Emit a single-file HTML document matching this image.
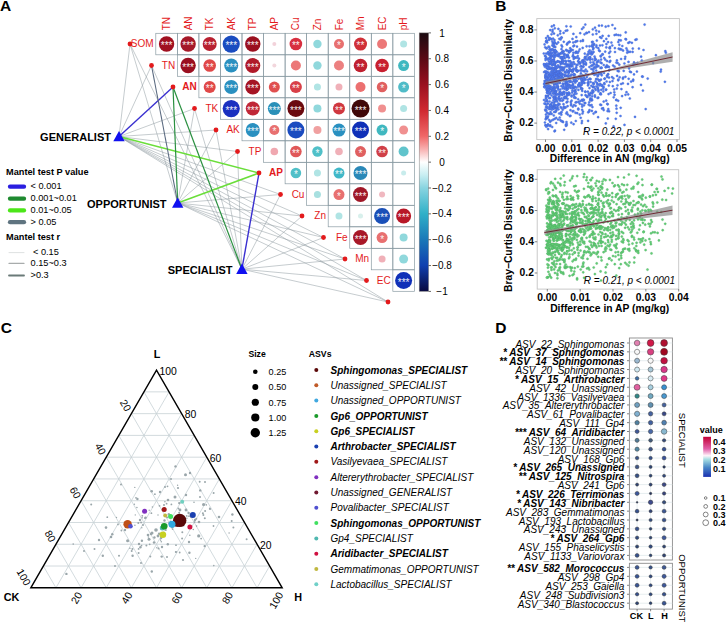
<!DOCTYPE html><html><head><meta charset="utf-8"><style>html,body{margin:0;padding:0;background:#fff;}svg{display:block;font-family:"Liberation Sans",sans-serif;}</style></head><body><svg width="726" height="622" viewBox="0 0 726 622"><text x="0" y="11.3" font-size="15.5" font-weight="bold">A</text>
<text x="495.3" y="11.100000000000001" font-size="15.5" font-weight="bold">B</text>
<text x="0.8" y="333.40000000000003" font-size="15.5" font-weight="bold">C</text>
<text x="495.2" y="333.40000000000003" font-size="15.5" font-weight="bold">D</text>
<g fill="none">
<line x1="119.0" y1="136.5" x2="130.0" y2="44.0" stroke="#8c989e" stroke-width="0.5"/>
<line x1="119.0" y1="136.5" x2="151.5" y2="65.5" stroke="#8c989e" stroke-width="0.5"/>
<line x1="119.0" y1="136.5" x2="194.5" y2="108.5" stroke="#8c989e" stroke-width="0.5"/>
<line x1="119.0" y1="136.5" x2="216.0" y2="130.0" stroke="#8c989e" stroke-width="0.5"/>
<line x1="119.0" y1="136.5" x2="237.5" y2="151.5" stroke="#8c989e" stroke-width="0.5"/>
<line x1="119.0" y1="136.5" x2="280.5" y2="194.5" stroke="#8c989e" stroke-width="0.5"/>
<line x1="119.0" y1="136.5" x2="302.0" y2="216.0" stroke="#8c989e" stroke-width="0.5"/>
<line x1="119.0" y1="136.5" x2="323.5" y2="237.5" stroke="#8c989e" stroke-width="0.5"/>
<line x1="119.0" y1="136.5" x2="345.0" y2="259.0" stroke="#8c989e" stroke-width="0.5"/>
<line x1="119.0" y1="136.5" x2="366.5" y2="280.5" stroke="#8c989e" stroke-width="0.5"/>
<line x1="119.0" y1="136.5" x2="388.0" y2="302.0" stroke="#8c989e" stroke-width="0.5"/>
<line x1="177.7" y1="203.0" x2="130.0" y2="44.0" stroke="#8c989e" stroke-width="0.5"/>
<line x1="177.7" y1="203.0" x2="194.5" y2="108.5" stroke="#8c989e" stroke-width="0.5"/>
<line x1="177.7" y1="203.0" x2="216.0" y2="130.0" stroke="#8c989e" stroke-width="0.5"/>
<line x1="177.7" y1="203.0" x2="237.5" y2="151.5" stroke="#8c989e" stroke-width="0.5"/>
<line x1="177.7" y1="203.0" x2="280.5" y2="194.5" stroke="#8c989e" stroke-width="0.5"/>
<line x1="177.7" y1="203.0" x2="302.0" y2="216.0" stroke="#8c989e" stroke-width="0.5"/>
<line x1="177.7" y1="203.0" x2="323.5" y2="237.5" stroke="#8c989e" stroke-width="0.5"/>
<line x1="177.7" y1="203.0" x2="345.0" y2="259.0" stroke="#8c989e" stroke-width="0.5"/>
<line x1="177.7" y1="203.0" x2="366.5" y2="280.5" stroke="#8c989e" stroke-width="0.5"/>
<line x1="177.7" y1="203.0" x2="388.0" y2="302.0" stroke="#8c989e" stroke-width="0.5"/>
<line x1="241.9" y1="269.2" x2="130.0" y2="44.0" stroke="#8c989e" stroke-width="0.5"/>
<line x1="241.9" y1="269.2" x2="151.5" y2="65.5" stroke="#8c989e" stroke-width="0.5"/>
<line x1="241.9" y1="269.2" x2="194.5" y2="108.5" stroke="#8c989e" stroke-width="0.5"/>
<line x1="241.9" y1="269.2" x2="216.0" y2="130.0" stroke="#8c989e" stroke-width="0.5"/>
<line x1="241.9" y1="269.2" x2="237.5" y2="151.5" stroke="#8c989e" stroke-width="0.5"/>
<line x1="241.9" y1="269.2" x2="280.5" y2="194.5" stroke="#8c989e" stroke-width="0.5"/>
<line x1="241.9" y1="269.2" x2="302.0" y2="216.0" stroke="#8c989e" stroke-width="0.5"/>
<line x1="241.9" y1="269.2" x2="323.5" y2="237.5" stroke="#8c989e" stroke-width="0.5"/>
<line x1="241.9" y1="269.2" x2="345.0" y2="259.0" stroke="#8c989e" stroke-width="0.5"/>
<line x1="241.9" y1="269.2" x2="366.5" y2="280.5" stroke="#8c989e" stroke-width="0.5"/>
<line x1="241.9" y1="269.2" x2="388.0" y2="302.0" stroke="#8c989e" stroke-width="0.5"/>
<line x1="119.0" y1="136.5" x2="173.0" y2="87.0" stroke="#3a30d0" stroke-width="1.4"/>
<line x1="119.0" y1="136.5" x2="259.0" y2="173.0" stroke="#6ade3a" stroke-width="1.5"/>
<line x1="177.7" y1="203.0" x2="173.0" y2="87.0" stroke="#2a9040" stroke-width="1.2"/>
<line x1="177.7" y1="203.0" x2="151.5" y2="65.5" stroke="#5a6a80" stroke-width="1.1"/>
<line x1="177.7" y1="203.0" x2="259.0" y2="173.0" stroke="#6ade3a" stroke-width="1.5"/>
<line x1="241.9" y1="269.2" x2="173.0" y2="87.0" stroke="#2a9040" stroke-width="1.2"/>
<line x1="241.9" y1="269.2" x2="259.0" y2="173.0" stroke="#3a30d0" stroke-width="1.4"/>
</g>
<circle cx="130.0" cy="44.0" r="2.4" fill="#e31a1c"/>
<circle cx="151.5" cy="65.5" r="2.4" fill="#e31a1c"/>
<circle cx="173.0" cy="87.0" r="2.4" fill="#e31a1c"/>
<circle cx="194.5" cy="108.5" r="2.4" fill="#e31a1c"/>
<circle cx="216.0" cy="130.0" r="2.4" fill="#e31a1c"/>
<circle cx="237.5" cy="151.5" r="2.4" fill="#e31a1c"/>
<circle cx="259.0" cy="173.0" r="2.4" fill="#e31a1c"/>
<circle cx="280.5" cy="194.5" r="2.4" fill="#e31a1c"/>
<circle cx="302.0" cy="216.0" r="2.4" fill="#e31a1c"/>
<circle cx="323.5" cy="237.5" r="2.4" fill="#e31a1c"/>
<circle cx="345.0" cy="259.0" r="2.4" fill="#e31a1c"/>
<circle cx="366.5" cy="280.5" r="2.4" fill="#e31a1c"/>
<circle cx="388.0" cy="302.0" r="2.4" fill="#e31a1c"/>
<path d="M113.3,141.2 L124.7,141.2 L119.0,130.9 Z" fill="#1010f0"/>
<path d="M172.0,207.7 L183.39999999999998,207.7 L177.7,197.4 Z" fill="#1010f0"/>
<path d="M236.20000000000002,273.9 L247.6,273.9 L241.9,263.59999999999997 Z" fill="#1010f0"/>
<g font-size="11" font-weight="bold" text-anchor="end">
<text x="111" y="140.5">GENERALIST</text>
<text x="166.5" y="207.5">OPPORTUNIST</text>
<text x="232.5" y="273.5">SPECIALIST</text>
</g>
<g fill="none" stroke="#8a9ca4" stroke-width="0.7">
<rect x="155.80" y="33.30" width="21.55" height="21.5"/>
<rect x="177.35" y="33.30" width="21.55" height="21.5"/>
<rect x="198.90" y="33.30" width="21.55" height="21.5"/>
<rect x="220.45" y="33.30" width="21.55" height="21.5"/>
<rect x="242.00" y="33.30" width="21.55" height="21.5"/>
<rect x="263.55" y="33.30" width="21.55" height="21.5"/>
<rect x="285.10" y="33.30" width="21.55" height="21.5"/>
<rect x="306.65" y="33.30" width="21.55" height="21.5"/>
<rect x="328.20" y="33.30" width="21.55" height="21.5"/>
<rect x="349.75" y="33.30" width="21.55" height="21.5"/>
<rect x="371.30" y="33.30" width="21.55" height="21.5"/>
<rect x="392.85" y="33.30" width="21.55" height="21.5"/>
<rect x="177.35" y="54.80" width="21.55" height="21.5"/>
<rect x="198.90" y="54.80" width="21.55" height="21.5"/>
<rect x="220.45" y="54.80" width="21.55" height="21.5"/>
<rect x="242.00" y="54.80" width="21.55" height="21.5"/>
<rect x="263.55" y="54.80" width="21.55" height="21.5"/>
<rect x="285.10" y="54.80" width="21.55" height="21.5"/>
<rect x="306.65" y="54.80" width="21.55" height="21.5"/>
<rect x="328.20" y="54.80" width="21.55" height="21.5"/>
<rect x="349.75" y="54.80" width="21.55" height="21.5"/>
<rect x="371.30" y="54.80" width="21.55" height="21.5"/>
<rect x="392.85" y="54.80" width="21.55" height="21.5"/>
<rect x="198.90" y="76.30" width="21.55" height="21.5"/>
<rect x="220.45" y="76.30" width="21.55" height="21.5"/>
<rect x="242.00" y="76.30" width="21.55" height="21.5"/>
<rect x="263.55" y="76.30" width="21.55" height="21.5"/>
<rect x="285.10" y="76.30" width="21.55" height="21.5"/>
<rect x="306.65" y="76.30" width="21.55" height="21.5"/>
<rect x="328.20" y="76.30" width="21.55" height="21.5"/>
<rect x="349.75" y="76.30" width="21.55" height="21.5"/>
<rect x="371.30" y="76.30" width="21.55" height="21.5"/>
<rect x="392.85" y="76.30" width="21.55" height="21.5"/>
<rect x="220.45" y="97.80" width="21.55" height="21.5"/>
<rect x="242.00" y="97.80" width="21.55" height="21.5"/>
<rect x="263.55" y="97.80" width="21.55" height="21.5"/>
<rect x="285.10" y="97.80" width="21.55" height="21.5"/>
<rect x="306.65" y="97.80" width="21.55" height="21.5"/>
<rect x="328.20" y="97.80" width="21.55" height="21.5"/>
<rect x="349.75" y="97.80" width="21.55" height="21.5"/>
<rect x="371.30" y="97.80" width="21.55" height="21.5"/>
<rect x="392.85" y="97.80" width="21.55" height="21.5"/>
<rect x="242.00" y="119.30" width="21.55" height="21.5"/>
<rect x="263.55" y="119.30" width="21.55" height="21.5"/>
<rect x="285.10" y="119.30" width="21.55" height="21.5"/>
<rect x="306.65" y="119.30" width="21.55" height="21.5"/>
<rect x="328.20" y="119.30" width="21.55" height="21.5"/>
<rect x="349.75" y="119.30" width="21.55" height="21.5"/>
<rect x="371.30" y="119.30" width="21.55" height="21.5"/>
<rect x="392.85" y="119.30" width="21.55" height="21.5"/>
<rect x="263.55" y="140.80" width="21.55" height="21.5"/>
<rect x="285.10" y="140.80" width="21.55" height="21.5"/>
<rect x="306.65" y="140.80" width="21.55" height="21.5"/>
<rect x="328.20" y="140.80" width="21.55" height="21.5"/>
<rect x="349.75" y="140.80" width="21.55" height="21.5"/>
<rect x="371.30" y="140.80" width="21.55" height="21.5"/>
<rect x="392.85" y="140.80" width="21.55" height="21.5"/>
<rect x="285.10" y="162.30" width="21.55" height="21.5"/>
<rect x="306.65" y="162.30" width="21.55" height="21.5"/>
<rect x="328.20" y="162.30" width="21.55" height="21.5"/>
<rect x="349.75" y="162.30" width="21.55" height="21.5"/>
<rect x="371.30" y="162.30" width="21.55" height="21.5"/>
<rect x="392.85" y="162.30" width="21.55" height="21.5"/>
<rect x="306.65" y="183.80" width="21.55" height="21.5"/>
<rect x="328.20" y="183.80" width="21.55" height="21.5"/>
<rect x="349.75" y="183.80" width="21.55" height="21.5"/>
<rect x="371.30" y="183.80" width="21.55" height="21.5"/>
<rect x="392.85" y="183.80" width="21.55" height="21.5"/>
<rect x="328.20" y="205.30" width="21.55" height="21.5"/>
<rect x="349.75" y="205.30" width="21.55" height="21.5"/>
<rect x="371.30" y="205.30" width="21.55" height="21.5"/>
<rect x="392.85" y="205.30" width="21.55" height="21.5"/>
<rect x="349.75" y="226.80" width="21.55" height="21.5"/>
<rect x="371.30" y="226.80" width="21.55" height="21.5"/>
<rect x="392.85" y="226.80" width="21.55" height="21.5"/>
<rect x="371.30" y="248.30" width="21.55" height="21.5"/>
<rect x="392.85" y="248.30" width="21.55" height="21.5"/>
<rect x="392.85" y="269.80" width="21.55" height="21.5"/>
</g>
<circle cx="166.58" cy="44.05" r="7.7" fill="#a01020"/>
<text x="166.58" y="49.35" font-size="10" fill="#fff" text-anchor="middle" opacity="0.92">***</text>
<circle cx="188.12" cy="44.05" r="7.7" fill="#a51828"/>
<text x="188.12" y="49.35" font-size="10" fill="#fff" text-anchor="middle" opacity="0.92">***</text>
<circle cx="209.68" cy="44.05" r="7.0" fill="#b82030"/>
<text x="209.68" y="49.35" font-size="10" fill="#fff" text-anchor="middle" opacity="0.92">***</text>
<circle cx="231.23" cy="44.05" r="8.6" fill="#1a4cc0"/>
<text x="231.23" y="49.35" font-size="10" fill="#fff" text-anchor="middle" opacity="0.92">***</text>
<circle cx="252.78" cy="44.05" r="7.7" fill="#9a1020"/>
<text x="252.78" y="49.35" font-size="10" fill="#fff" text-anchor="middle" opacity="0.92">***</text>
<circle cx="274.33" cy="44.05" r="2.0" fill="#f2d2da"/>
<circle cx="295.88" cy="44.05" r="6.3" fill="#d83040"/>
<text x="295.88" y="49.35" font-size="10" fill="#fff" text-anchor="middle" opacity="0.92">**</text>
<circle cx="317.43" cy="44.05" r="4.2" fill="#90d8dc"/>
<circle cx="338.98" cy="44.05" r="5.0" fill="#e87070"/>
<text x="338.98" y="49.35" font-size="10" fill="#fff" text-anchor="middle" opacity="0.92">*</text>
<circle cx="360.52" cy="44.05" r="6.5" fill="#d03038"/>
<text x="360.52" y="49.35" font-size="10" fill="#fff" text-anchor="middle" opacity="0.92">**</text>
<circle cx="382.08" cy="44.05" r="5.0" fill="#ec7878"/>
<circle cx="403.62" cy="44.05" r="3.5" fill="#b0e4e4"/>
<circle cx="188.12" cy="65.55" r="7.7" fill="#9a0f20"/>
<text x="188.12" y="70.85" font-size="10" fill="#fff" text-anchor="middle" opacity="0.92">***</text>
<circle cx="209.68" cy="65.55" r="6.3" fill="#e04848"/>
<text x="209.68" y="70.85" font-size="10" fill="#fff" text-anchor="middle" opacity="0.92">**</text>
<circle cx="231.23" cy="65.55" r="7.0" fill="#2a90c0"/>
<text x="231.23" y="70.85" font-size="10" fill="#fff" text-anchor="middle" opacity="0.92">***</text>
<circle cx="252.78" cy="65.55" r="7.5" fill="#b01a2a"/>
<text x="252.78" y="70.85" font-size="10" fill="#fff" text-anchor="middle" opacity="0.92">***</text>
<circle cx="274.33" cy="65.55" r="2.0" fill="#f2d6dc"/>
<circle cx="295.88" cy="65.55" r="5.0" fill="#ec7878"/>
<circle cx="317.43" cy="65.55" r="4.2" fill="#90d8dc"/>
<circle cx="338.98" cy="65.55" r="5.0" fill="#ec8080"/>
<circle cx="360.52" cy="65.55" r="6.8" fill="#c02030"/>
<text x="360.52" y="70.85" font-size="10" fill="#fff" text-anchor="middle" opacity="0.92">**</text>
<circle cx="382.08" cy="65.55" r="6.8" fill="#c82030"/>
<text x="382.08" y="70.85" font-size="10" fill="#fff" text-anchor="middle" opacity="0.92">**</text>
<circle cx="403.62" cy="65.55" r="5.5" fill="#40b8c0"/>
<text x="403.62" y="70.85" font-size="10" fill="#fff" text-anchor="middle" opacity="0.92">*</text>
<circle cx="209.68" cy="87.05" r="6.0" fill="#e04848"/>
<text x="209.68" y="92.35" font-size="10" fill="#fff" text-anchor="middle" opacity="0.92">**</text>
<circle cx="231.23" cy="87.05" r="7.0" fill="#2a90c0"/>
<text x="231.23" y="92.35" font-size="10" fill="#fff" text-anchor="middle" opacity="0.92">***</text>
<circle cx="252.78" cy="87.05" r="7.5" fill="#a51525"/>
<text x="252.78" y="92.35" font-size="10" fill="#fff" text-anchor="middle" opacity="0.92">***</text>
<circle cx="274.33" cy="87.05" r="5.5" fill="#e05050"/>
<text x="274.33" y="92.35" font-size="10" fill="#fff" text-anchor="middle" opacity="0.92">*</text>
<circle cx="295.88" cy="87.05" r="6.0" fill="#d84048"/>
<text x="295.88" y="92.35" font-size="10" fill="#fff" text-anchor="middle" opacity="0.92">**</text>
<circle cx="317.43" cy="87.05" r="3.5" fill="#b0e4e4"/>
<circle cx="338.98" cy="87.05" r="3.5" fill="#f0b0b8"/>
<circle cx="360.52" cy="87.05" r="5.0" fill="#ec7070"/>
<circle cx="382.08" cy="87.05" r="5.3" fill="#e06060"/>
<text x="382.08" y="92.35" font-size="10" fill="#fff" text-anchor="middle" opacity="0.92">*</text>
<circle cx="403.62" cy="87.05" r="5.5" fill="#50bcc8"/>
<text x="403.62" y="92.35" font-size="10" fill="#fff" text-anchor="middle" opacity="0.92">*</text>
<circle cx="231.23" cy="108.55" r="8.6" fill="#1a30c0"/>
<text x="231.23" y="113.85" font-size="10" fill="#fff" text-anchor="middle" opacity="0.92">***</text>
<circle cx="252.78" cy="108.55" r="7.0" fill="#c02838"/>
<text x="252.78" y="113.85" font-size="10" fill="#fff" text-anchor="middle" opacity="0.92">***</text>
<circle cx="274.33" cy="108.55" r="6.5" fill="#2a90b8"/>
<text x="274.33" y="113.85" font-size="10" fill="#fff" text-anchor="middle" opacity="0.92">***</text>
<circle cx="295.88" cy="108.55" r="8.5" fill="#6a0a10"/>
<text x="295.88" y="113.85" font-size="10" fill="#fff" text-anchor="middle" opacity="0.92">***</text>
<circle cx="317.43" cy="108.55" r="4.0" fill="#90d8dc"/>
<circle cx="338.98" cy="108.55" r="6.0" fill="#d03840"/>
<text x="338.98" y="113.85" font-size="10" fill="#fff" text-anchor="middle" opacity="0.92">**</text>
<circle cx="360.52" cy="108.55" r="9.0" fill="#400808"/>
<text x="360.52" y="113.85" font-size="10" fill="#fff" text-anchor="middle" opacity="0.92">***</text>
<circle cx="382.08" cy="108.55" r="4.0" fill="#f09090"/>
<circle cx="403.62" cy="108.55" r="3.5" fill="#b0e4e4"/>
<circle cx="252.78" cy="130.05" r="7.0" fill="#2a90c0"/>
<text x="252.78" y="135.35" font-size="10" fill="#fff" text-anchor="middle" opacity="0.92">***</text>
<circle cx="274.33" cy="130.05" r="5.0" fill="#e87070"/>
<text x="274.33" y="135.35" font-size="10" fill="#fff" text-anchor="middle" opacity="0.92">*</text>
<circle cx="295.88" cy="130.05" r="8.5" fill="#1a4cc0"/>
<text x="295.88" y="135.35" font-size="10" fill="#fff" text-anchor="middle" opacity="0.92">***</text>
<circle cx="317.43" cy="130.05" r="4.0" fill="#f0a0a0"/>
<circle cx="338.98" cy="130.05" r="6.5" fill="#2a90c0"/>
<text x="338.98" y="135.35" font-size="10" fill="#fff" text-anchor="middle" opacity="0.92">***</text>
<circle cx="360.52" cy="130.05" r="8.5" fill="#1030b8"/>
<text x="360.52" y="135.35" font-size="10" fill="#fff" text-anchor="middle" opacity="0.92">***</text>
<circle cx="382.08" cy="130.05" r="5.5" fill="#40b8c0"/>
<text x="382.08" y="135.35" font-size="10" fill="#fff" text-anchor="middle" opacity="0.92">*</text>
<circle cx="403.62" cy="130.05" r="4.5" fill="#f09090"/>
<circle cx="274.33" cy="151.55" r="3.8" fill="#f0a8b0"/>
<circle cx="295.88" cy="151.55" r="5.8" fill="#e05858"/>
<text x="295.88" y="156.85" font-size="10" fill="#fff" text-anchor="middle" opacity="0.92">**</text>
<circle cx="317.43" cy="151.55" r="5.2" fill="#50c0c8"/>
<text x="317.43" y="156.85" font-size="10" fill="#fff" text-anchor="middle" opacity="0.92">*</text>
<circle cx="338.98" cy="151.55" r="3.8" fill="#f0b0b8"/>
<circle cx="360.52" cy="151.55" r="5.5" fill="#e06060"/>
<text x="360.52" y="156.85" font-size="10" fill="#fff" text-anchor="middle" opacity="0.92">*</text>
<circle cx="382.08" cy="151.55" r="5.8" fill="#d04048"/>
<text x="382.08" y="156.85" font-size="10" fill="#fff" text-anchor="middle" opacity="0.92">**</text>
<circle cx="403.62" cy="151.55" r="5.0" fill="#60c4cc"/>
<circle cx="295.88" cy="173.05" r="5.3" fill="#50c0c8"/>
<text x="295.88" y="178.35" font-size="10" fill="#fff" text-anchor="middle" opacity="0.92">*</text>
<circle cx="317.43" cy="173.05" r="3.5" fill="#b0e4e4"/>
<circle cx="338.98" cy="173.05" r="5.5" fill="#40b8c8"/>
<text x="338.98" y="178.35" font-size="10" fill="#fff" text-anchor="middle" opacity="0.92">**</text>
<circle cx="360.52" cy="173.05" r="7.0" fill="#2a88b8"/>
<text x="360.52" y="178.35" font-size="10" fill="#fff" text-anchor="middle" opacity="0.92">***</text>
<circle cx="403.62" cy="173.05" r="2.5" fill="#c8ecec"/>
<circle cx="317.43" cy="194.55" r="3.5" fill="#a8e0e0"/>
<circle cx="338.98" cy="194.55" r="5.5" fill="#e87070"/>
<text x="338.98" y="199.85" font-size="10" fill="#fff" text-anchor="middle" opacity="0.92">*</text>
<circle cx="360.52" cy="194.55" r="7.5" fill="#a01828"/>
<text x="360.52" y="199.85" font-size="10" fill="#fff" text-anchor="middle" opacity="0.92">***</text>
<circle cx="382.08" cy="194.55" r="3.0" fill="#f0b8c0"/>
<circle cx="338.98" cy="216.05" r="3.5" fill="#b0e4e4"/>
<circle cx="360.52" cy="216.05" r="2.5" fill="#d8f0ec"/>
<circle cx="382.08" cy="216.05" r="8.0" fill="#1a50b8"/>
<text x="382.08" y="221.35" font-size="10" fill="#fff" text-anchor="middle" opacity="0.92">***</text>
<circle cx="403.62" cy="216.05" r="7.5" fill="#b81828"/>
<text x="403.62" y="221.35" font-size="10" fill="#fff" text-anchor="middle" opacity="0.92">***</text>
<circle cx="360.52" cy="237.55" r="7.5" fill="#a81828"/>
<text x="360.52" y="242.85" font-size="10" fill="#fff" text-anchor="middle" opacity="0.92">***</text>
<circle cx="382.08" cy="237.55" r="5.5" fill="#e87070"/>
<text x="382.08" y="242.85" font-size="10" fill="#fff" text-anchor="middle" opacity="0.92">*</text>
<circle cx="403.62" cy="237.55" r="4.0" fill="#90d8dc"/>
<circle cx="382.08" cy="259.05" r="3.5" fill="#f0b0b8"/>
<circle cx="403.62" cy="259.05" r="4.5" fill="#90d8dc"/>
<circle cx="403.62" cy="280.55" r="8.5" fill="#1030b8"/>
<text x="403.62" y="285.85" font-size="10" fill="#fff" text-anchor="middle" opacity="0.92">***</text>
<g font-size="10" fill="#e31a1c">
<text transform="translate(170.18,30.3) rotate(-90)">TN</text>
<text transform="translate(191.72,30.3) rotate(-90)">AN</text>
<text transform="translate(213.28,30.3) rotate(-90)">TK</text>
<text transform="translate(234.83,30.3) rotate(-90)">AK</text>
<text transform="translate(256.38,30.3) rotate(-90)">TP</text>
<text transform="translate(277.93,30.3) rotate(-90)">AP</text>
<text transform="translate(299.48,30.3) rotate(-90)">Cu</text>
<text transform="translate(321.03,30.3) rotate(-90)">Zn</text>
<text transform="translate(342.58,30.3) rotate(-90)">Fe</text>
<text transform="translate(364.12,30.3) rotate(-90)">Mn</text>
<text transform="translate(385.68,30.3) rotate(-90)">EC</text>
<text transform="translate(407.23,30.3) rotate(-90)">pH</text>
<text x="153.60" y="47.15" text-anchor="end">SOM</text>
<text x="175.15" y="68.65" text-anchor="end">TN</text>
<text x="196.70" y="90.15" text-anchor="end" font-weight="bold">AN</text>
<text x="218.25" y="111.65" text-anchor="end">TK</text>
<text x="239.80" y="133.15" text-anchor="end">AK</text>
<text x="261.35" y="154.65" text-anchor="end">TP</text>
<text x="282.90" y="176.15" text-anchor="end" font-weight="bold">AP</text>
<text x="304.45" y="197.65" text-anchor="end">Cu</text>
<text x="326.00" y="219.15" text-anchor="end">Zn</text>
<text x="347.55" y="240.65" text-anchor="end">Fe</text>
<text x="369.10" y="262.15" text-anchor="end">Mn</text>
<text x="390.65" y="283.65" text-anchor="end">EC</text>
</g>
<defs><linearGradient id="cb" x1="0" y1="0" x2="0" y2="1"><stop offset="0" stop-color="#1a0a10"/><stop offset="0.1" stop-color="#5a0a14"/><stop offset="0.2" stop-color="#9a1020"/><stop offset="0.3" stop-color="#d02830"/><stop offset="0.4" stop-color="#f06868"/><stop offset="0.45" stop-color="#f8b0b0"/><stop offset="0.5" stop-color="#ffffff"/><stop offset="0.55" stop-color="#c8eef2"/><stop offset="0.6" stop-color="#88d4e0"/><stop offset="0.7" stop-color="#30b0c8"/><stop offset="0.8" stop-color="#1a78b8"/><stop offset="0.9" stop-color="#1040b0"/><stop offset="1" stop-color="#0a0a40"/></linearGradient><linearGradient id="vb" x1="0" y1="0" x2="0" y2="1"><stop offset="0" stop-color="#c40035"/><stop offset="0.3" stop-color="#e060a8"/><stop offset="0.47" stop-color="#fff4fa"/><stop offset="0.56" stop-color="#a8e0e4"/><stop offset="0.76" stop-color="#4a88c8"/><stop offset="1" stop-color="#1a30b0"/></linearGradient></defs>
<rect x="419.2" y="32.9" width="9.4" height="258.4" fill="url(#cb)" stroke="#808080" stroke-width="0.5"/>
<g font-size="10">
<line x1="428.6" y1="32.90" x2="431" y2="32.90" stroke="#000" stroke-width="0.6"/>
<text x="442" y="36.50" text-anchor="middle">1</text>
<line x1="428.6" y1="58.75" x2="431" y2="58.75" stroke="#000" stroke-width="0.6"/>
<text x="442" y="62.35" text-anchor="middle">0.8</text>
<line x1="428.6" y1="84.60" x2="431" y2="84.60" stroke="#000" stroke-width="0.6"/>
<text x="442" y="88.20" text-anchor="middle">0.6</text>
<line x1="428.6" y1="110.45" x2="431" y2="110.45" stroke="#000" stroke-width="0.6"/>
<text x="442" y="114.05" text-anchor="middle">0.4</text>
<line x1="428.6" y1="136.30" x2="431" y2="136.30" stroke="#000" stroke-width="0.6"/>
<text x="442" y="139.90" text-anchor="middle">0.2</text>
<line x1="428.6" y1="162.15" x2="431" y2="162.15" stroke="#000" stroke-width="0.6"/>
<text x="442" y="165.75" text-anchor="middle">0</text>
<line x1="428.6" y1="188.00" x2="431" y2="188.00" stroke="#000" stroke-width="0.6"/>
<text x="442" y="191.60" text-anchor="middle">−0.2</text>
<line x1="428.6" y1="213.85" x2="431" y2="213.85" stroke="#000" stroke-width="0.6"/>
<text x="442" y="217.45" text-anchor="middle">−0.4</text>
<line x1="428.6" y1="239.70" x2="431" y2="239.70" stroke="#000" stroke-width="0.6"/>
<text x="442" y="243.30" text-anchor="middle">−0.6</text>
<line x1="428.6" y1="265.55" x2="431" y2="265.55" stroke="#000" stroke-width="0.6"/>
<text x="442" y="269.15" text-anchor="middle">−0.8</text>
<line x1="428.6" y1="291.40" x2="431" y2="291.40" stroke="#000" stroke-width="0.6"/>
<text x="442" y="295.00" text-anchor="middle">−1</text>
</g>
<g font-size="9.2" font-weight="bold"><text x="6" y="175.3">Mantel test P value</text><text x="6" y="240">Mantel test r</text></g>
<g stroke-linecap="round">
<line x1="10" y1="186.7" x2="24" y2="186.7" stroke="#2a1ee0" stroke-width="4.3"/>
<line x1="10" y1="198.7" x2="24" y2="198.7" stroke="#1f8a30" stroke-width="4.3"/>
<line x1="10" y1="210.4" x2="24" y2="210.4" stroke="#4ce619" stroke-width="4.3"/>
<line x1="10" y1="222.2" x2="24" y2="222.2" stroke="#5f7480" stroke-width="4.3"/>
<line x1="9" y1="252.6" x2="24" y2="252.6" stroke="#c8cccc" stroke-width="0.6"/>
<line x1="9" y1="263.4" x2="24" y2="263.4" stroke="#a8acac" stroke-width="1.2"/>
<line x1="9" y1="275.5" x2="24" y2="275.5" stroke="#6a7a78" stroke-width="1.8"/>
</g>
<g font-size="9.2">
<text x="30.6" y="189.3">&lt; 0.001</text>
<text x="30.6" y="201.2">0.001~0.01</text>
<text x="30.6" y="213">0.01~0.05</text>
<text x="30.6" y="224.8">&gt; 0.05</text>
<text x="33.0" y="255.3"> &lt; 0.15</text>
<text x="30.6" y="266.2">0.15~0.3</text>
<text x="30.6" y="278.2">&gt;0.3</text>
</g>
<rect x="536.8" y="18.6" width="142.60000000000002" height="121.0" fill="#fff" stroke="#c4c4c4" stroke-width="0.9"/>
<g fill="#4a7af2" stroke="#4866c8" stroke-width="0.35">
<circle cx="569.0" cy="52.5" r="1.1"/><circle cx="600.2" cy="83.9" r="1.1"/><circle cx="554.2" cy="62.5" r="1.1"/><circle cx="559.6" cy="67.2" r="1.1"/><circle cx="545.6" cy="101.5" r="1.1"/><circle cx="642.9" cy="90.6" r="1.1"/><circle cx="593.8" cy="44.9" r="1.1"/><circle cx="572.1" cy="71.6" r="1.1"/><circle cx="564.1" cy="98.1" r="1.1"/><circle cx="553.4" cy="75.3" r="1.1"/><circle cx="596.0" cy="74.4" r="1.1"/><circle cx="552.2" cy="71.4" r="1.1"/><circle cx="553.6" cy="63.5" r="1.1"/><circle cx="545.6" cy="82.0" r="1.1"/><circle cx="551.2" cy="77.2" r="1.1"/><circle cx="547.3" cy="101.4" r="1.1"/><circle cx="548.6" cy="74.6" r="1.1"/><circle cx="568.9" cy="72.1" r="1.1"/><circle cx="557.6" cy="55.0" r="1.1"/><circle cx="596.4" cy="45.4" r="1.1"/><circle cx="554.0" cy="97.6" r="1.1"/><circle cx="552.5" cy="31.8" r="1.1"/><circle cx="557.4" cy="75.4" r="1.1"/><circle cx="587.6" cy="54.5" r="1.1"/><circle cx="551.4" cy="79.3" r="1.1"/><circle cx="546.8" cy="48.0" r="1.1"/><circle cx="552.6" cy="75.0" r="1.1"/><circle cx="592.4" cy="59.3" r="1.1"/><circle cx="548.9" cy="61.5" r="1.1"/><circle cx="545.9" cy="64.2" r="1.1"/><circle cx="554.0" cy="84.7" r="1.1"/><circle cx="600.4" cy="72.6" r="1.1"/><circle cx="552.5" cy="90.0" r="1.1"/><circle cx="548.3" cy="80.1" r="1.1"/><circle cx="617.7" cy="63.0" r="1.1"/><circle cx="569.3" cy="61.5" r="1.1"/><circle cx="563.6" cy="61.1" r="1.1"/><circle cx="606.8" cy="65.3" r="1.1"/><circle cx="545.3" cy="80.8" r="1.1"/><circle cx="575.6" cy="79.0" r="1.1"/><circle cx="552.0" cy="102.7" r="1.1"/><circle cx="559.6" cy="92.2" r="1.1"/><circle cx="562.5" cy="121.4" r="1.1"/><circle cx="579.1" cy="62.8" r="1.1"/><circle cx="581.8" cy="123.1" r="1.1"/><circle cx="615.8" cy="118.8" r="1.1"/><circle cx="566.5" cy="122.0" r="1.1"/><circle cx="626.4" cy="48.4" r="1.1"/><circle cx="595.5" cy="81.4" r="1.1"/><circle cx="591.3" cy="100.4" r="1.1"/><circle cx="562.9" cy="74.3" r="1.1"/><circle cx="578.2" cy="61.2" r="1.1"/><circle cx="563.3" cy="70.2" r="1.1"/><circle cx="550.5" cy="55.9" r="1.1"/><circle cx="588.0" cy="54.5" r="1.1"/><circle cx="561.1" cy="57.1" r="1.1"/><circle cx="601.2" cy="89.8" r="1.1"/><circle cx="564.9" cy="72.1" r="1.1"/><circle cx="551.7" cy="53.4" r="1.1"/><circle cx="553.9" cy="83.2" r="1.1"/><circle cx="567.0" cy="93.5" r="1.1"/><circle cx="549.0" cy="39.9" r="1.1"/><circle cx="594.8" cy="67.3" r="1.1"/><circle cx="565.1" cy="72.2" r="1.1"/><circle cx="546.8" cy="88.5" r="1.1"/><circle cx="633.2" cy="79.7" r="1.1"/><circle cx="601.3" cy="74.2" r="1.1"/><circle cx="566.3" cy="55.3" r="1.1"/><circle cx="556.6" cy="71.2" r="1.1"/><circle cx="606.9" cy="75.6" r="1.1"/><circle cx="550.4" cy="104.5" r="1.1"/><circle cx="547.5" cy="59.0" r="1.1"/><circle cx="598.3" cy="79.6" r="1.1"/><circle cx="598.1" cy="117.2" r="1.1"/><circle cx="545.5" cy="125.0" r="1.1"/><circle cx="551.6" cy="91.0" r="1.1"/><circle cx="550.1" cy="121.8" r="1.1"/><circle cx="553.3" cy="93.6" r="1.1"/><circle cx="600.5" cy="93.2" r="1.1"/><circle cx="572.5" cy="38.9" r="1.1"/><circle cx="562.4" cy="51.5" r="1.1"/><circle cx="547.6" cy="91.4" r="1.1"/><circle cx="559.8" cy="98.9" r="1.1"/><circle cx="587.1" cy="96.9" r="1.1"/><circle cx="551.1" cy="68.6" r="1.1"/><circle cx="567.3" cy="30.4" r="1.1"/><circle cx="574.1" cy="81.3" r="1.1"/><circle cx="581.0" cy="78.7" r="1.1"/><circle cx="573.7" cy="79.8" r="1.1"/><circle cx="548.2" cy="90.4" r="1.1"/><circle cx="575.7" cy="57.6" r="1.1"/><circle cx="574.1" cy="57.1" r="1.1"/><circle cx="566.2" cy="66.4" r="1.1"/><circle cx="546.4" cy="87.7" r="1.1"/><circle cx="585.5" cy="95.2" r="1.1"/><circle cx="608.1" cy="42.1" r="1.1"/><circle cx="598.3" cy="97.7" r="1.1"/><circle cx="570.1" cy="82.0" r="1.1"/><circle cx="565.5" cy="98.0" r="1.1"/><circle cx="551.2" cy="104.3" r="1.1"/><circle cx="553.9" cy="62.5" r="1.1"/><circle cx="597.8" cy="84.3" r="1.1"/><circle cx="605.8" cy="67.1" r="1.1"/><circle cx="554.5" cy="40.1" r="1.1"/><circle cx="606.2" cy="100.7" r="1.1"/><circle cx="562.7" cy="57.1" r="1.1"/><circle cx="609.1" cy="111.3" r="1.1"/><circle cx="598.4" cy="72.7" r="1.1"/><circle cx="545.5" cy="110.6" r="1.1"/><circle cx="599.3" cy="80.7" r="1.1"/><circle cx="544.1" cy="72.1" r="1.1"/><circle cx="576.4" cy="81.0" r="1.1"/><circle cx="575.6" cy="102.5" r="1.1"/><circle cx="653.1" cy="63.1" r="1.1"/><circle cx="575.4" cy="77.6" r="1.1"/><circle cx="570.8" cy="102.1" r="1.1"/><circle cx="555.2" cy="94.2" r="1.1"/><circle cx="566.5" cy="125.5" r="1.1"/><circle cx="555.4" cy="83.1" r="1.1"/><circle cx="553.9" cy="25.4" r="1.1"/><circle cx="551.6" cy="95.5" r="1.1"/><circle cx="558.0" cy="119.5" r="1.1"/><circle cx="575.6" cy="52.7" r="1.1"/><circle cx="596.2" cy="70.6" r="1.1"/><circle cx="585.3" cy="91.5" r="1.1"/><circle cx="545.3" cy="109.6" r="1.1"/><circle cx="557.4" cy="74.4" r="1.1"/><circle cx="592.3" cy="73.3" r="1.1"/><circle cx="546.5" cy="89.8" r="1.1"/><circle cx="569.7" cy="69.2" r="1.1"/><circle cx="569.4" cy="41.9" r="1.1"/><circle cx="552.7" cy="81.9" r="1.1"/><circle cx="555.0" cy="64.9" r="1.1"/><circle cx="564.6" cy="54.2" r="1.1"/><circle cx="578.3" cy="108.7" r="1.1"/><circle cx="563.3" cy="84.2" r="1.1"/><circle cx="558.9" cy="80.5" r="1.1"/><circle cx="547.5" cy="77.8" r="1.1"/><circle cx="551.3" cy="81.3" r="1.1"/><circle cx="617.1" cy="75.9" r="1.1"/><circle cx="574.6" cy="57.8" r="1.1"/><circle cx="559.1" cy="82.5" r="1.1"/><circle cx="554.4" cy="90.2" r="1.1"/><circle cx="596.7" cy="79.0" r="1.1"/><circle cx="607.7" cy="104.3" r="1.1"/><circle cx="567.4" cy="64.6" r="1.1"/><circle cx="593.3" cy="73.2" r="1.1"/><circle cx="555.2" cy="96.7" r="1.1"/><circle cx="569.0" cy="94.1" r="1.1"/><circle cx="558.9" cy="72.7" r="1.1"/><circle cx="549.6" cy="63.4" r="1.1"/><circle cx="547.0" cy="112.7" r="1.1"/><circle cx="615.0" cy="52.0" r="1.1"/><circle cx="569.6" cy="93.6" r="1.1"/><circle cx="585.4" cy="91.9" r="1.1"/><circle cx="616.2" cy="34.7" r="1.1"/><circle cx="596.8" cy="40.6" r="1.1"/><circle cx="555.8" cy="105.0" r="1.1"/><circle cx="570.4" cy="50.5" r="1.1"/><circle cx="579.2" cy="83.2" r="1.1"/><circle cx="546.1" cy="73.8" r="1.1"/><circle cx="560.2" cy="92.0" r="1.1"/><circle cx="561.5" cy="37.5" r="1.1"/><circle cx="558.1" cy="86.4" r="1.1"/><circle cx="558.7" cy="98.5" r="1.1"/><circle cx="554.5" cy="131.3" r="1.1"/><circle cx="578.2" cy="99.3" r="1.1"/><circle cx="588.1" cy="120.9" r="1.1"/><circle cx="582.9" cy="40.0" r="1.1"/><circle cx="580.8" cy="87.5" r="1.1"/><circle cx="571.2" cy="66.4" r="1.1"/><circle cx="600.5" cy="68.0" r="1.1"/><circle cx="569.4" cy="42.0" r="1.1"/><circle cx="552.2" cy="88.5" r="1.1"/><circle cx="544.7" cy="86.4" r="1.1"/><circle cx="605.8" cy="123.4" r="1.1"/><circle cx="593.7" cy="64.5" r="1.1"/><circle cx="580.2" cy="33.2" r="1.1"/><circle cx="562.7" cy="109.8" r="1.1"/><circle cx="548.8" cy="80.2" r="1.1"/><circle cx="563.4" cy="51.3" r="1.1"/><circle cx="547.3" cy="117.8" r="1.1"/><circle cx="559.7" cy="70.8" r="1.1"/><circle cx="559.6" cy="104.3" r="1.1"/><circle cx="601.6" cy="63.2" r="1.1"/><circle cx="618.3" cy="42.1" r="1.1"/><circle cx="551.3" cy="78.1" r="1.1"/><circle cx="568.6" cy="93.2" r="1.1"/><circle cx="545.4" cy="75.0" r="1.1"/><circle cx="566.0" cy="61.8" r="1.1"/><circle cx="589.7" cy="53.4" r="1.1"/><circle cx="554.0" cy="43.2" r="1.1"/><circle cx="550.6" cy="61.5" r="1.1"/><circle cx="573.4" cy="88.0" r="1.1"/><circle cx="556.2" cy="72.1" r="1.1"/><circle cx="592.2" cy="96.3" r="1.1"/><circle cx="594.1" cy="44.0" r="1.1"/><circle cx="560.0" cy="77.3" r="1.1"/><circle cx="604.5" cy="78.8" r="1.1"/><circle cx="565.6" cy="60.9" r="1.1"/><circle cx="569.3" cy="52.0" r="1.1"/><circle cx="553.4" cy="45.9" r="1.1"/><circle cx="548.0" cy="83.9" r="1.1"/><circle cx="547.3" cy="92.8" r="1.1"/><circle cx="589.4" cy="67.1" r="1.1"/><circle cx="553.9" cy="105.4" r="1.1"/><circle cx="570.7" cy="51.0" r="1.1"/><circle cx="615.0" cy="28.5" r="1.1"/><circle cx="558.5" cy="103.5" r="1.1"/><circle cx="577.0" cy="46.6" r="1.1"/><circle cx="563.8" cy="54.3" r="1.1"/><circle cx="568.6" cy="75.5" r="1.1"/><circle cx="665.8" cy="52.7" r="1.1"/><circle cx="582.2" cy="90.9" r="1.1"/><circle cx="584.6" cy="102.9" r="1.1"/><circle cx="558.3" cy="56.2" r="1.1"/><circle cx="569.7" cy="81.1" r="1.1"/><circle cx="545.4" cy="104.0" r="1.1"/><circle cx="561.0" cy="68.4" r="1.1"/><circle cx="612.3" cy="45.5" r="1.1"/><circle cx="609.0" cy="77.6" r="1.1"/><circle cx="572.6" cy="71.3" r="1.1"/><circle cx="553.6" cy="97.3" r="1.1"/><circle cx="638.9" cy="48.6" r="1.1"/><circle cx="554.2" cy="98.4" r="1.1"/><circle cx="585.3" cy="103.1" r="1.1"/><circle cx="550.3" cy="125.3" r="1.1"/><circle cx="604.0" cy="73.0" r="1.1"/><circle cx="568.8" cy="94.9" r="1.1"/><circle cx="545.6" cy="58.6" r="1.1"/><circle cx="553.5" cy="61.0" r="1.1"/><circle cx="569.2" cy="84.9" r="1.1"/><circle cx="574.5" cy="97.1" r="1.1"/><circle cx="606.4" cy="44.1" r="1.1"/><circle cx="592.9" cy="90.5" r="1.1"/><circle cx="555.0" cy="90.7" r="1.1"/><circle cx="549.2" cy="88.8" r="1.1"/><circle cx="552.2" cy="68.1" r="1.1"/><circle cx="548.4" cy="52.9" r="1.1"/><circle cx="563.6" cy="91.8" r="1.1"/><circle cx="567.8" cy="42.9" r="1.1"/><circle cx="628.7" cy="78.8" r="1.1"/><circle cx="601.5" cy="68.0" r="1.1"/><circle cx="567.2" cy="95.1" r="1.1"/><circle cx="606.3" cy="38.9" r="1.1"/><circle cx="575.6" cy="105.8" r="1.1"/><circle cx="557.6" cy="61.2" r="1.1"/><circle cx="552.8" cy="64.9" r="1.1"/><circle cx="549.6" cy="101.5" r="1.1"/><circle cx="576.6" cy="57.5" r="1.1"/><circle cx="550.4" cy="93.7" r="1.1"/><circle cx="556.4" cy="91.0" r="1.1"/><circle cx="550.2" cy="49.6" r="1.1"/><circle cx="619.7" cy="77.3" r="1.1"/><circle cx="579.8" cy="103.8" r="1.1"/><circle cx="556.7" cy="43.9" r="1.1"/><circle cx="553.9" cy="88.0" r="1.1"/><circle cx="569.4" cy="68.1" r="1.1"/><circle cx="552.5" cy="87.4" r="1.1"/><circle cx="629.9" cy="71.6" r="1.1"/><circle cx="553.9" cy="59.3" r="1.1"/><circle cx="568.5" cy="71.7" r="1.1"/><circle cx="574.3" cy="74.7" r="1.1"/><circle cx="576.1" cy="70.5" r="1.1"/><circle cx="599.8" cy="51.2" r="1.1"/><circle cx="576.3" cy="51.9" r="1.1"/><circle cx="563.6" cy="32.9" r="1.1"/><circle cx="620.3" cy="35.3" r="1.1"/><circle cx="551.9" cy="56.1" r="1.1"/><circle cx="552.0" cy="55.5" r="1.1"/><circle cx="588.5" cy="83.9" r="1.1"/><circle cx="601.4" cy="67.6" r="1.1"/><circle cx="563.8" cy="41.8" r="1.1"/><circle cx="595.8" cy="90.0" r="1.1"/><circle cx="556.6" cy="108.4" r="1.1"/><circle cx="551.4" cy="69.6" r="1.1"/><circle cx="555.5" cy="62.7" r="1.1"/><circle cx="590.5" cy="62.4" r="1.1"/><circle cx="549.8" cy="74.7" r="1.1"/><circle cx="582.6" cy="75.4" r="1.1"/><circle cx="600.3" cy="104.7" r="1.1"/><circle cx="555.9" cy="92.4" r="1.1"/><circle cx="553.8" cy="92.8" r="1.1"/><circle cx="555.1" cy="107.7" r="1.1"/><circle cx="595.5" cy="112.2" r="1.1"/><circle cx="594.6" cy="56.5" r="1.1"/><circle cx="568.0" cy="84.3" r="1.1"/><circle cx="569.2" cy="77.5" r="1.1"/><circle cx="603.9" cy="41.2" r="1.1"/><circle cx="592.8" cy="69.5" r="1.1"/><circle cx="556.5" cy="108.5" r="1.1"/><circle cx="604.3" cy="83.2" r="1.1"/><circle cx="548.0" cy="103.6" r="1.1"/><circle cx="614.2" cy="89.5" r="1.1"/><circle cx="593.6" cy="52.0" r="1.1"/><circle cx="618.2" cy="35.1" r="1.1"/><circle cx="596.6" cy="64.6" r="1.1"/><circle cx="544.6" cy="83.4" r="1.1"/><circle cx="559.1" cy="61.6" r="1.1"/><circle cx="580.2" cy="70.5" r="1.1"/><circle cx="557.8" cy="61.7" r="1.1"/><circle cx="570.7" cy="75.8" r="1.1"/><circle cx="586.6" cy="46.3" r="1.1"/><circle cx="622.1" cy="96.1" r="1.1"/><circle cx="561.8" cy="58.3" r="1.1"/><circle cx="551.4" cy="105.4" r="1.1"/><circle cx="555.2" cy="74.2" r="1.1"/><circle cx="599.4" cy="85.3" r="1.1"/><circle cx="574.7" cy="80.7" r="1.1"/><circle cx="544.4" cy="103.6" r="1.1"/><circle cx="616.7" cy="112.8" r="1.1"/><circle cx="590.2" cy="57.2" r="1.1"/><circle cx="549.2" cy="79.6" r="1.1"/><circle cx="582.9" cy="41.0" r="1.1"/><circle cx="560.3" cy="31.1" r="1.1"/><circle cx="549.8" cy="89.2" r="1.1"/><circle cx="556.6" cy="73.0" r="1.1"/><circle cx="548.6" cy="80.8" r="1.1"/><circle cx="625.0" cy="58.8" r="1.1"/><circle cx="569.4" cy="51.5" r="1.1"/><circle cx="561.5" cy="49.2" r="1.1"/><circle cx="590.0" cy="79.0" r="1.1"/><circle cx="595.0" cy="96.8" r="1.1"/><circle cx="597.1" cy="66.4" r="1.1"/><circle cx="555.8" cy="78.9" r="1.1"/><circle cx="562.8" cy="63.5" r="1.1"/><circle cx="548.1" cy="90.3" r="1.1"/><circle cx="564.2" cy="56.0" r="1.1"/><circle cx="549.0" cy="67.2" r="1.1"/><circle cx="590.3" cy="59.3" r="1.1"/><circle cx="561.8" cy="57.4" r="1.1"/><circle cx="549.2" cy="94.0" r="1.1"/><circle cx="570.0" cy="70.6" r="1.1"/><circle cx="549.3" cy="87.2" r="1.1"/><circle cx="551.0" cy="74.3" r="1.1"/><circle cx="585.8" cy="74.0" r="1.1"/><circle cx="568.0" cy="72.0" r="1.1"/><circle cx="601.2" cy="105.0" r="1.1"/><circle cx="569.2" cy="70.9" r="1.1"/><circle cx="564.6" cy="96.9" r="1.1"/><circle cx="554.5" cy="98.2" r="1.1"/><circle cx="549.3" cy="68.2" r="1.1"/><circle cx="584.7" cy="71.3" r="1.1"/><circle cx="598.5" cy="66.2" r="1.1"/><circle cx="644.6" cy="24.6" r="1.1"/><circle cx="573.8" cy="95.0" r="1.1"/><circle cx="554.6" cy="106.0" r="1.1"/><circle cx="585.1" cy="57.9" r="1.1"/><circle cx="562.6" cy="93.1" r="1.1"/><circle cx="603.3" cy="91.4" r="1.1"/><circle cx="590.5" cy="93.2" r="1.1"/><circle cx="593.6" cy="72.1" r="1.1"/><circle cx="606.3" cy="47.4" r="1.1"/><circle cx="546.0" cy="85.4" r="1.1"/><circle cx="573.4" cy="88.0" r="1.1"/><circle cx="551.3" cy="62.9" r="1.1"/><circle cx="581.4" cy="68.7" r="1.1"/><circle cx="560.3" cy="89.7" r="1.1"/><circle cx="553.7" cy="60.5" r="1.1"/><circle cx="561.0" cy="112.9" r="1.1"/><circle cx="549.8" cy="114.2" r="1.1"/><circle cx="601.4" cy="38.0" r="1.1"/><circle cx="607.0" cy="66.9" r="1.1"/><circle cx="565.9" cy="124.6" r="1.1"/><circle cx="552.3" cy="45.4" r="1.1"/><circle cx="547.2" cy="90.9" r="1.1"/><circle cx="575.0" cy="91.4" r="1.1"/><circle cx="589.7" cy="57.8" r="1.1"/><circle cx="557.4" cy="55.2" r="1.1"/><circle cx="554.0" cy="83.2" r="1.1"/><circle cx="610.3" cy="51.6" r="1.1"/><circle cx="547.4" cy="89.2" r="1.1"/><circle cx="604.4" cy="84.2" r="1.1"/><circle cx="582.3" cy="88.7" r="1.1"/><circle cx="544.5" cy="65.3" r="1.1"/><circle cx="575.5" cy="89.8" r="1.1"/><circle cx="552.3" cy="106.6" r="1.1"/><circle cx="619.3" cy="64.7" r="1.1"/><circle cx="566.1" cy="88.2" r="1.1"/><circle cx="558.2" cy="76.7" r="1.1"/><circle cx="545.4" cy="76.8" r="1.1"/><circle cx="586.8" cy="77.2" r="1.1"/><circle cx="633.2" cy="64.7" r="1.1"/><circle cx="556.2" cy="82.4" r="1.1"/><circle cx="558.1" cy="105.0" r="1.1"/><circle cx="555.4" cy="111.9" r="1.1"/><circle cx="628.3" cy="42.9" r="1.1"/><circle cx="582.0" cy="99.8" r="1.1"/><circle cx="563.7" cy="51.6" r="1.1"/><circle cx="549.1" cy="86.1" r="1.1"/><circle cx="597.8" cy="61.7" r="1.1"/><circle cx="560.7" cy="73.6" r="1.1"/><circle cx="576.5" cy="65.0" r="1.1"/><circle cx="581.2" cy="88.6" r="1.1"/><circle cx="550.3" cy="53.1" r="1.1"/><circle cx="611.4" cy="42.6" r="1.1"/><circle cx="580.2" cy="77.3" r="1.1"/><circle cx="590.5" cy="99.7" r="1.1"/><circle cx="585.0" cy="128.9" r="1.1"/><circle cx="563.5" cy="104.2" r="1.1"/><circle cx="551.4" cy="56.2" r="1.1"/><circle cx="573.6" cy="87.8" r="1.1"/><circle cx="576.7" cy="81.0" r="1.1"/><circle cx="581.6" cy="70.6" r="1.1"/><circle cx="625.7" cy="32.4" r="1.1"/><circle cx="565.9" cy="125.8" r="1.1"/><circle cx="545.9" cy="114.6" r="1.1"/><circle cx="559.5" cy="54.2" r="1.1"/><circle cx="556.6" cy="81.5" r="1.1"/><circle cx="553.8" cy="115.5" r="1.1"/><circle cx="573.6" cy="124.2" r="1.1"/><circle cx="556.1" cy="84.7" r="1.1"/><circle cx="571.6" cy="95.5" r="1.1"/><circle cx="590.5" cy="79.1" r="1.1"/><circle cx="572.9" cy="84.1" r="1.1"/><circle cx="553.2" cy="76.7" r="1.1"/><circle cx="603.7" cy="101.6" r="1.1"/><circle cx="546.3" cy="110.4" r="1.1"/><circle cx="546.7" cy="40.6" r="1.1"/><circle cx="566.8" cy="70.2" r="1.1"/><circle cx="565.7" cy="83.8" r="1.1"/><circle cx="597.4" cy="84.4" r="1.1"/><circle cx="587.5" cy="96.8" r="1.1"/><circle cx="565.2" cy="83.3" r="1.1"/><circle cx="574.3" cy="90.9" r="1.1"/><circle cx="555.2" cy="98.1" r="1.1"/><circle cx="561.7" cy="94.0" r="1.1"/><circle cx="588.0" cy="85.4" r="1.1"/><circle cx="553.6" cy="72.7" r="1.1"/><circle cx="573.1" cy="55.1" r="1.1"/><circle cx="567.2" cy="85.9" r="1.1"/><circle cx="589.6" cy="50.3" r="1.1"/><circle cx="581.9" cy="104.6" r="1.1"/><circle cx="576.0" cy="51.9" r="1.1"/><circle cx="546.5" cy="71.6" r="1.1"/><circle cx="561.1" cy="77.9" r="1.1"/><circle cx="592.8" cy="46.8" r="1.1"/><circle cx="554.0" cy="60.7" r="1.1"/><circle cx="554.4" cy="107.1" r="1.1"/><circle cx="581.8" cy="80.9" r="1.1"/><circle cx="546.0" cy="118.4" r="1.1"/><circle cx="574.6" cy="94.2" r="1.1"/><circle cx="567.5" cy="56.6" r="1.1"/><circle cx="545.7" cy="119.3" r="1.1"/><circle cx="543.8" cy="53.5" r="1.1"/><circle cx="581.5" cy="84.9" r="1.1"/><circle cx="581.6" cy="89.2" r="1.1"/><circle cx="558.6" cy="66.5" r="1.1"/><circle cx="557.4" cy="72.0" r="1.1"/><circle cx="558.7" cy="77.4" r="1.1"/><circle cx="660.7" cy="71.6" r="1.1"/><circle cx="628.0" cy="83.9" r="1.1"/><circle cx="553.7" cy="55.4" r="1.1"/><circle cx="606.6" cy="81.5" r="1.1"/><circle cx="589.8" cy="78.8" r="1.1"/><circle cx="579.0" cy="58.8" r="1.1"/><circle cx="576.8" cy="70.1" r="1.1"/><circle cx="555.0" cy="42.9" r="1.1"/><circle cx="545.7" cy="85.0" r="1.1"/><circle cx="559.2" cy="77.6" r="1.1"/><circle cx="570.3" cy="65.1" r="1.1"/><circle cx="564.8" cy="76.2" r="1.1"/><circle cx="548.7" cy="64.1" r="1.1"/><circle cx="586.0" cy="64.7" r="1.1"/><circle cx="550.5" cy="50.5" r="1.1"/><circle cx="580.1" cy="85.7" r="1.1"/><circle cx="592.3" cy="90.5" r="1.1"/><circle cx="577.8" cy="56.0" r="1.1"/><circle cx="554.9" cy="51.9" r="1.1"/><circle cx="594.8" cy="60.3" r="1.1"/><circle cx="587.9" cy="91.7" r="1.1"/><circle cx="634.0" cy="62.4" r="1.1"/><circle cx="635.0" cy="116.9" r="1.1"/><circle cx="582.1" cy="109.8" r="1.1"/><circle cx="567.2" cy="89.4" r="1.1"/><circle cx="619.0" cy="40.1" r="1.1"/><circle cx="592.3" cy="65.4" r="1.1"/><circle cx="590.3" cy="98.4" r="1.1"/><circle cx="556.0" cy="68.9" r="1.1"/><circle cx="556.0" cy="99.5" r="1.1"/><circle cx="554.1" cy="47.0" r="1.1"/><circle cx="562.8" cy="68.0" r="1.1"/><circle cx="558.2" cy="82.0" r="1.1"/><circle cx="563.0" cy="80.1" r="1.1"/><circle cx="616.4" cy="62.6" r="1.1"/><circle cx="576.5" cy="102.2" r="1.1"/><circle cx="547.6" cy="82.4" r="1.1"/><circle cx="562.6" cy="88.3" r="1.1"/><circle cx="546.5" cy="104.8" r="1.1"/><circle cx="571.6" cy="70.2" r="1.1"/><circle cx="625.4" cy="76.8" r="1.1"/><circle cx="562.5" cy="52.5" r="1.1"/><circle cx="555.0" cy="92.7" r="1.1"/><circle cx="601.9" cy="85.1" r="1.1"/><circle cx="584.5" cy="82.9" r="1.1"/><circle cx="580.7" cy="117.8" r="1.1"/><circle cx="575.7" cy="97.9" r="1.1"/><circle cx="561.3" cy="77.0" r="1.1"/><circle cx="591.3" cy="53.3" r="1.1"/><circle cx="582.3" cy="80.3" r="1.1"/><circle cx="547.2" cy="108.0" r="1.1"/><circle cx="572.8" cy="71.5" r="1.1"/><circle cx="551.2" cy="39.2" r="1.1"/><circle cx="567.5" cy="98.8" r="1.1"/><circle cx="557.7" cy="87.0" r="1.1"/><circle cx="554.3" cy="77.1" r="1.1"/><circle cx="609.1" cy="53.1" r="1.1"/><circle cx="549.4" cy="47.3" r="1.1"/><circle cx="558.9" cy="96.9" r="1.1"/><circle cx="557.6" cy="81.1" r="1.1"/><circle cx="592.3" cy="53.7" r="1.1"/><circle cx="606.2" cy="89.6" r="1.1"/><circle cx="573.4" cy="74.8" r="1.1"/><circle cx="552.0" cy="59.9" r="1.1"/><circle cx="571.1" cy="104.1" r="1.1"/><circle cx="557.5" cy="80.4" r="1.1"/><circle cx="554.9" cy="71.7" r="1.1"/><circle cx="582.6" cy="82.4" r="1.1"/><circle cx="547.8" cy="36.1" r="1.1"/><circle cx="554.5" cy="42.2" r="1.1"/><circle cx="609.5" cy="47.9" r="1.1"/><circle cx="551.6" cy="82.1" r="1.1"/><circle cx="552.7" cy="43.1" r="1.1"/><circle cx="570.4" cy="80.9" r="1.1"/><circle cx="600.1" cy="94.1" r="1.1"/><circle cx="560.0" cy="83.0" r="1.1"/><circle cx="616.4" cy="99.9" r="1.1"/><circle cx="605.8" cy="67.2" r="1.1"/><circle cx="549.5" cy="107.1" r="1.1"/><circle cx="629.8" cy="98.5" r="1.1"/><circle cx="566.9" cy="75.9" r="1.1"/><circle cx="550.0" cy="74.8" r="1.1"/><circle cx="545.6" cy="83.4" r="1.1"/><circle cx="554.9" cy="91.7" r="1.1"/><circle cx="553.2" cy="108.3" r="1.1"/><circle cx="554.0" cy="33.6" r="1.1"/><circle cx="583.1" cy="81.5" r="1.1"/><circle cx="591.5" cy="98.9" r="1.1"/><circle cx="575.4" cy="91.6" r="1.1"/><circle cx="601.1" cy="59.6" r="1.1"/><circle cx="584.9" cy="58.5" r="1.1"/><circle cx="593.3" cy="91.7" r="1.1"/><circle cx="594.4" cy="74.8" r="1.1"/><circle cx="559.1" cy="99.6" r="1.1"/><circle cx="553.2" cy="119.7" r="1.1"/><circle cx="578.7" cy="51.3" r="1.1"/><circle cx="545.0" cy="83.7" r="1.1"/><circle cx="555.1" cy="75.8" r="1.1"/><circle cx="589.9" cy="95.4" r="1.1"/><circle cx="574.7" cy="74.5" r="1.1"/><circle cx="618.8" cy="71.3" r="1.1"/><circle cx="599.0" cy="25.7" r="1.1"/><circle cx="547.3" cy="125.6" r="1.1"/><circle cx="548.0" cy="76.9" r="1.1"/><circle cx="560.3" cy="66.7" r="1.1"/><circle cx="583.6" cy="60.1" r="1.1"/><circle cx="546.7" cy="68.1" r="1.1"/><circle cx="548.6" cy="76.3" r="1.1"/><circle cx="569.3" cy="65.8" r="1.1"/><circle cx="546.3" cy="66.2" r="1.1"/><circle cx="558.3" cy="71.1" r="1.1"/><circle cx="602.5" cy="86.2" r="1.1"/><circle cx="546.1" cy="53.6" r="1.1"/><circle cx="553.8" cy="96.6" r="1.1"/><circle cx="628.5" cy="61.9" r="1.1"/><circle cx="621.1" cy="59.0" r="1.1"/><circle cx="628.7" cy="52.0" r="1.1"/><circle cx="572.2" cy="92.6" r="1.1"/><circle cx="632.6" cy="87.2" r="1.1"/><circle cx="565.7" cy="97.4" r="1.1"/><circle cx="584.8" cy="53.7" r="1.1"/><circle cx="578.5" cy="102.2" r="1.1"/><circle cx="596.1" cy="79.1" r="1.1"/><circle cx="552.1" cy="65.5" r="1.1"/><circle cx="602.4" cy="45.3" r="1.1"/><circle cx="566.9" cy="44.4" r="1.1"/><circle cx="552.6" cy="29.9" r="1.1"/><circle cx="572.8" cy="50.0" r="1.1"/><circle cx="642.1" cy="76.5" r="1.1"/><circle cx="564.5" cy="88.8" r="1.1"/><circle cx="565.3" cy="75.8" r="1.1"/><circle cx="576.3" cy="37.1" r="1.1"/><circle cx="554.4" cy="57.4" r="1.1"/><circle cx="574.0" cy="105.1" r="1.1"/><circle cx="573.6" cy="62.1" r="1.1"/><circle cx="572.0" cy="85.7" r="1.1"/><circle cx="556.1" cy="66.4" r="1.1"/><circle cx="562.2" cy="67.3" r="1.1"/><circle cx="602.0" cy="108.6" r="1.1"/><circle cx="593.8" cy="67.7" r="1.1"/><circle cx="555.7" cy="82.7" r="1.1"/><circle cx="548.6" cy="87.2" r="1.1"/><circle cx="557.6" cy="87.1" r="1.1"/><circle cx="601.3" cy="85.6" r="1.1"/><circle cx="608.3" cy="109.1" r="1.1"/><circle cx="556.2" cy="75.0" r="1.1"/><circle cx="548.0" cy="125.2" r="1.1"/><circle cx="580.5" cy="78.1" r="1.1"/><circle cx="595.8" cy="67.8" r="1.1"/><circle cx="560.2" cy="100.7" r="1.1"/><circle cx="564.1" cy="80.6" r="1.1"/><circle cx="585.3" cy="24.6" r="1.1"/><circle cx="566.6" cy="102.4" r="1.1"/><circle cx="585.6" cy="79.6" r="1.1"/><circle cx="555.2" cy="50.3" r="1.1"/><circle cx="558.2" cy="79.6" r="1.1"/><circle cx="584.9" cy="57.2" r="1.1"/><circle cx="578.9" cy="85.6" r="1.1"/><circle cx="574.6" cy="63.9" r="1.1"/><circle cx="557.2" cy="83.0" r="1.1"/><circle cx="548.0" cy="66.1" r="1.1"/><circle cx="570.3" cy="87.9" r="1.1"/><circle cx="618.7" cy="48.7" r="1.1"/><circle cx="558.5" cy="53.7" r="1.1"/><circle cx="563.4" cy="86.0" r="1.1"/><circle cx="551.8" cy="107.6" r="1.1"/><circle cx="620.0" cy="49.3" r="1.1"/><circle cx="607.1" cy="61.1" r="1.1"/><circle cx="558.5" cy="109.3" r="1.1"/><circle cx="622.3" cy="46.0" r="1.1"/><circle cx="544.4" cy="86.6" r="1.1"/><circle cx="574.1" cy="75.4" r="1.1"/><circle cx="551.7" cy="113.9" r="1.1"/><circle cx="607.9" cy="66.6" r="1.1"/><circle cx="551.3" cy="106.5" r="1.1"/><circle cx="593.3" cy="74.0" r="1.1"/><circle cx="576.5" cy="93.6" r="1.1"/><circle cx="564.8" cy="58.2" r="1.1"/><circle cx="557.5" cy="107.1" r="1.1"/><circle cx="583.2" cy="66.8" r="1.1"/><circle cx="556.4" cy="110.4" r="1.1"/><circle cx="560.4" cy="57.7" r="1.1"/><circle cx="561.6" cy="112.1" r="1.1"/><circle cx="571.7" cy="62.7" r="1.1"/><circle cx="560.6" cy="53.4" r="1.1"/><circle cx="564.9" cy="75.3" r="1.1"/><circle cx="544.0" cy="64.0" r="1.1"/><circle cx="554.8" cy="28.3" r="1.1"/><circle cx="567.8" cy="87.7" r="1.1"/><circle cx="593.6" cy="113.6" r="1.1"/><circle cx="570.8" cy="63.7" r="1.1"/><circle cx="560.3" cy="80.5" r="1.1"/><circle cx="567.6" cy="106.2" r="1.1"/><circle cx="550.6" cy="86.3" r="1.1"/><circle cx="554.9" cy="92.5" r="1.1"/><circle cx="572.4" cy="70.2" r="1.1"/><circle cx="546.0" cy="107.1" r="1.1"/><circle cx="561.5" cy="45.3" r="1.1"/><circle cx="581.9" cy="78.3" r="1.1"/><circle cx="549.8" cy="58.0" r="1.1"/><circle cx="586.8" cy="33.1" r="1.1"/><circle cx="607.6" cy="111.1" r="1.1"/><circle cx="558.9" cy="82.1" r="1.1"/><circle cx="555.6" cy="51.4" r="1.1"/><circle cx="561.4" cy="86.2" r="1.1"/><circle cx="574.3" cy="97.7" r="1.1"/><circle cx="555.7" cy="111.3" r="1.1"/><circle cx="596.3" cy="86.5" r="1.1"/><circle cx="546.4" cy="96.5" r="1.1"/><circle cx="549.5" cy="58.8" r="1.1"/><circle cx="584.9" cy="79.1" r="1.1"/><circle cx="595.2" cy="88.8" r="1.1"/><circle cx="558.2" cy="42.4" r="1.1"/><circle cx="570.3" cy="65.9" r="1.1"/><circle cx="545.7" cy="125.7" r="1.1"/><circle cx="544.5" cy="87.3" r="1.1"/><circle cx="560.3" cy="93.7" r="1.1"/><circle cx="589.1" cy="94.9" r="1.1"/><circle cx="588.5" cy="82.1" r="1.1"/><circle cx="633.1" cy="80.8" r="1.1"/><circle cx="575.2" cy="86.9" r="1.1"/><circle cx="550.9" cy="80.2" r="1.1"/><circle cx="572.7" cy="111.4" r="1.1"/><circle cx="572.8" cy="106.7" r="1.1"/><circle cx="549.4" cy="75.2" r="1.1"/><circle cx="548.8" cy="37.8" r="1.1"/><circle cx="600.4" cy="62.4" r="1.1"/><circle cx="561.3" cy="93.7" r="1.1"/><circle cx="570.5" cy="115.8" r="1.1"/><circle cx="548.2" cy="76.4" r="1.1"/><circle cx="570.1" cy="85.6" r="1.1"/><circle cx="555.3" cy="87.9" r="1.1"/><circle cx="581.2" cy="82.7" r="1.1"/><circle cx="578.3" cy="84.9" r="1.1"/><circle cx="568.7" cy="64.7" r="1.1"/><circle cx="596.4" cy="47.1" r="1.1"/><circle cx="584.0" cy="105.3" r="1.1"/><circle cx="562.2" cy="95.1" r="1.1"/><circle cx="554.1" cy="112.0" r="1.1"/><circle cx="551.8" cy="26.4" r="1.1"/><circle cx="557.8" cy="78.9" r="1.1"/><circle cx="604.8" cy="78.5" r="1.1"/><circle cx="593.2" cy="62.3" r="1.1"/><circle cx="563.1" cy="122.1" r="1.1"/><circle cx="582.5" cy="113.5" r="1.1"/><circle cx="561.0" cy="67.7" r="1.1"/><circle cx="591.6" cy="46.2" r="1.1"/><circle cx="616.9" cy="60.4" r="1.1"/><circle cx="561.8" cy="62.1" r="1.1"/><circle cx="564.7" cy="107.7" r="1.1"/><circle cx="550.4" cy="54.4" r="1.1"/><circle cx="584.9" cy="61.5" r="1.1"/><circle cx="549.1" cy="68.9" r="1.1"/><circle cx="568.0" cy="50.8" r="1.1"/><circle cx="557.8" cy="35.3" r="1.1"/><circle cx="576.2" cy="52.5" r="1.1"/><circle cx="556.7" cy="76.8" r="1.1"/><circle cx="603.7" cy="110.1" r="1.1"/><circle cx="544.1" cy="64.6" r="1.1"/><circle cx="555.2" cy="97.3" r="1.1"/><circle cx="623.1" cy="50.6" r="1.1"/><circle cx="547.7" cy="68.4" r="1.1"/><circle cx="601.0" cy="94.3" r="1.1"/><circle cx="572.1" cy="82.0" r="1.1"/><circle cx="622.9" cy="78.7" r="1.1"/><circle cx="661.0" cy="69.7" r="1.1"/><circle cx="569.9" cy="64.8" r="1.1"/><circle cx="583.0" cy="79.6" r="1.1"/><circle cx="623.7" cy="70.9" r="1.1"/><circle cx="561.7" cy="58.8" r="1.1"/><circle cx="579.7" cy="49.3" r="1.1"/><circle cx="559.2" cy="113.5" r="1.1"/><circle cx="566.4" cy="26.3" r="1.1"/><circle cx="545.9" cy="95.9" r="1.1"/><circle cx="547.0" cy="66.1" r="1.1"/><circle cx="552.9" cy="60.4" r="1.1"/><circle cx="589.5" cy="88.1" r="1.1"/><circle cx="553.3" cy="50.2" r="1.1"/><circle cx="583.9" cy="80.2" r="1.1"/><circle cx="568.8" cy="92.5" r="1.1"/><circle cx="619.3" cy="44.8" r="1.1"/><circle cx="563.0" cy="78.1" r="1.1"/><circle cx="595.9" cy="111.9" r="1.1"/><circle cx="578.1" cy="70.8" r="1.1"/><circle cx="587.9" cy="75.1" r="1.1"/><circle cx="557.2" cy="107.8" r="1.1"/><circle cx="565.2" cy="74.6" r="1.1"/><circle cx="559.0" cy="73.7" r="1.1"/><circle cx="545.1" cy="71.3" r="1.1"/><circle cx="554.2" cy="76.4" r="1.1"/><circle cx="552.4" cy="89.3" r="1.1"/><circle cx="546.3" cy="72.9" r="1.1"/><circle cx="618.2" cy="80.3" r="1.1"/><circle cx="583.6" cy="76.8" r="1.1"/><circle cx="559.1" cy="55.7" r="1.1"/><circle cx="563.2" cy="100.0" r="1.1"/><circle cx="555.0" cy="98.8" r="1.1"/><circle cx="592.2" cy="93.6" r="1.1"/><circle cx="572.6" cy="64.3" r="1.1"/><circle cx="546.2" cy="77.3" r="1.1"/><circle cx="575.8" cy="121.0" r="1.1"/><circle cx="573.8" cy="78.0" r="1.1"/><circle cx="583.3" cy="66.7" r="1.1"/><circle cx="551.9" cy="80.6" r="1.1"/><circle cx="578.3" cy="109.5" r="1.1"/><circle cx="583.9" cy="100.0" r="1.1"/><circle cx="631.9" cy="42.8" r="1.1"/><circle cx="556.1" cy="99.0" r="1.1"/><circle cx="553.2" cy="74.5" r="1.1"/><circle cx="555.5" cy="53.5" r="1.1"/><circle cx="556.5" cy="74.7" r="1.1"/><circle cx="550.6" cy="76.9" r="1.1"/><circle cx="621.4" cy="89.1" r="1.1"/><circle cx="597.9" cy="88.7" r="1.1"/><circle cx="555.3" cy="47.1" r="1.1"/><circle cx="550.4" cy="92.2" r="1.1"/><circle cx="552.1" cy="61.0" r="1.1"/><circle cx="593.5" cy="48.2" r="1.1"/><circle cx="601.6" cy="72.3" r="1.1"/><circle cx="561.4" cy="121.2" r="1.1"/><circle cx="609.6" cy="56.8" r="1.1"/><circle cx="563.4" cy="69.8" r="1.1"/><circle cx="600.1" cy="37.2" r="1.1"/><circle cx="566.9" cy="83.3" r="1.1"/><circle cx="565.7" cy="30.8" r="1.1"/><circle cx="582.0" cy="121.0" r="1.1"/><circle cx="564.6" cy="92.4" r="1.1"/><circle cx="562.8" cy="60.2" r="1.1"/><circle cx="562.8" cy="78.6" r="1.1"/><circle cx="548.2" cy="59.7" r="1.1"/><circle cx="610.0" cy="47.0" r="1.1"/><circle cx="548.6" cy="53.8" r="1.1"/><circle cx="550.1" cy="98.0" r="1.1"/><circle cx="577.8" cy="52.9" r="1.1"/><circle cx="625.5" cy="94.8" r="1.1"/><circle cx="607.3" cy="103.9" r="1.1"/><circle cx="566.6" cy="50.6" r="1.1"/><circle cx="624.4" cy="63.5" r="1.1"/><circle cx="547.3" cy="117.9" r="1.1"/><circle cx="608.4" cy="26.0" r="1.1"/><circle cx="551.2" cy="71.9" r="1.1"/><circle cx="545.5" cy="75.8" r="1.1"/><circle cx="546.9" cy="80.0" r="1.1"/><circle cx="561.3" cy="114.7" r="1.1"/><circle cx="579.7" cy="114.6" r="1.1"/><circle cx="556.5" cy="83.9" r="1.1"/><circle cx="547.9" cy="67.7" r="1.1"/><circle cx="577.2" cy="71.4" r="1.1"/><circle cx="591.3" cy="69.0" r="1.1"/><circle cx="641.0" cy="84.9" r="1.1"/><circle cx="556.1" cy="62.2" r="1.1"/><circle cx="562.2" cy="70.4" r="1.1"/><circle cx="598.5" cy="90.2" r="1.1"/><circle cx="545.7" cy="77.4" r="1.1"/><circle cx="580.9" cy="73.4" r="1.1"/><circle cx="546.9" cy="63.7" r="1.1"/><circle cx="596.4" cy="33.8" r="1.1"/><circle cx="595.0" cy="27.7" r="1.1"/><circle cx="548.3" cy="113.6" r="1.1"/><circle cx="559.3" cy="74.9" r="1.1"/><circle cx="582.5" cy="101.0" r="1.1"/><circle cx="558.9" cy="94.1" r="1.1"/><circle cx="549.1" cy="52.6" r="1.1"/><circle cx="625.5" cy="39.0" r="1.1"/><circle cx="588.5" cy="51.9" r="1.1"/><circle cx="600.0" cy="45.5" r="1.1"/><circle cx="655.9" cy="55.2" r="1.1"/><circle cx="546.6" cy="42.0" r="1.1"/><circle cx="558.0" cy="88.4" r="1.1"/><circle cx="554.7" cy="54.2" r="1.1"/><circle cx="603.1" cy="108.2" r="1.1"/><circle cx="554.6" cy="64.9" r="1.1"/><circle cx="560.8" cy="64.2" r="1.1"/><circle cx="550.9" cy="88.9" r="1.1"/><circle cx="580.0" cy="75.9" r="1.1"/><circle cx="554.6" cy="63.5" r="1.1"/><circle cx="594.2" cy="63.9" r="1.1"/><circle cx="550.0" cy="105.4" r="1.1"/><circle cx="631.0" cy="72.2" r="1.1"/><circle cx="572.3" cy="90.7" r="1.1"/><circle cx="587.6" cy="59.6" r="1.1"/><circle cx="550.2" cy="30.1" r="1.1"/><circle cx="569.9" cy="70.6" r="1.1"/><circle cx="553.8" cy="107.7" r="1.1"/><circle cx="573.6" cy="86.7" r="1.1"/><circle cx="550.0" cy="86.8" r="1.1"/><circle cx="567.9" cy="114.6" r="1.1"/><circle cx="552.3" cy="41.3" r="1.1"/><circle cx="548.1" cy="67.9" r="1.1"/><circle cx="582.3" cy="60.5" r="1.1"/><circle cx="557.4" cy="84.5" r="1.1"/><circle cx="587.1" cy="71.3" r="1.1"/><circle cx="551.6" cy="83.0" r="1.1"/><circle cx="613.4" cy="78.4" r="1.1"/><circle cx="569.8" cy="116.1" r="1.1"/><circle cx="586.4" cy="32.9" r="1.1"/><circle cx="549.5" cy="49.5" r="1.1"/><circle cx="609.9" cy="82.0" r="1.1"/><circle cx="568.0" cy="55.6" r="1.1"/><circle cx="548.7" cy="72.7" r="1.1"/><circle cx="564.1" cy="94.2" r="1.1"/><circle cx="544.1" cy="84.0" r="1.1"/><circle cx="559.7" cy="74.9" r="1.1"/><circle cx="548.8" cy="79.6" r="1.1"/><circle cx="612.4" cy="25.0" r="1.1"/><circle cx="560.3" cy="120.1" r="1.1"/><circle cx="591.2" cy="65.8" r="1.1"/><circle cx="587.7" cy="82.9" r="1.1"/><circle cx="596.9" cy="82.8" r="1.1"/><circle cx="549.4" cy="55.2" r="1.1"/><circle cx="616.5" cy="108.7" r="1.1"/><circle cx="553.6" cy="72.0" r="1.1"/><circle cx="551.5" cy="78.8" r="1.1"/><circle cx="561.6" cy="98.3" r="1.1"/><circle cx="618.2" cy="100.8" r="1.1"/><circle cx="554.7" cy="96.7" r="1.1"/><circle cx="568.7" cy="73.2" r="1.1"/><circle cx="637.4" cy="62.8" r="1.1"/><circle cx="561.9" cy="61.1" r="1.1"/><circle cx="629.7" cy="42.2" r="1.1"/><circle cx="583.4" cy="99.7" r="1.1"/><circle cx="553.9" cy="45.0" r="1.1"/><circle cx="567.0" cy="65.4" r="1.1"/><circle cx="552.9" cy="52.7" r="1.1"/><circle cx="565.1" cy="80.1" r="1.1"/><circle cx="583.5" cy="27.4" r="1.1"/><circle cx="567.9" cy="76.4" r="1.1"/><circle cx="632.6" cy="51.9" r="1.1"/><circle cx="545.8" cy="98.0" r="1.1"/><circle cx="548.2" cy="69.2" r="1.1"/><circle cx="551.5" cy="120.6" r="1.1"/><circle cx="599.0" cy="50.4" r="1.1"/><circle cx="631.1" cy="81.6" r="1.1"/><circle cx="570.7" cy="26.5" r="1.1"/><circle cx="618.4" cy="79.5" r="1.1"/><circle cx="560.7" cy="62.5" r="1.1"/><circle cx="558.9" cy="67.1" r="1.1"/><circle cx="546.2" cy="77.6" r="1.1"/><circle cx="567.5" cy="101.6" r="1.1"/><circle cx="571.6" cy="100.7" r="1.1"/><circle cx="580.7" cy="41.2" r="1.1"/><circle cx="588.6" cy="57.6" r="1.1"/><circle cx="548.0" cy="124.4" r="1.1"/><circle cx="612.0" cy="77.1" r="1.1"/><circle cx="608.1" cy="74.5" r="1.1"/><circle cx="641.8" cy="60.5" r="1.1"/><circle cx="573.1" cy="85.0" r="1.1"/><circle cx="554.4" cy="50.9" r="1.1"/><circle cx="609.6" cy="61.9" r="1.1"/><circle cx="585.7" cy="69.5" r="1.1"/><circle cx="590.1" cy="105.5" r="1.1"/><circle cx="583.4" cy="71.1" r="1.1"/><circle cx="664.9" cy="81.8" r="1.1"/><circle cx="565.9" cy="63.9" r="1.1"/><circle cx="566.4" cy="72.4" r="1.1"/><circle cx="593.5" cy="69.6" r="1.1"/><circle cx="578.4" cy="61.5" r="1.1"/><circle cx="586.2" cy="59.3" r="1.1"/><circle cx="553.2" cy="108.0" r="1.1"/><circle cx="554.1" cy="76.4" r="1.1"/><circle cx="592.8" cy="34.5" r="1.1"/><circle cx="547.7" cy="53.7" r="1.1"/><circle cx="548.1" cy="95.8" r="1.1"/><circle cx="621.5" cy="49.5" r="1.1"/><circle cx="597.8" cy="87.4" r="1.1"/><circle cx="561.7" cy="53.2" r="1.1"/><circle cx="553.9" cy="62.7" r="1.1"/><circle cx="592.4" cy="107.1" r="1.1"/><circle cx="571.1" cy="49.5" r="1.1"/><circle cx="560.8" cy="76.3" r="1.1"/><circle cx="568.3" cy="60.8" r="1.1"/><circle cx="580.2" cy="63.3" r="1.1"/><circle cx="550.4" cy="77.1" r="1.1"/><circle cx="601.0" cy="79.7" r="1.1"/><circle cx="624.5" cy="124.9" r="1.1"/><circle cx="566.5" cy="90.1" r="1.1"/><circle cx="546.7" cy="80.1" r="1.1"/><circle cx="554.4" cy="73.9" r="1.1"/><circle cx="572.3" cy="88.5" r="1.1"/><circle cx="562.7" cy="68.5" r="1.1"/><circle cx="554.3" cy="107.5" r="1.1"/><circle cx="584.5" cy="34.3" r="1.1"/><circle cx="589.3" cy="58.5" r="1.1"/><circle cx="547.6" cy="79.7" r="1.1"/><circle cx="564.2" cy="129.8" r="1.1"/><circle cx="547.4" cy="95.8" r="1.1"/><circle cx="549.2" cy="81.6" r="1.1"/><circle cx="553.9" cy="83.6" r="1.1"/><circle cx="620.5" cy="116.0" r="1.1"/><circle cx="578.4" cy="58.3" r="1.1"/><circle cx="545.6" cy="60.1" r="1.1"/><circle cx="554.8" cy="118.9" r="1.1"/><circle cx="591.6" cy="105.0" r="1.1"/><circle cx="562.8" cy="83.7" r="1.1"/><circle cx="553.9" cy="86.5" r="1.1"/><circle cx="592.0" cy="42.0" r="1.1"/><circle cx="596.9" cy="62.4" r="1.1"/><circle cx="620.2" cy="49.0" r="1.1"/><circle cx="645.7" cy="109.1" r="1.1"/><circle cx="549.5" cy="81.7" r="1.1"/><circle cx="556.5" cy="100.0" r="1.1"/><circle cx="563.0" cy="60.9" r="1.1"/><circle cx="592.9" cy="87.1" r="1.1"/><circle cx="608.7" cy="35.9" r="1.1"/><circle cx="553.1" cy="71.9" r="1.1"/><circle cx="591.9" cy="110.9" r="1.1"/><circle cx="546.1" cy="38.1" r="1.1"/><circle cx="564.8" cy="97.4" r="1.1"/><circle cx="593.9" cy="83.3" r="1.1"/><circle cx="559.0" cy="78.4" r="1.1"/><circle cx="552.7" cy="74.8" r="1.1"/><circle cx="566.3" cy="113.5" r="1.1"/><circle cx="593.5" cy="84.5" r="1.1"/><circle cx="550.7" cy="61.4" r="1.1"/><circle cx="575.3" cy="82.7" r="1.1"/><circle cx="613.1" cy="65.5" r="1.1"/><circle cx="614.9" cy="48.1" r="1.1"/><circle cx="563.8" cy="106.7" r="1.1"/><circle cx="588.8" cy="93.9" r="1.1"/><circle cx="598.1" cy="75.2" r="1.1"/><circle cx="570.5" cy="110.2" r="1.1"/><circle cx="583.0" cy="111.7" r="1.1"/><circle cx="548.5" cy="65.0" r="1.1"/><circle cx="544.0" cy="100.0" r="1.1"/><circle cx="647.7" cy="78.6" r="1.1"/><circle cx="556.2" cy="117.9" r="1.1"/><circle cx="570.2" cy="61.2" r="1.1"/><circle cx="612.8" cy="86.2" r="1.1"/><circle cx="573.4" cy="111.0" r="1.1"/><circle cx="582.7" cy="47.9" r="1.1"/><circle cx="601.9" cy="25.6" r="1.1"/><circle cx="614.6" cy="66.7" r="1.1"/><circle cx="577.0" cy="77.9" r="1.1"/><circle cx="603.7" cy="87.2" r="1.1"/><circle cx="551.2" cy="59.7" r="1.1"/><circle cx="556.7" cy="98.0" r="1.1"/><circle cx="591.3" cy="85.8" r="1.1"/><circle cx="621.1" cy="84.0" r="1.1"/><circle cx="594.8" cy="95.3" r="1.1"/><circle cx="566.3" cy="82.3" r="1.1"/><circle cx="554.0" cy="45.8" r="1.1"/><circle cx="570.5" cy="86.9" r="1.1"/><circle cx="560.8" cy="62.4" r="1.1"/><circle cx="591.5" cy="54.4" r="1.1"/><circle cx="571.6" cy="96.4" r="1.1"/><circle cx="548.7" cy="82.2" r="1.1"/><circle cx="623.2" cy="77.6" r="1.1"/><circle cx="627.2" cy="52.7" r="1.1"/><circle cx="626.1" cy="39.4" r="1.1"/><circle cx="552.4" cy="77.0" r="1.1"/><circle cx="562.0" cy="77.2" r="1.1"/><circle cx="555.8" cy="55.9" r="1.1"/><circle cx="573.8" cy="69.6" r="1.1"/><circle cx="546.9" cy="100.4" r="1.1"/><circle cx="561.5" cy="73.5" r="1.1"/><circle cx="544.6" cy="44.4" r="1.1"/><circle cx="575.0" cy="91.5" r="1.1"/><circle cx="609.7" cy="69.8" r="1.1"/><circle cx="552.1" cy="74.4" r="1.1"/><circle cx="605.2" cy="51.7" r="1.1"/><circle cx="565.7" cy="107.4" r="1.1"/><circle cx="555.0" cy="69.5" r="1.1"/><circle cx="610.0" cy="48.3" r="1.1"/><circle cx="591.2" cy="51.7" r="1.1"/><circle cx="554.9" cy="54.6" r="1.1"/><circle cx="579.2" cy="84.4" r="1.1"/><circle cx="548.8" cy="89.8" r="1.1"/><circle cx="581.7" cy="95.1" r="1.1"/><circle cx="642.7" cy="76.7" r="1.1"/><circle cx="579.3" cy="76.2" r="1.1"/><circle cx="578.7" cy="86.2" r="1.1"/><circle cx="610.6" cy="93.0" r="1.1"/><circle cx="589.4" cy="46.3" r="1.1"/><circle cx="563.6" cy="87.4" r="1.1"/><circle cx="581.4" cy="66.1" r="1.1"/><circle cx="561.5" cy="37.7" r="1.1"/><circle cx="556.9" cy="67.9" r="1.1"/><circle cx="572.5" cy="66.1" r="1.1"/><circle cx="616.2" cy="100.0" r="1.1"/><circle cx="566.9" cy="112.3" r="1.1"/><circle cx="580.4" cy="66.5" r="1.1"/><circle cx="551.5" cy="34.3" r="1.1"/><circle cx="568.8" cy="81.4" r="1.1"/><circle cx="552.9" cy="80.3" r="1.1"/><circle cx="577.3" cy="41.1" r="1.1"/><circle cx="560.2" cy="62.5" r="1.1"/><circle cx="578.4" cy="89.9" r="1.1"/><circle cx="558.0" cy="65.3" r="1.1"/><circle cx="577.2" cy="113.2" r="1.1"/><circle cx="553.5" cy="108.2" r="1.1"/><circle cx="632.8" cy="48.6" r="1.1"/><circle cx="548.6" cy="46.6" r="1.1"/><circle cx="589.0" cy="32.1" r="1.1"/><circle cx="617.5" cy="85.3" r="1.1"/><circle cx="572.7" cy="56.4" r="1.1"/><circle cx="589.9" cy="59.6" r="1.1"/><circle cx="592.8" cy="41.9" r="1.1"/><circle cx="580.0" cy="63.5" r="1.1"/><circle cx="567.9" cy="66.4" r="1.1"/><circle cx="567.8" cy="89.1" r="1.1"/><circle cx="620.8" cy="40.4" r="1.1"/><circle cx="565.7" cy="87.8" r="1.1"/><circle cx="592.2" cy="100.1" r="1.1"/><circle cx="603.8" cy="65.0" r="1.1"/><circle cx="544.9" cy="122.5" r="1.1"/><circle cx="566.4" cy="84.4" r="1.1"/><circle cx="549.1" cy="109.1" r="1.1"/><circle cx="560.6" cy="39.5" r="1.1"/><circle cx="603.2" cy="88.7" r="1.1"/><circle cx="602.7" cy="54.4" r="1.1"/><circle cx="554.1" cy="104.3" r="1.1"/><circle cx="551.4" cy="49.7" r="1.1"/><circle cx="549.4" cy="58.0" r="1.1"/><circle cx="548.7" cy="92.3" r="1.1"/><circle cx="634.9" cy="63.7" r="1.1"/><circle cx="553.1" cy="90.5" r="1.1"/><circle cx="562.2" cy="75.4" r="1.1"/><circle cx="575.9" cy="41.4" r="1.1"/><circle cx="547.0" cy="92.6" r="1.1"/><circle cx="546.6" cy="66.5" r="1.1"/><circle cx="559.7" cy="117.6" r="1.1"/><circle cx="544.6" cy="81.0" r="1.1"/><circle cx="599.1" cy="73.8" r="1.1"/><circle cx="556.3" cy="67.7" r="1.1"/><circle cx="553.5" cy="68.4" r="1.1"/><circle cx="555.8" cy="73.5" r="1.1"/><circle cx="582.0" cy="29.0" r="1.1"/><circle cx="610.3" cy="60.9" r="1.1"/><circle cx="545.0" cy="55.9" r="1.1"/><circle cx="566.8" cy="93.1" r="1.1"/><circle cx="560.5" cy="76.7" r="1.1"/><circle cx="608.9" cy="66.9" r="1.1"/><circle cx="571.0" cy="105.3" r="1.1"/><circle cx="641.1" cy="56.7" r="1.1"/><circle cx="571.3" cy="74.6" r="1.1"/><circle cx="561.9" cy="57.7" r="1.1"/><circle cx="562.8" cy="62.2" r="1.1"/><circle cx="597.6" cy="98.0" r="1.1"/><circle cx="548.4" cy="79.9" r="1.1"/><circle cx="575.3" cy="42.0" r="1.1"/><circle cx="546.1" cy="83.1" r="1.1"/><circle cx="556.8" cy="51.9" r="1.1"/><circle cx="559.7" cy="75.0" r="1.1"/><circle cx="562.2" cy="46.7" r="1.1"/><circle cx="573.7" cy="58.9" r="1.1"/><circle cx="600.8" cy="56.5" r="1.1"/><circle cx="553.1" cy="38.7" r="1.1"/><circle cx="600.7" cy="55.8" r="1.1"/><circle cx="601.7" cy="75.3" r="1.1"/><circle cx="602.6" cy="35.9" r="1.1"/><circle cx="547.0" cy="72.6" r="1.1"/><circle cx="549.1" cy="98.1" r="1.1"/><circle cx="586.6" cy="96.1" r="1.1"/><circle cx="558.5" cy="89.7" r="1.1"/><circle cx="555.4" cy="87.5" r="1.1"/><circle cx="614.6" cy="94.8" r="1.1"/><circle cx="550.8" cy="50.8" r="1.1"/><circle cx="596.2" cy="30.6" r="1.1"/><circle cx="598.3" cy="48.2" r="1.1"/><circle cx="626.5" cy="92.2" r="1.1"/><circle cx="592.8" cy="29.3" r="1.1"/><circle cx="567.5" cy="54.8" r="1.1"/><circle cx="563.5" cy="57.8" r="1.1"/><circle cx="575.5" cy="112.8" r="1.1"/><circle cx="555.0" cy="130.7" r="1.1"/><circle cx="550.5" cy="112.1" r="1.1"/><circle cx="552.2" cy="127.0" r="1.1"/><circle cx="556.2" cy="123.0" r="1.1"/><circle cx="577.0" cy="71.4" r="1.1"/><circle cx="569.0" cy="57.7" r="1.1"/><circle cx="555.0" cy="79.2" r="1.1"/><circle cx="548.1" cy="129.1" r="1.1"/><circle cx="553.6" cy="79.2" r="1.1"/><circle cx="545.5" cy="78.1" r="1.1"/><circle cx="570.2" cy="48.2" r="1.1"/><circle cx="595.0" cy="58.2" r="1.1"/><circle cx="582.2" cy="106.7" r="1.1"/><circle cx="593.1" cy="91.8" r="1.1"/><circle cx="566.9" cy="81.7" r="1.1"/><circle cx="546.4" cy="126.7" r="1.1"/><circle cx="590.7" cy="82.0" r="1.1"/><circle cx="552.3" cy="90.0" r="1.1"/><circle cx="554.1" cy="102.6" r="1.1"/><circle cx="547.3" cy="86.5" r="1.1"/><circle cx="635.4" cy="39.8" r="1.1"/><circle cx="545.2" cy="85.0" r="1.1"/><circle cx="560.6" cy="70.3" r="1.1"/><circle cx="547.1" cy="67.6" r="1.1"/><circle cx="613.6" cy="126.4" r="1.1"/><circle cx="555.0" cy="101.5" r="1.1"/><circle cx="614.3" cy="92.3" r="1.1"/><circle cx="546.0" cy="41.6" r="1.1"/><circle cx="555.0" cy="67.3" r="1.1"/><circle cx="566.4" cy="96.4" r="1.1"/><circle cx="582.7" cy="60.9" r="1.1"/><circle cx="616.8" cy="88.6" r="1.1"/><circle cx="598.6" cy="60.6" r="1.1"/><circle cx="643.5" cy="50.0" r="1.1"/><circle cx="597.2" cy="65.9" r="1.1"/><circle cx="560.2" cy="33.7" r="1.1"/><circle cx="589.7" cy="57.8" r="1.1"/><circle cx="554.5" cy="75.4" r="1.1"/><circle cx="545.9" cy="56.6" r="1.1"/><circle cx="569.1" cy="86.0" r="1.1"/><circle cx="592.9" cy="83.0" r="1.1"/><circle cx="550.6" cy="63.9" r="1.1"/><circle cx="566.8" cy="124.0" r="1.1"/><circle cx="568.3" cy="75.4" r="1.1"/><circle cx="550.6" cy="62.5" r="1.1"/><circle cx="547.2" cy="42.4" r="1.1"/><circle cx="586.4" cy="56.6" r="1.1"/><circle cx="573.5" cy="68.7" r="1.1"/><circle cx="550.1" cy="126.1" r="1.1"/><circle cx="555.8" cy="79.8" r="1.1"/><circle cx="583.0" cy="62.2" r="1.1"/><circle cx="593.0" cy="49.4" r="1.1"/><circle cx="567.1" cy="44.1" r="1.1"/><circle cx="562.2" cy="100.8" r="1.1"/><circle cx="564.0" cy="108.0" r="1.1"/><circle cx="599.5" cy="80.7" r="1.1"/><circle cx="558.9" cy="80.3" r="1.1"/><circle cx="581.0" cy="76.2" r="1.1"/><circle cx="608.6" cy="94.1" r="1.1"/><circle cx="578.5" cy="78.8" r="1.1"/><circle cx="553.9" cy="70.6" r="1.1"/><circle cx="555.2" cy="80.5" r="1.1"/><circle cx="574.2" cy="45.6" r="1.1"/><circle cx="547.5" cy="107.1" r="1.1"/><circle cx="588.7" cy="104.7" r="1.1"/><circle cx="550.3" cy="108.8" r="1.1"/><circle cx="613.7" cy="97.3" r="1.1"/><circle cx="589.2" cy="102.3" r="1.1"/><circle cx="591.3" cy="92.6" r="1.1"/><circle cx="553.9" cy="90.1" r="1.1"/><circle cx="551.1" cy="57.5" r="1.1"/><circle cx="629.1" cy="68.4" r="1.1"/><circle cx="559.7" cy="95.5" r="1.1"/><circle cx="546.3" cy="57.8" r="1.1"/><circle cx="605.3" cy="59.7" r="1.1"/><circle cx="561.6" cy="52.9" r="1.1"/><circle cx="566.2" cy="79.4" r="1.1"/><circle cx="578.7" cy="86.1" r="1.1"/><circle cx="616.3" cy="105.7" r="1.1"/><circle cx="607.8" cy="118.6" r="1.1"/><circle cx="553.7" cy="108.8" r="1.1"/><circle cx="605.8" cy="89.9" r="1.1"/><circle cx="551.1" cy="74.6" r="1.1"/><circle cx="548.8" cy="90.1" r="1.1"/><circle cx="609.1" cy="70.4" r="1.1"/><circle cx="551.0" cy="64.0" r="1.1"/><circle cx="564.4" cy="67.3" r="1.1"/><circle cx="583.8" cy="63.9" r="1.1"/><circle cx="599.0" cy="31.7" r="1.1"/><circle cx="577.6" cy="64.7" r="1.1"/><circle cx="580.2" cy="101.2" r="1.1"/><circle cx="549.8" cy="81.5" r="1.1"/><circle cx="566.7" cy="56.9" r="1.1"/><circle cx="592.4" cy="52.8" r="1.1"/><circle cx="605.7" cy="26.7" r="1.1"/><circle cx="573.4" cy="52.8" r="1.1"/><circle cx="620.7" cy="107.8" r="1.1"/><circle cx="636.9" cy="71.6" r="1.1"/><circle cx="586.0" cy="63.2" r="1.1"/><circle cx="608.8" cy="85.6" r="1.1"/><circle cx="560.4" cy="72.7" r="1.1"/><circle cx="545.2" cy="47.3" r="1.1"/><circle cx="551.3" cy="88.6" r="1.1"/><circle cx="546.3" cy="74.6" r="1.1"/><circle cx="622.9" cy="83.3" r="1.1"/><circle cx="553.9" cy="82.3" r="1.1"/><circle cx="589.5" cy="110.1" r="1.1"/><circle cx="581.7" cy="84.2" r="1.1"/><circle cx="584.0" cy="77.6" r="1.1"/><circle cx="665.3" cy="51.1" r="1.1"/><circle cx="617.7" cy="70.9" r="1.1"/><circle cx="550.2" cy="38.3" r="1.1"/><circle cx="549.1" cy="120.0" r="1.1"/><circle cx="593.3" cy="87.0" r="1.1"/><circle cx="556.6" cy="94.8" r="1.1"/><circle cx="608.1" cy="74.0" r="1.1"/><circle cx="583.9" cy="64.3" r="1.1"/><circle cx="588.2" cy="112.3" r="1.1"/><circle cx="548.1" cy="52.2" r="1.1"/><circle cx="630.1" cy="51.8" r="1.1"/><circle cx="560.6" cy="92.5" r="1.1"/><circle cx="554.0" cy="57.2" r="1.1"/><circle cx="546.3" cy="116.9" r="1.1"/><circle cx="589.2" cy="111.4" r="1.1"/><circle cx="546.6" cy="40.8" r="1.1"/><circle cx="557.3" cy="105.6" r="1.1"/><circle cx="573.4" cy="33.9" r="1.1"/><circle cx="614.6" cy="35.1" r="1.1"/><circle cx="546.4" cy="99.3" r="1.1"/><circle cx="553.4" cy="100.4" r="1.1"/><circle cx="571.3" cy="122.7" r="1.1"/><circle cx="554.8" cy="51.1" r="1.1"/><circle cx="576.7" cy="87.6" r="1.1"/><circle cx="559.3" cy="38.8" r="1.1"/><circle cx="583.3" cy="82.7" r="1.1"/><circle cx="565.7" cy="86.1" r="1.1"/><circle cx="550.5" cy="67.7" r="1.1"/><circle cx="593.9" cy="87.0" r="1.1"/><circle cx="552.5" cy="49.1" r="1.1"/><circle cx="551.8" cy="109.7" r="1.1"/><circle cx="546.5" cy="48.5" r="1.1"/><circle cx="612.5" cy="81.1" r="1.1"/><circle cx="565.7" cy="98.0" r="1.1"/><circle cx="628.2" cy="94.4" r="1.1"/><circle cx="548.2" cy="125.2" r="1.1"/><circle cx="554.5" cy="71.2" r="1.1"/><circle cx="566.1" cy="81.3" r="1.1"/><circle cx="581.5" cy="79.7" r="1.1"/><circle cx="567.5" cy="87.3" r="1.1"/><circle cx="590.2" cy="100.1" r="1.1"/><circle cx="560.9" cy="68.4" r="1.1"/><circle cx="556.5" cy="73.5" r="1.1"/><circle cx="597.7" cy="76.3" r="1.1"/><circle cx="545.2" cy="82.3" r="1.1"/><circle cx="573.7" cy="74.2" r="1.1"/><circle cx="546.8" cy="72.2" r="1.1"/><circle cx="546.3" cy="78.5" r="1.1"/><circle cx="547.8" cy="84.9" r="1.1"/><circle cx="588.1" cy="79.8" r="1.1"/><circle cx="561.6" cy="108.0" r="1.1"/><circle cx="627.3" cy="50.4" r="1.1"/><circle cx="596.4" cy="65.6" r="1.1"/><circle cx="636.6" cy="39.4" r="1.1"/><circle cx="634.0" cy="74.4" r="1.1"/><circle cx="564.1" cy="68.3" r="1.1"/><circle cx="548.0" cy="116.3" r="1.1"/><circle cx="558.4" cy="28.9" r="1.1"/><circle cx="554.1" cy="83.3" r="1.1"/><circle cx="550.8" cy="73.6" r="1.1"/><circle cx="553.3" cy="93.1" r="1.1"/><circle cx="557.8" cy="72.3" r="1.1"/><circle cx="604.2" cy="58.0" r="1.1"/><circle cx="553.8" cy="68.6" r="1.1"/><circle cx="548.9" cy="85.6" r="1.1"/><circle cx="596.0" cy="59.6" r="1.1"/><circle cx="554.1" cy="98.1" r="1.1"/><circle cx="547.1" cy="96.3" r="1.1"/><circle cx="554.8" cy="50.1" r="1.1"/><circle cx="625.3" cy="56.8" r="1.1"/><circle cx="544.8" cy="66.7" r="1.1"/><circle cx="553.2" cy="69.0" r="1.1"/><circle cx="557.2" cy="94.2" r="1.1"/><circle cx="550.6" cy="105.7" r="1.1"/><circle cx="580.1" cy="62.3" r="1.1"/><circle cx="561.0" cy="74.1" r="1.1"/><circle cx="582.3" cy="62.1" r="1.1"/><circle cx="560.6" cy="107.1" r="1.1"/><circle cx="573.3" cy="46.3" r="1.1"/><circle cx="564.4" cy="64.1" r="1.1"/><circle cx="555.5" cy="50.8" r="1.1"/><circle cx="592.4" cy="44.4" r="1.1"/><circle cx="556.9" cy="87.0" r="1.1"/><circle cx="607.2" cy="76.9" r="1.1"/><circle cx="575.8" cy="68.7" r="1.1"/><circle cx="602.4" cy="54.3" r="1.1"/><circle cx="573.2" cy="42.5" r="1.1"/><circle cx="566.2" cy="49.9" r="1.1"/><circle cx="576.3" cy="67.2" r="1.1"/><circle cx="557.1" cy="101.5" r="1.1"/><circle cx="598.4" cy="91.4" r="1.1"/>
</g>
<path d="M545.5,81.4 L609,69.4 L672.6,52.2 L672.6,61.8 L609,71.2 L545.5,85.6 Z" fill="#8c8c8c" opacity="0.7"/>
<line x1="545.5" y1="83.5" x2="672.6" y2="57.0" stroke="#6a1c28" stroke-width="0.9"/>
<text x="674.3" y="135.4" font-size="10" font-style="italic" text-anchor="end">R = 0.22, p &lt; 0.0001</text>
<g font-size="10.3" font-weight="bold">
<line x1="534.3" y1="29.90" x2="536.8" y2="29.90" stroke="#333" stroke-width="0.6"/>
<text x="533.6" y="32.90" text-anchor="end">0.8</text>
<line x1="534.3" y1="60.97" x2="536.8" y2="60.97" stroke="#333" stroke-width="0.6"/>
<text x="533.6" y="63.97" text-anchor="end">0.6</text>
<line x1="534.3" y1="92.04" x2="536.8" y2="92.04" stroke="#333" stroke-width="0.6"/>
<text x="533.6" y="95.04" text-anchor="end">0.4</text>
<line x1="534.3" y1="123.11" x2="536.8" y2="123.11" stroke="#333" stroke-width="0.6"/>
<text x="533.6" y="126.11" text-anchor="end">0.2</text>
<line x1="545.50" y1="139.6" x2="545.50" y2="142" stroke="#333" stroke-width="0.6"/>
<text x="545.50" y="151.8" text-anchor="middle">0.00</text>
<line x1="571.80" y1="139.6" x2="571.80" y2="142" stroke="#333" stroke-width="0.6"/>
<text x="571.80" y="151.8" text-anchor="middle">0.01</text>
<line x1="598.10" y1="139.6" x2="598.10" y2="142" stroke="#333" stroke-width="0.6"/>
<text x="598.10" y="151.8" text-anchor="middle">0.02</text>
<line x1="624.40" y1="139.6" x2="624.40" y2="142" stroke="#333" stroke-width="0.6"/>
<text x="624.40" y="151.8" text-anchor="middle">0.03</text>
<line x1="650.70" y1="139.6" x2="650.70" y2="142" stroke="#333" stroke-width="0.6"/>
<text x="650.70" y="151.8" text-anchor="middle">0.04</text>
<line x1="677.00" y1="139.6" x2="677.00" y2="142" stroke="#333" stroke-width="0.6"/>
<text x="677.00" y="151.8" text-anchor="middle">0.05</text>
<text x="609.7" y="161.9" text-anchor="middle" font-size="10.3">Difference in AN (mg/kg)</text>
<text transform="translate(512.4,80.3) rotate(-90)" text-anchor="middle" font-size="10.3">Bray−Curtis Dissimilarity</text>
</g>
<rect x="537.2" y="169.7" width="141.5" height="119.40000000000003" fill="#fff" stroke="#c4c4c4" stroke-width="0.9"/>
<g fill="#62d076" stroke="#4aa860" stroke-width="0.35">
<circle cx="550.4" cy="222.9" r="1.1"/><circle cx="580.8" cy="232.1" r="1.1"/><circle cx="588.3" cy="219.3" r="1.1"/><circle cx="557.0" cy="202.7" r="1.1"/><circle cx="566.1" cy="233.9" r="1.1"/><circle cx="571.6" cy="220.8" r="1.1"/><circle cx="597.8" cy="221.4" r="1.1"/><circle cx="601.6" cy="246.0" r="1.1"/><circle cx="567.0" cy="251.2" r="1.1"/><circle cx="619.1" cy="233.8" r="1.1"/><circle cx="615.9" cy="211.0" r="1.1"/><circle cx="579.1" cy="218.7" r="1.1"/><circle cx="597.7" cy="228.1" r="1.1"/><circle cx="608.1" cy="200.2" r="1.1"/><circle cx="567.5" cy="219.4" r="1.1"/><circle cx="577.8" cy="242.7" r="1.1"/><circle cx="547.0" cy="207.0" r="1.1"/><circle cx="570.3" cy="218.9" r="1.1"/><circle cx="600.7" cy="240.5" r="1.1"/><circle cx="616.7" cy="194.6" r="1.1"/><circle cx="549.2" cy="218.2" r="1.1"/><circle cx="555.4" cy="215.2" r="1.1"/><circle cx="592.9" cy="196.5" r="1.1"/><circle cx="600.8" cy="186.8" r="1.1"/><circle cx="593.2" cy="252.5" r="1.1"/><circle cx="572.5" cy="225.7" r="1.1"/><circle cx="579.7" cy="205.2" r="1.1"/><circle cx="630.7" cy="232.5" r="1.1"/><circle cx="611.7" cy="237.2" r="1.1"/><circle cx="555.2" cy="247.9" r="1.1"/><circle cx="589.7" cy="229.1" r="1.1"/><circle cx="651.3" cy="210.8" r="1.1"/><circle cx="568.5" cy="241.2" r="1.1"/><circle cx="591.6" cy="190.2" r="1.1"/><circle cx="581.2" cy="206.7" r="1.1"/><circle cx="605.7" cy="213.2" r="1.1"/><circle cx="585.5" cy="231.4" r="1.1"/><circle cx="575.1" cy="232.4" r="1.1"/><circle cx="548.9" cy="210.0" r="1.1"/><circle cx="592.1" cy="212.3" r="1.1"/><circle cx="605.7" cy="247.4" r="1.1"/><circle cx="607.5" cy="203.3" r="1.1"/><circle cx="628.6" cy="241.3" r="1.1"/><circle cx="555.6" cy="232.8" r="1.1"/><circle cx="571.9" cy="178.4" r="1.1"/><circle cx="608.1" cy="230.4" r="1.1"/><circle cx="557.3" cy="219.0" r="1.1"/><circle cx="622.2" cy="192.7" r="1.1"/><circle cx="618.0" cy="185.2" r="1.1"/><circle cx="587.9" cy="220.6" r="1.1"/><circle cx="562.9" cy="214.1" r="1.1"/><circle cx="625.1" cy="248.6" r="1.1"/><circle cx="616.1" cy="239.3" r="1.1"/><circle cx="556.1" cy="220.3" r="1.1"/><circle cx="571.2" cy="229.2" r="1.1"/><circle cx="627.9" cy="249.3" r="1.1"/><circle cx="553.2" cy="201.1" r="1.1"/><circle cx="580.2" cy="219.4" r="1.1"/><circle cx="592.1" cy="199.2" r="1.1"/><circle cx="592.9" cy="223.2" r="1.1"/><circle cx="621.2" cy="197.3" r="1.1"/><circle cx="548.6" cy="265.3" r="1.1"/><circle cx="553.5" cy="238.6" r="1.1"/><circle cx="590.6" cy="179.9" r="1.1"/><circle cx="639.5" cy="197.1" r="1.1"/><circle cx="548.8" cy="233.7" r="1.1"/><circle cx="621.3" cy="258.1" r="1.1"/><circle cx="554.3" cy="261.3" r="1.1"/><circle cx="552.7" cy="233.3" r="1.1"/><circle cx="603.6" cy="252.2" r="1.1"/><circle cx="616.5" cy="248.2" r="1.1"/><circle cx="608.1" cy="227.4" r="1.1"/><circle cx="606.2" cy="193.2" r="1.1"/><circle cx="557.4" cy="278.3" r="1.1"/><circle cx="550.7" cy="253.8" r="1.1"/><circle cx="561.2" cy="217.4" r="1.1"/><circle cx="548.7" cy="233.7" r="1.1"/><circle cx="548.9" cy="251.4" r="1.1"/><circle cx="547.6" cy="253.6" r="1.1"/><circle cx="615.7" cy="223.4" r="1.1"/><circle cx="619.1" cy="259.5" r="1.1"/><circle cx="555.1" cy="187.3" r="1.1"/><circle cx="563.7" cy="175.6" r="1.1"/><circle cx="561.5" cy="238.2" r="1.1"/><circle cx="577.3" cy="236.7" r="1.1"/><circle cx="592.0" cy="217.5" r="1.1"/><circle cx="575.9" cy="235.0" r="1.1"/><circle cx="559.2" cy="225.4" r="1.1"/><circle cx="548.6" cy="244.7" r="1.1"/><circle cx="584.0" cy="214.2" r="1.1"/><circle cx="552.1" cy="259.1" r="1.1"/><circle cx="608.9" cy="258.7" r="1.1"/><circle cx="551.3" cy="258.0" r="1.1"/><circle cx="599.5" cy="214.6" r="1.1"/><circle cx="631.5" cy="188.7" r="1.1"/><circle cx="554.6" cy="244.6" r="1.1"/><circle cx="645.9" cy="211.0" r="1.1"/><circle cx="562.4" cy="230.2" r="1.1"/><circle cx="563.3" cy="243.1" r="1.1"/><circle cx="560.3" cy="233.3" r="1.1"/><circle cx="599.1" cy="181.7" r="1.1"/><circle cx="586.8" cy="218.1" r="1.1"/><circle cx="564.6" cy="252.9" r="1.1"/><circle cx="551.2" cy="182.1" r="1.1"/><circle cx="631.6" cy="209.9" r="1.1"/><circle cx="550.7" cy="244.5" r="1.1"/><circle cx="574.5" cy="235.7" r="1.1"/><circle cx="593.6" cy="225.8" r="1.1"/><circle cx="621.8" cy="252.3" r="1.1"/><circle cx="603.9" cy="196.6" r="1.1"/><circle cx="562.4" cy="215.0" r="1.1"/><circle cx="606.5" cy="195.7" r="1.1"/><circle cx="592.5" cy="201.1" r="1.1"/><circle cx="632.5" cy="243.6" r="1.1"/><circle cx="549.0" cy="258.8" r="1.1"/><circle cx="548.5" cy="207.3" r="1.1"/><circle cx="600.2" cy="190.0" r="1.1"/><circle cx="556.4" cy="206.9" r="1.1"/><circle cx="627.9" cy="209.8" r="1.1"/><circle cx="548.0" cy="277.3" r="1.1"/><circle cx="556.1" cy="210.1" r="1.1"/><circle cx="564.7" cy="267.7" r="1.1"/><circle cx="564.4" cy="217.7" r="1.1"/><circle cx="607.2" cy="264.4" r="1.1"/><circle cx="558.3" cy="231.0" r="1.1"/><circle cx="573.3" cy="199.8" r="1.1"/><circle cx="556.9" cy="222.1" r="1.1"/><circle cx="553.1" cy="239.3" r="1.1"/><circle cx="576.8" cy="239.9" r="1.1"/><circle cx="576.3" cy="224.0" r="1.1"/><circle cx="620.8" cy="264.2" r="1.1"/><circle cx="560.9" cy="216.5" r="1.1"/><circle cx="652.7" cy="202.4" r="1.1"/><circle cx="618.6" cy="210.4" r="1.1"/><circle cx="604.2" cy="237.2" r="1.1"/><circle cx="548.0" cy="211.7" r="1.1"/><circle cx="658.9" cy="240.4" r="1.1"/><circle cx="601.5" cy="192.7" r="1.1"/><circle cx="636.7" cy="203.2" r="1.1"/><circle cx="547.2" cy="246.2" r="1.1"/><circle cx="551.3" cy="224.2" r="1.1"/><circle cx="584.8" cy="216.9" r="1.1"/><circle cx="642.2" cy="179.5" r="1.1"/><circle cx="574.9" cy="216.6" r="1.1"/><circle cx="649.9" cy="226.4" r="1.1"/><circle cx="549.7" cy="200.8" r="1.1"/><circle cx="557.9" cy="204.0" r="1.1"/><circle cx="559.4" cy="268.1" r="1.1"/><circle cx="602.2" cy="187.6" r="1.1"/><circle cx="612.7" cy="225.7" r="1.1"/><circle cx="641.5" cy="198.3" r="1.1"/><circle cx="552.5" cy="248.8" r="1.1"/><circle cx="553.2" cy="226.1" r="1.1"/><circle cx="553.8" cy="204.3" r="1.1"/><circle cx="596.2" cy="185.9" r="1.1"/><circle cx="557.7" cy="204.2" r="1.1"/><circle cx="639.4" cy="217.3" r="1.1"/><circle cx="601.0" cy="280.5" r="1.1"/><circle cx="624.0" cy="185.2" r="1.1"/><circle cx="623.1" cy="242.4" r="1.1"/><circle cx="548.7" cy="248.9" r="1.1"/><circle cx="589.4" cy="228.7" r="1.1"/><circle cx="580.4" cy="229.1" r="1.1"/><circle cx="559.3" cy="245.3" r="1.1"/><circle cx="638.2" cy="250.9" r="1.1"/><circle cx="600.8" cy="213.2" r="1.1"/><circle cx="550.3" cy="240.6" r="1.1"/><circle cx="657.6" cy="232.9" r="1.1"/><circle cx="572.9" cy="222.3" r="1.1"/><circle cx="561.4" cy="214.7" r="1.1"/><circle cx="579.0" cy="215.7" r="1.1"/><circle cx="567.9" cy="199.1" r="1.1"/><circle cx="578.4" cy="212.8" r="1.1"/><circle cx="602.7" cy="227.1" r="1.1"/><circle cx="619.4" cy="224.4" r="1.1"/><circle cx="574.8" cy="252.7" r="1.1"/><circle cx="593.4" cy="216.4" r="1.1"/><circle cx="618.1" cy="252.0" r="1.1"/><circle cx="555.7" cy="195.7" r="1.1"/><circle cx="572.8" cy="204.7" r="1.1"/><circle cx="547.9" cy="235.1" r="1.1"/><circle cx="559.3" cy="254.0" r="1.1"/><circle cx="566.9" cy="225.4" r="1.1"/><circle cx="601.6" cy="260.4" r="1.1"/><circle cx="556.4" cy="215.0" r="1.1"/><circle cx="572.7" cy="208.8" r="1.1"/><circle cx="547.6" cy="231.6" r="1.1"/><circle cx="550.0" cy="276.2" r="1.1"/><circle cx="556.8" cy="249.9" r="1.1"/><circle cx="605.5" cy="234.2" r="1.1"/><circle cx="557.9" cy="270.6" r="1.1"/><circle cx="599.1" cy="220.3" r="1.1"/><circle cx="552.4" cy="202.2" r="1.1"/><circle cx="564.2" cy="253.8" r="1.1"/><circle cx="569.5" cy="254.4" r="1.1"/><circle cx="565.6" cy="268.0" r="1.1"/><circle cx="618.5" cy="236.0" r="1.1"/><circle cx="562.2" cy="244.1" r="1.1"/><circle cx="576.7" cy="223.8" r="1.1"/><circle cx="582.8" cy="201.2" r="1.1"/><circle cx="584.1" cy="252.2" r="1.1"/><circle cx="571.0" cy="231.7" r="1.1"/><circle cx="590.0" cy="235.6" r="1.1"/><circle cx="640.5" cy="239.6" r="1.1"/><circle cx="595.4" cy="239.3" r="1.1"/><circle cx="604.8" cy="217.0" r="1.1"/><circle cx="563.0" cy="225.0" r="1.1"/><circle cx="572.9" cy="225.5" r="1.1"/><circle cx="568.3" cy="205.8" r="1.1"/><circle cx="560.8" cy="271.9" r="1.1"/><circle cx="637.5" cy="183.9" r="1.1"/><circle cx="581.3" cy="238.9" r="1.1"/><circle cx="560.5" cy="216.3" r="1.1"/><circle cx="645.8" cy="197.7" r="1.1"/><circle cx="598.7" cy="194.9" r="1.1"/><circle cx="580.4" cy="222.6" r="1.1"/><circle cx="560.9" cy="211.2" r="1.1"/><circle cx="610.5" cy="224.0" r="1.1"/><circle cx="606.5" cy="228.5" r="1.1"/><circle cx="562.2" cy="226.7" r="1.1"/><circle cx="602.3" cy="209.2" r="1.1"/><circle cx="554.4" cy="247.9" r="1.1"/><circle cx="598.5" cy="212.7" r="1.1"/><circle cx="619.2" cy="268.1" r="1.1"/><circle cx="548.9" cy="239.9" r="1.1"/><circle cx="562.9" cy="203.6" r="1.1"/><circle cx="592.1" cy="223.2" r="1.1"/><circle cx="642.3" cy="210.3" r="1.1"/><circle cx="563.9" cy="199.8" r="1.1"/><circle cx="625.8" cy="211.2" r="1.1"/><circle cx="672.9" cy="188.6" r="1.1"/><circle cx="573.7" cy="274.2" r="1.1"/><circle cx="596.1" cy="210.1" r="1.1"/><circle cx="548.6" cy="248.4" r="1.1"/><circle cx="595.5" cy="183.3" r="1.1"/><circle cx="586.3" cy="228.5" r="1.1"/><circle cx="607.3" cy="189.6" r="1.1"/><circle cx="563.1" cy="240.1" r="1.1"/><circle cx="587.4" cy="212.1" r="1.1"/><circle cx="553.2" cy="212.8" r="1.1"/><circle cx="593.9" cy="226.4" r="1.1"/><circle cx="583.1" cy="256.0" r="1.1"/><circle cx="632.0" cy="222.0" r="1.1"/><circle cx="590.1" cy="197.2" r="1.1"/><circle cx="568.0" cy="210.3" r="1.1"/><circle cx="589.4" cy="218.8" r="1.1"/><circle cx="668.3" cy="188.1" r="1.1"/><circle cx="576.7" cy="192.2" r="1.1"/><circle cx="591.5" cy="254.2" r="1.1"/><circle cx="615.8" cy="245.6" r="1.1"/><circle cx="552.1" cy="245.5" r="1.1"/><circle cx="622.4" cy="222.0" r="1.1"/><circle cx="551.1" cy="218.1" r="1.1"/><circle cx="600.5" cy="226.9" r="1.1"/><circle cx="563.4" cy="274.0" r="1.1"/><circle cx="609.6" cy="217.3" r="1.1"/><circle cx="633.5" cy="186.8" r="1.1"/><circle cx="622.9" cy="251.7" r="1.1"/><circle cx="590.6" cy="255.4" r="1.1"/><circle cx="563.5" cy="215.9" r="1.1"/><circle cx="621.3" cy="201.5" r="1.1"/><circle cx="580.1" cy="219.8" r="1.1"/><circle cx="618.8" cy="231.8" r="1.1"/><circle cx="572.7" cy="254.3" r="1.1"/><circle cx="608.3" cy="216.9" r="1.1"/><circle cx="584.3" cy="243.5" r="1.1"/><circle cx="565.6" cy="213.9" r="1.1"/><circle cx="650.0" cy="196.7" r="1.1"/><circle cx="588.1" cy="195.6" r="1.1"/><circle cx="608.0" cy="240.2" r="1.1"/><circle cx="567.2" cy="196.9" r="1.1"/><circle cx="559.3" cy="214.8" r="1.1"/><circle cx="562.0" cy="213.9" r="1.1"/><circle cx="620.2" cy="190.3" r="1.1"/><circle cx="546.4" cy="205.7" r="1.1"/><circle cx="648.3" cy="209.8" r="1.1"/><circle cx="596.3" cy="224.7" r="1.1"/><circle cx="563.1" cy="272.5" r="1.1"/><circle cx="555.2" cy="252.1" r="1.1"/><circle cx="549.2" cy="231.7" r="1.1"/><circle cx="650.9" cy="244.2" r="1.1"/><circle cx="577.1" cy="278.3" r="1.1"/><circle cx="559.6" cy="227.4" r="1.1"/><circle cx="574.0" cy="234.0" r="1.1"/><circle cx="662.3" cy="199.7" r="1.1"/><circle cx="554.6" cy="228.5" r="1.1"/><circle cx="609.2" cy="246.3" r="1.1"/><circle cx="664.6" cy="190.9" r="1.1"/><circle cx="556.8" cy="260.6" r="1.1"/><circle cx="653.1" cy="206.6" r="1.1"/><circle cx="559.4" cy="238.9" r="1.1"/><circle cx="549.9" cy="233.6" r="1.1"/><circle cx="588.9" cy="195.3" r="1.1"/><circle cx="621.2" cy="224.8" r="1.1"/><circle cx="555.1" cy="224.9" r="1.1"/><circle cx="622.0" cy="214.1" r="1.1"/><circle cx="598.9" cy="227.0" r="1.1"/><circle cx="587.2" cy="196.5" r="1.1"/><circle cx="551.0" cy="233.3" r="1.1"/><circle cx="563.0" cy="211.5" r="1.1"/><circle cx="666.1" cy="200.0" r="1.1"/><circle cx="625.9" cy="224.7" r="1.1"/><circle cx="568.9" cy="258.3" r="1.1"/><circle cx="549.1" cy="224.4" r="1.1"/><circle cx="642.3" cy="220.0" r="1.1"/><circle cx="626.7" cy="202.1" r="1.1"/><circle cx="574.2" cy="204.8" r="1.1"/><circle cx="553.1" cy="234.2" r="1.1"/><circle cx="577.0" cy="234.3" r="1.1"/><circle cx="574.8" cy="268.1" r="1.1"/><circle cx="597.6" cy="252.6" r="1.1"/><circle cx="637.9" cy="213.7" r="1.1"/><circle cx="634.2" cy="262.5" r="1.1"/><circle cx="570.1" cy="180.5" r="1.1"/><circle cx="548.1" cy="227.7" r="1.1"/><circle cx="600.3" cy="232.1" r="1.1"/><circle cx="547.8" cy="253.5" r="1.1"/><circle cx="634.1" cy="220.3" r="1.1"/><circle cx="651.7" cy="184.8" r="1.1"/><circle cx="588.4" cy="267.9" r="1.1"/><circle cx="582.9" cy="220.5" r="1.1"/><circle cx="656.7" cy="189.0" r="1.1"/><circle cx="641.1" cy="204.6" r="1.1"/><circle cx="563.9" cy="203.5" r="1.1"/><circle cx="654.9" cy="232.3" r="1.1"/><circle cx="553.8" cy="207.6" r="1.1"/><circle cx="618.7" cy="230.1" r="1.1"/><circle cx="557.0" cy="248.5" r="1.1"/><circle cx="602.4" cy="184.0" r="1.1"/><circle cx="661.5" cy="176.6" r="1.1"/><circle cx="553.6" cy="240.8" r="1.1"/><circle cx="572.8" cy="229.5" r="1.1"/><circle cx="556.0" cy="195.8" r="1.1"/><circle cx="613.7" cy="202.1" r="1.1"/><circle cx="567.5" cy="239.3" r="1.1"/><circle cx="550.7" cy="237.1" r="1.1"/><circle cx="573.8" cy="221.5" r="1.1"/><circle cx="576.2" cy="204.1" r="1.1"/><circle cx="624.5" cy="222.9" r="1.1"/><circle cx="628.8" cy="174.5" r="1.1"/><circle cx="583.9" cy="234.8" r="1.1"/><circle cx="612.3" cy="197.1" r="1.1"/><circle cx="578.6" cy="253.0" r="1.1"/><circle cx="619.2" cy="186.7" r="1.1"/><circle cx="555.7" cy="207.1" r="1.1"/><circle cx="550.0" cy="242.4" r="1.1"/><circle cx="638.8" cy="239.1" r="1.1"/><circle cx="585.2" cy="224.6" r="1.1"/><circle cx="587.0" cy="223.7" r="1.1"/><circle cx="583.5" cy="232.0" r="1.1"/><circle cx="556.9" cy="229.9" r="1.1"/><circle cx="584.9" cy="209.6" r="1.1"/><circle cx="599.8" cy="226.1" r="1.1"/><circle cx="587.0" cy="268.5" r="1.1"/><circle cx="577.9" cy="214.3" r="1.1"/><circle cx="606.0" cy="236.7" r="1.1"/><circle cx="634.2" cy="239.6" r="1.1"/><circle cx="555.2" cy="232.5" r="1.1"/><circle cx="628.9" cy="244.5" r="1.1"/><circle cx="558.4" cy="232.6" r="1.1"/><circle cx="621.5" cy="217.3" r="1.1"/><circle cx="601.0" cy="226.2" r="1.1"/><circle cx="548.2" cy="207.4" r="1.1"/><circle cx="558.0" cy="228.2" r="1.1"/><circle cx="574.9" cy="211.4" r="1.1"/><circle cx="642.3" cy="218.9" r="1.1"/><circle cx="554.8" cy="206.2" r="1.1"/><circle cx="619.1" cy="198.4" r="1.1"/><circle cx="570.3" cy="226.8" r="1.1"/><circle cx="593.1" cy="223.1" r="1.1"/><circle cx="651.9" cy="184.5" r="1.1"/><circle cx="581.4" cy="257.6" r="1.1"/><circle cx="582.0" cy="238.1" r="1.1"/><circle cx="548.2" cy="211.2" r="1.1"/><circle cx="596.1" cy="201.0" r="1.1"/><circle cx="566.9" cy="230.7" r="1.1"/><circle cx="548.4" cy="203.8" r="1.1"/><circle cx="601.1" cy="201.1" r="1.1"/><circle cx="553.0" cy="183.5" r="1.1"/><circle cx="572.0" cy="216.4" r="1.1"/><circle cx="611.7" cy="241.8" r="1.1"/><circle cx="551.7" cy="244.6" r="1.1"/><circle cx="555.6" cy="237.6" r="1.1"/><circle cx="576.1" cy="217.3" r="1.1"/><circle cx="579.7" cy="203.8" r="1.1"/><circle cx="644.6" cy="220.1" r="1.1"/><circle cx="571.0" cy="220.8" r="1.1"/><circle cx="557.0" cy="228.7" r="1.1"/><circle cx="555.5" cy="209.1" r="1.1"/><circle cx="584.5" cy="251.2" r="1.1"/><circle cx="598.7" cy="200.2" r="1.1"/><circle cx="570.8" cy="228.2" r="1.1"/><circle cx="595.8" cy="224.0" r="1.1"/><circle cx="620.7" cy="220.4" r="1.1"/><circle cx="622.1" cy="196.4" r="1.1"/><circle cx="559.5" cy="210.9" r="1.1"/><circle cx="556.3" cy="229.7" r="1.1"/><circle cx="569.6" cy="275.8" r="1.1"/><circle cx="566.7" cy="247.7" r="1.1"/><circle cx="594.2" cy="239.0" r="1.1"/><circle cx="601.0" cy="243.2" r="1.1"/><circle cx="564.2" cy="223.7" r="1.1"/><circle cx="559.3" cy="201.1" r="1.1"/><circle cx="562.2" cy="203.5" r="1.1"/><circle cx="572.5" cy="234.8" r="1.1"/><circle cx="638.3" cy="252.9" r="1.1"/><circle cx="547.4" cy="215.2" r="1.1"/><circle cx="644.2" cy="244.7" r="1.1"/><circle cx="656.9" cy="188.8" r="1.1"/><circle cx="560.5" cy="219.8" r="1.1"/><circle cx="621.8" cy="236.6" r="1.1"/><circle cx="549.7" cy="232.1" r="1.1"/><circle cx="618.0" cy="177.1" r="1.1"/><circle cx="559.2" cy="245.2" r="1.1"/><circle cx="592.1" cy="224.4" r="1.1"/><circle cx="552.0" cy="231.2" r="1.1"/><circle cx="591.3" cy="245.2" r="1.1"/><circle cx="609.6" cy="195.3" r="1.1"/><circle cx="564.8" cy="182.1" r="1.1"/><circle cx="628.6" cy="265.7" r="1.1"/><circle cx="556.9" cy="236.3" r="1.1"/><circle cx="568.1" cy="231.1" r="1.1"/><circle cx="580.2" cy="241.6" r="1.1"/><circle cx="603.0" cy="195.2" r="1.1"/><circle cx="578.9" cy="231.1" r="1.1"/><circle cx="555.2" cy="225.5" r="1.1"/><circle cx="572.1" cy="198.4" r="1.1"/><circle cx="564.2" cy="219.7" r="1.1"/><circle cx="561.9" cy="247.3" r="1.1"/><circle cx="550.9" cy="232.7" r="1.1"/><circle cx="662.5" cy="219.6" r="1.1"/><circle cx="648.7" cy="211.6" r="1.1"/><circle cx="609.5" cy="204.4" r="1.1"/><circle cx="652.9" cy="232.3" r="1.1"/><circle cx="578.6" cy="235.6" r="1.1"/><circle cx="559.6" cy="259.8" r="1.1"/><circle cx="574.4" cy="213.0" r="1.1"/><circle cx="571.8" cy="230.7" r="1.1"/><circle cx="596.2" cy="219.5" r="1.1"/><circle cx="629.5" cy="196.3" r="1.1"/><circle cx="567.6" cy="251.4" r="1.1"/><circle cx="613.0" cy="256.0" r="1.1"/><circle cx="569.4" cy="250.3" r="1.1"/><circle cx="645.5" cy="240.4" r="1.1"/><circle cx="633.3" cy="188.4" r="1.1"/><circle cx="602.1" cy="232.8" r="1.1"/><circle cx="651.0" cy="233.3" r="1.1"/><circle cx="623.1" cy="249.6" r="1.1"/><circle cx="550.4" cy="221.6" r="1.1"/><circle cx="561.7" cy="248.8" r="1.1"/><circle cx="569.7" cy="213.7" r="1.1"/><circle cx="636.1" cy="250.6" r="1.1"/><circle cx="561.1" cy="256.9" r="1.1"/><circle cx="584.1" cy="277.8" r="1.1"/><circle cx="558.6" cy="221.0" r="1.1"/><circle cx="592.4" cy="208.3" r="1.1"/><circle cx="602.8" cy="203.4" r="1.1"/><circle cx="618.7" cy="233.9" r="1.1"/><circle cx="584.2" cy="230.1" r="1.1"/><circle cx="560.8" cy="210.9" r="1.1"/><circle cx="567.0" cy="240.2" r="1.1"/><circle cx="572.4" cy="213.9" r="1.1"/><circle cx="564.4" cy="246.3" r="1.1"/><circle cx="571.3" cy="270.7" r="1.1"/><circle cx="554.0" cy="201.9" r="1.1"/><circle cx="570.0" cy="242.1" r="1.1"/><circle cx="552.8" cy="253.2" r="1.1"/><circle cx="655.9" cy="194.8" r="1.1"/><circle cx="625.1" cy="203.7" r="1.1"/><circle cx="628.7" cy="212.8" r="1.1"/><circle cx="615.7" cy="196.9" r="1.1"/><circle cx="558.0" cy="182.7" r="1.1"/><circle cx="642.3" cy="241.1" r="1.1"/><circle cx="589.3" cy="269.5" r="1.1"/><circle cx="566.3" cy="267.0" r="1.1"/><circle cx="627.3" cy="184.8" r="1.1"/><circle cx="591.8" cy="207.9" r="1.1"/><circle cx="575.7" cy="185.9" r="1.1"/><circle cx="570.8" cy="199.1" r="1.1"/><circle cx="610.3" cy="208.3" r="1.1"/><circle cx="569.5" cy="230.8" r="1.1"/><circle cx="554.0" cy="231.7" r="1.1"/><circle cx="627.8" cy="227.3" r="1.1"/><circle cx="561.4" cy="272.8" r="1.1"/><circle cx="618.1" cy="238.4" r="1.1"/><circle cx="572.2" cy="218.8" r="1.1"/><circle cx="564.6" cy="242.2" r="1.1"/><circle cx="574.3" cy="271.6" r="1.1"/><circle cx="562.8" cy="248.3" r="1.1"/><circle cx="624.1" cy="218.3" r="1.1"/><circle cx="629.1" cy="204.5" r="1.1"/><circle cx="618.8" cy="219.0" r="1.1"/><circle cx="580.9" cy="230.8" r="1.1"/><circle cx="590.7" cy="219.0" r="1.1"/><circle cx="552.9" cy="237.7" r="1.1"/><circle cx="640.3" cy="211.7" r="1.1"/><circle cx="576.1" cy="227.2" r="1.1"/><circle cx="559.4" cy="234.9" r="1.1"/><circle cx="562.6" cy="240.5" r="1.1"/><circle cx="555.6" cy="235.1" r="1.1"/><circle cx="579.2" cy="230.6" r="1.1"/><circle cx="548.5" cy="202.5" r="1.1"/><circle cx="567.3" cy="217.2" r="1.1"/><circle cx="633.5" cy="205.1" r="1.1"/><circle cx="657.2" cy="211.8" r="1.1"/><circle cx="603.8" cy="179.3" r="1.1"/><circle cx="557.0" cy="240.8" r="1.1"/><circle cx="546.0" cy="247.8" r="1.1"/><circle cx="598.2" cy="256.8" r="1.1"/><circle cx="570.5" cy="223.2" r="1.1"/><circle cx="600.6" cy="271.4" r="1.1"/><circle cx="553.6" cy="196.2" r="1.1"/><circle cx="547.1" cy="223.4" r="1.1"/><circle cx="579.8" cy="222.6" r="1.1"/><circle cx="587.3" cy="212.7" r="1.1"/><circle cx="548.1" cy="232.8" r="1.1"/><circle cx="560.1" cy="192.0" r="1.1"/><circle cx="625.9" cy="220.6" r="1.1"/><circle cx="560.1" cy="264.1" r="1.1"/><circle cx="546.6" cy="209.0" r="1.1"/><circle cx="640.4" cy="242.4" r="1.1"/><circle cx="628.5" cy="214.1" r="1.1"/><circle cx="609.9" cy="204.0" r="1.1"/><circle cx="550.7" cy="225.5" r="1.1"/><circle cx="602.9" cy="242.0" r="1.1"/><circle cx="614.6" cy="220.6" r="1.1"/><circle cx="570.1" cy="243.3" r="1.1"/><circle cx="590.6" cy="208.6" r="1.1"/><circle cx="573.1" cy="212.1" r="1.1"/><circle cx="556.4" cy="245.4" r="1.1"/><circle cx="600.0" cy="227.5" r="1.1"/><circle cx="559.4" cy="218.1" r="1.1"/><circle cx="582.3" cy="222.2" r="1.1"/><circle cx="547.9" cy="241.5" r="1.1"/><circle cx="603.4" cy="205.7" r="1.1"/><circle cx="548.4" cy="271.8" r="1.1"/><circle cx="549.9" cy="199.4" r="1.1"/><circle cx="601.4" cy="228.7" r="1.1"/><circle cx="596.6" cy="254.2" r="1.1"/><circle cx="588.9" cy="221.0" r="1.1"/><circle cx="573.8" cy="248.3" r="1.1"/><circle cx="598.3" cy="210.7" r="1.1"/><circle cx="648.6" cy="223.8" r="1.1"/><circle cx="551.2" cy="277.7" r="1.1"/><circle cx="556.6" cy="200.8" r="1.1"/><circle cx="564.8" cy="266.3" r="1.1"/><circle cx="562.2" cy="194.5" r="1.1"/><circle cx="612.0" cy="216.1" r="1.1"/><circle cx="588.8" cy="216.0" r="1.1"/><circle cx="578.1" cy="191.3" r="1.1"/><circle cx="586.6" cy="237.8" r="1.1"/><circle cx="611.3" cy="226.3" r="1.1"/><circle cx="629.7" cy="219.9" r="1.1"/><circle cx="606.0" cy="195.5" r="1.1"/><circle cx="552.1" cy="235.4" r="1.1"/><circle cx="547.3" cy="230.1" r="1.1"/><circle cx="585.0" cy="233.4" r="1.1"/><circle cx="631.6" cy="231.4" r="1.1"/><circle cx="547.2" cy="226.6" r="1.1"/><circle cx="623.7" cy="249.0" r="1.1"/><circle cx="546.6" cy="216.7" r="1.1"/><circle cx="594.9" cy="274.1" r="1.1"/><circle cx="574.3" cy="231.2" r="1.1"/><circle cx="586.9" cy="210.1" r="1.1"/><circle cx="611.3" cy="222.4" r="1.1"/><circle cx="672.1" cy="193.5" r="1.1"/><circle cx="578.3" cy="196.3" r="1.1"/><circle cx="593.0" cy="198.6" r="1.1"/><circle cx="553.0" cy="215.4" r="1.1"/><circle cx="563.3" cy="259.8" r="1.1"/><circle cx="574.6" cy="214.1" r="1.1"/><circle cx="604.9" cy="228.0" r="1.1"/><circle cx="597.3" cy="224.9" r="1.1"/><circle cx="642.5" cy="185.1" r="1.1"/><circle cx="625.4" cy="207.1" r="1.1"/><circle cx="557.8" cy="237.7" r="1.1"/><circle cx="557.1" cy="228.5" r="1.1"/><circle cx="554.3" cy="207.0" r="1.1"/><circle cx="570.2" cy="267.1" r="1.1"/><circle cx="589.6" cy="236.9" r="1.1"/><circle cx="588.1" cy="186.7" r="1.1"/><circle cx="569.5" cy="257.0" r="1.1"/><circle cx="555.5" cy="267.1" r="1.1"/><circle cx="616.3" cy="275.6" r="1.1"/><circle cx="559.0" cy="245.5" r="1.1"/><circle cx="565.8" cy="242.1" r="1.1"/><circle cx="556.6" cy="197.2" r="1.1"/><circle cx="549.3" cy="192.4" r="1.1"/><circle cx="585.2" cy="197.5" r="1.1"/><circle cx="650.5" cy="223.8" r="1.1"/><circle cx="657.3" cy="202.5" r="1.1"/><circle cx="601.0" cy="217.4" r="1.1"/><circle cx="558.3" cy="238.9" r="1.1"/><circle cx="571.0" cy="225.9" r="1.1"/><circle cx="638.0" cy="219.4" r="1.1"/><circle cx="579.6" cy="244.8" r="1.1"/><circle cx="554.8" cy="235.4" r="1.1"/><circle cx="593.4" cy="188.5" r="1.1"/><circle cx="554.1" cy="269.4" r="1.1"/><circle cx="581.4" cy="219.2" r="1.1"/><circle cx="556.1" cy="212.9" r="1.1"/><circle cx="623.2" cy="239.1" r="1.1"/><circle cx="571.1" cy="231.9" r="1.1"/><circle cx="588.8" cy="252.1" r="1.1"/><circle cx="568.7" cy="209.6" r="1.1"/><circle cx="556.3" cy="226.4" r="1.1"/><circle cx="555.9" cy="232.4" r="1.1"/><circle cx="590.4" cy="213.4" r="1.1"/><circle cx="600.7" cy="186.4" r="1.1"/><circle cx="606.5" cy="201.7" r="1.1"/><circle cx="584.3" cy="174.2" r="1.1"/><circle cx="595.5" cy="198.2" r="1.1"/><circle cx="571.8" cy="250.3" r="1.1"/><circle cx="558.8" cy="224.1" r="1.1"/><circle cx="551.8" cy="209.0" r="1.1"/><circle cx="548.4" cy="211.7" r="1.1"/><circle cx="574.6" cy="233.7" r="1.1"/><circle cx="604.1" cy="230.1" r="1.1"/><circle cx="572.0" cy="214.0" r="1.1"/><circle cx="633.4" cy="226.4" r="1.1"/><circle cx="550.7" cy="217.9" r="1.1"/><circle cx="578.2" cy="206.1" r="1.1"/><circle cx="623.6" cy="191.8" r="1.1"/><circle cx="557.2" cy="232.5" r="1.1"/><circle cx="565.7" cy="192.1" r="1.1"/><circle cx="557.3" cy="209.2" r="1.1"/><circle cx="559.5" cy="247.2" r="1.1"/><circle cx="551.4" cy="220.6" r="1.1"/><circle cx="552.5" cy="233.1" r="1.1"/><circle cx="560.0" cy="183.8" r="1.1"/><circle cx="593.3" cy="237.7" r="1.1"/><circle cx="595.5" cy="237.4" r="1.1"/><circle cx="638.3" cy="202.2" r="1.1"/><circle cx="643.7" cy="231.6" r="1.1"/><circle cx="549.1" cy="206.8" r="1.1"/><circle cx="549.3" cy="251.0" r="1.1"/><circle cx="616.4" cy="230.0" r="1.1"/><circle cx="650.3" cy="209.8" r="1.1"/><circle cx="585.5" cy="224.1" r="1.1"/><circle cx="587.8" cy="246.9" r="1.1"/><circle cx="580.7" cy="232.0" r="1.1"/><circle cx="549.3" cy="237.4" r="1.1"/><circle cx="556.1" cy="188.4" r="1.1"/><circle cx="650.6" cy="242.1" r="1.1"/><circle cx="571.3" cy="199.3" r="1.1"/><circle cx="615.5" cy="256.5" r="1.1"/><circle cx="602.1" cy="188.6" r="1.1"/><circle cx="585.9" cy="208.4" r="1.1"/><circle cx="582.9" cy="258.3" r="1.1"/><circle cx="601.1" cy="238.3" r="1.1"/><circle cx="561.4" cy="250.1" r="1.1"/><circle cx="560.5" cy="245.1" r="1.1"/><circle cx="599.1" cy="206.9" r="1.1"/><circle cx="555.0" cy="255.0" r="1.1"/><circle cx="557.0" cy="210.4" r="1.1"/><circle cx="608.6" cy="195.7" r="1.1"/><circle cx="552.5" cy="244.0" r="1.1"/><circle cx="580.0" cy="231.3" r="1.1"/><circle cx="556.5" cy="264.0" r="1.1"/><circle cx="645.1" cy="210.7" r="1.1"/><circle cx="608.8" cy="206.0" r="1.1"/><circle cx="593.9" cy="212.6" r="1.1"/><circle cx="556.7" cy="213.2" r="1.1"/><circle cx="549.3" cy="216.2" r="1.1"/><circle cx="661.2" cy="212.0" r="1.1"/><circle cx="591.2" cy="204.8" r="1.1"/><circle cx="591.0" cy="208.6" r="1.1"/><circle cx="546.9" cy="210.4" r="1.1"/><circle cx="587.8" cy="227.2" r="1.1"/><circle cx="546.2" cy="190.1" r="1.1"/><circle cx="562.3" cy="230.7" r="1.1"/><circle cx="607.8" cy="221.8" r="1.1"/><circle cx="554.3" cy="203.3" r="1.1"/><circle cx="633.8" cy="237.5" r="1.1"/><circle cx="640.7" cy="219.5" r="1.1"/><circle cx="548.3" cy="217.5" r="1.1"/><circle cx="559.4" cy="200.8" r="1.1"/><circle cx="643.0" cy="238.4" r="1.1"/><circle cx="550.5" cy="249.3" r="1.1"/><circle cx="594.5" cy="243.8" r="1.1"/><circle cx="565.7" cy="264.6" r="1.1"/><circle cx="585.3" cy="210.7" r="1.1"/><circle cx="611.7" cy="211.9" r="1.1"/><circle cx="575.0" cy="229.1" r="1.1"/><circle cx="546.4" cy="211.8" r="1.1"/><circle cx="602.6" cy="213.2" r="1.1"/><circle cx="567.7" cy="225.8" r="1.1"/><circle cx="598.2" cy="243.4" r="1.1"/><circle cx="592.1" cy="247.0" r="1.1"/><circle cx="550.6" cy="183.3" r="1.1"/><circle cx="649.8" cy="196.4" r="1.1"/><circle cx="552.5" cy="252.5" r="1.1"/><circle cx="565.4" cy="205.8" r="1.1"/><circle cx="595.9" cy="228.8" r="1.1"/><circle cx="637.9" cy="208.7" r="1.1"/><circle cx="590.1" cy="226.4" r="1.1"/><circle cx="592.5" cy="235.0" r="1.1"/><circle cx="593.7" cy="242.9" r="1.1"/><circle cx="613.4" cy="234.6" r="1.1"/><circle cx="555.3" cy="227.5" r="1.1"/><circle cx="553.7" cy="231.9" r="1.1"/><circle cx="631.7" cy="210.9" r="1.1"/><circle cx="562.0" cy="230.1" r="1.1"/><circle cx="561.1" cy="215.7" r="1.1"/><circle cx="598.3" cy="203.0" r="1.1"/><circle cx="628.7" cy="203.2" r="1.1"/><circle cx="614.2" cy="227.5" r="1.1"/><circle cx="614.2" cy="245.4" r="1.1"/><circle cx="570.7" cy="196.1" r="1.1"/><circle cx="631.8" cy="236.8" r="1.1"/><circle cx="557.9" cy="244.5" r="1.1"/><circle cx="555.4" cy="248.1" r="1.1"/><circle cx="558.0" cy="247.3" r="1.1"/><circle cx="553.2" cy="264.1" r="1.1"/><circle cx="548.3" cy="193.7" r="1.1"/><circle cx="578.5" cy="245.0" r="1.1"/><circle cx="562.1" cy="235.7" r="1.1"/><circle cx="566.4" cy="199.2" r="1.1"/><circle cx="561.9" cy="213.9" r="1.1"/><circle cx="621.1" cy="255.7" r="1.1"/><circle cx="554.4" cy="238.4" r="1.1"/><circle cx="557.5" cy="216.9" r="1.1"/><circle cx="562.2" cy="259.5" r="1.1"/><circle cx="613.1" cy="216.1" r="1.1"/><circle cx="564.4" cy="185.3" r="1.1"/><circle cx="553.5" cy="225.6" r="1.1"/><circle cx="551.1" cy="226.2" r="1.1"/><circle cx="555.3" cy="219.7" r="1.1"/><circle cx="564.3" cy="262.2" r="1.1"/><circle cx="632.3" cy="229.5" r="1.1"/><circle cx="565.3" cy="242.7" r="1.1"/><circle cx="652.9" cy="195.4" r="1.1"/><circle cx="577.7" cy="247.3" r="1.1"/><circle cx="565.5" cy="229.8" r="1.1"/><circle cx="642.2" cy="199.4" r="1.1"/><circle cx="577.4" cy="222.8" r="1.1"/><circle cx="551.3" cy="235.1" r="1.1"/><circle cx="643.1" cy="206.2" r="1.1"/><circle cx="574.6" cy="238.0" r="1.1"/><circle cx="604.7" cy="215.4" r="1.1"/><circle cx="633.2" cy="223.5" r="1.1"/><circle cx="590.5" cy="228.0" r="1.1"/><circle cx="550.3" cy="246.2" r="1.1"/><circle cx="549.3" cy="250.1" r="1.1"/><circle cx="602.2" cy="211.4" r="1.1"/><circle cx="552.8" cy="246.3" r="1.1"/><circle cx="592.3" cy="177.8" r="1.1"/><circle cx="567.0" cy="214.0" r="1.1"/><circle cx="553.0" cy="235.3" r="1.1"/><circle cx="558.2" cy="232.2" r="1.1"/><circle cx="597.9" cy="204.2" r="1.1"/><circle cx="593.9" cy="209.7" r="1.1"/><circle cx="609.7" cy="203.5" r="1.1"/><circle cx="557.1" cy="230.7" r="1.1"/><circle cx="638.4" cy="182.6" r="1.1"/><circle cx="550.4" cy="226.6" r="1.1"/><circle cx="556.9" cy="250.7" r="1.1"/><circle cx="574.0" cy="259.8" r="1.1"/><circle cx="639.1" cy="196.7" r="1.1"/><circle cx="546.8" cy="244.6" r="1.1"/><circle cx="558.3" cy="250.5" r="1.1"/><circle cx="548.6" cy="192.1" r="1.1"/><circle cx="559.6" cy="232.5" r="1.1"/><circle cx="567.5" cy="266.9" r="1.1"/><circle cx="649.4" cy="239.1" r="1.1"/><circle cx="614.1" cy="186.3" r="1.1"/><circle cx="551.3" cy="235.9" r="1.1"/><circle cx="636.6" cy="251.5" r="1.1"/><circle cx="624.0" cy="177.5" r="1.1"/><circle cx="567.4" cy="247.2" r="1.1"/><circle cx="589.7" cy="221.9" r="1.1"/><circle cx="575.7" cy="211.6" r="1.1"/><circle cx="559.1" cy="230.3" r="1.1"/><circle cx="636.6" cy="175.8" r="1.1"/><circle cx="585.6" cy="221.2" r="1.1"/><circle cx="554.4" cy="240.5" r="1.1"/><circle cx="621.7" cy="241.6" r="1.1"/><circle cx="549.5" cy="252.3" r="1.1"/><circle cx="586.1" cy="252.5" r="1.1"/><circle cx="574.1" cy="220.3" r="1.1"/><circle cx="585.9" cy="246.8" r="1.1"/><circle cx="625.8" cy="199.4" r="1.1"/><circle cx="572.0" cy="267.7" r="1.1"/><circle cx="583.9" cy="188.8" r="1.1"/><circle cx="630.8" cy="202.9" r="1.1"/><circle cx="566.3" cy="240.9" r="1.1"/><circle cx="576.1" cy="258.6" r="1.1"/><circle cx="551.7" cy="216.2" r="1.1"/><circle cx="610.4" cy="213.1" r="1.1"/><circle cx="573.7" cy="237.5" r="1.1"/><circle cx="548.6" cy="249.4" r="1.1"/><circle cx="574.6" cy="207.5" r="1.1"/><circle cx="584.2" cy="241.9" r="1.1"/><circle cx="641.2" cy="213.7" r="1.1"/><circle cx="551.2" cy="225.5" r="1.1"/><circle cx="593.7" cy="245.5" r="1.1"/><circle cx="618.9" cy="207.8" r="1.1"/><circle cx="550.6" cy="229.5" r="1.1"/><circle cx="555.2" cy="178.9" r="1.1"/><circle cx="614.8" cy="264.2" r="1.1"/><circle cx="557.2" cy="201.2" r="1.1"/><circle cx="586.1" cy="216.8" r="1.1"/><circle cx="547.0" cy="218.4" r="1.1"/><circle cx="581.4" cy="210.2" r="1.1"/><circle cx="583.3" cy="266.4" r="1.1"/><circle cx="595.9" cy="213.0" r="1.1"/><circle cx="549.1" cy="247.2" r="1.1"/><circle cx="553.0" cy="246.8" r="1.1"/><circle cx="571.0" cy="268.4" r="1.1"/><circle cx="549.0" cy="200.1" r="1.1"/><circle cx="607.6" cy="245.6" r="1.1"/><circle cx="553.0" cy="190.0" r="1.1"/><circle cx="610.1" cy="244.7" r="1.1"/><circle cx="580.5" cy="250.6" r="1.1"/><circle cx="560.6" cy="185.4" r="1.1"/><circle cx="548.1" cy="242.5" r="1.1"/><circle cx="570.2" cy="245.4" r="1.1"/><circle cx="611.3" cy="249.9" r="1.1"/><circle cx="586.8" cy="177.4" r="1.1"/><circle cx="632.4" cy="207.5" r="1.1"/><circle cx="555.9" cy="257.8" r="1.1"/><circle cx="608.3" cy="227.7" r="1.1"/><circle cx="637.3" cy="232.8" r="1.1"/><circle cx="547.9" cy="267.7" r="1.1"/><circle cx="569.3" cy="207.2" r="1.1"/><circle cx="571.2" cy="217.9" r="1.1"/><circle cx="580.0" cy="205.2" r="1.1"/><circle cx="548.2" cy="216.6" r="1.1"/><circle cx="612.2" cy="193.2" r="1.1"/><circle cx="636.9" cy="216.5" r="1.1"/><circle cx="635.9" cy="250.0" r="1.1"/><circle cx="565.0" cy="208.3" r="1.1"/><circle cx="549.7" cy="241.7" r="1.1"/><circle cx="610.2" cy="229.8" r="1.1"/><circle cx="548.7" cy="260.4" r="1.1"/><circle cx="557.0" cy="240.0" r="1.1"/><circle cx="634.4" cy="257.6" r="1.1"/><circle cx="552.7" cy="233.1" r="1.1"/><circle cx="575.7" cy="206.9" r="1.1"/><circle cx="598.0" cy="204.5" r="1.1"/><circle cx="589.6" cy="241.3" r="1.1"/><circle cx="558.6" cy="205.0" r="1.1"/><circle cx="553.9" cy="244.0" r="1.1"/><circle cx="575.6" cy="220.9" r="1.1"/><circle cx="642.8" cy="195.7" r="1.1"/><circle cx="627.5" cy="195.6" r="1.1"/><circle cx="587.8" cy="251.6" r="1.1"/><circle cx="597.1" cy="215.0" r="1.1"/><circle cx="580.7" cy="269.5" r="1.1"/><circle cx="559.8" cy="210.2" r="1.1"/><circle cx="593.0" cy="216.6" r="1.1"/><circle cx="555.0" cy="273.0" r="1.1"/><circle cx="546.5" cy="234.9" r="1.1"/><circle cx="626.4" cy="189.7" r="1.1"/><circle cx="576.2" cy="223.6" r="1.1"/><circle cx="563.3" cy="220.9" r="1.1"/><circle cx="601.8" cy="215.8" r="1.1"/><circle cx="570.2" cy="206.3" r="1.1"/><circle cx="616.6" cy="204.2" r="1.1"/><circle cx="557.1" cy="257.8" r="1.1"/><circle cx="593.1" cy="232.4" r="1.1"/><circle cx="552.0" cy="244.3" r="1.1"/><circle cx="559.0" cy="253.4" r="1.1"/><circle cx="559.0" cy="236.1" r="1.1"/><circle cx="560.0" cy="248.5" r="1.1"/><circle cx="558.8" cy="224.0" r="1.1"/><circle cx="640.7" cy="196.3" r="1.1"/><circle cx="615.6" cy="246.8" r="1.1"/><circle cx="564.1" cy="245.3" r="1.1"/><circle cx="547.5" cy="248.3" r="1.1"/><circle cx="548.4" cy="231.1" r="1.1"/><circle cx="556.8" cy="244.7" r="1.1"/><circle cx="609.9" cy="179.9" r="1.1"/><circle cx="662.7" cy="230.2" r="1.1"/><circle cx="584.3" cy="196.9" r="1.1"/><circle cx="621.6" cy="223.9" r="1.1"/><circle cx="549.1" cy="203.7" r="1.1"/><circle cx="611.4" cy="235.9" r="1.1"/><circle cx="634.4" cy="248.3" r="1.1"/><circle cx="643.5" cy="232.2" r="1.1"/><circle cx="554.2" cy="226.1" r="1.1"/><circle cx="557.0" cy="207.3" r="1.1"/><circle cx="591.8" cy="213.0" r="1.1"/><circle cx="622.0" cy="184.3" r="1.1"/><circle cx="591.3" cy="228.6" r="1.1"/><circle cx="577.0" cy="210.1" r="1.1"/><circle cx="568.4" cy="225.0" r="1.1"/><circle cx="552.6" cy="248.0" r="1.1"/><circle cx="603.8" cy="202.6" r="1.1"/><circle cx="616.2" cy="194.8" r="1.1"/><circle cx="598.5" cy="234.5" r="1.1"/><circle cx="590.2" cy="187.2" r="1.1"/><circle cx="582.6" cy="229.0" r="1.1"/><circle cx="638.6" cy="202.6" r="1.1"/><circle cx="594.5" cy="245.1" r="1.1"/><circle cx="642.7" cy="194.8" r="1.1"/><circle cx="558.6" cy="225.0" r="1.1"/><circle cx="605.6" cy="180.2" r="1.1"/><circle cx="588.4" cy="215.4" r="1.1"/><circle cx="554.8" cy="214.0" r="1.1"/><circle cx="665.2" cy="223.8" r="1.1"/><circle cx="565.9" cy="236.2" r="1.1"/><circle cx="566.3" cy="234.4" r="1.1"/><circle cx="551.9" cy="228.6" r="1.1"/><circle cx="596.2" cy="246.1" r="1.1"/><circle cx="588.3" cy="183.0" r="1.1"/><circle cx="596.3" cy="227.3" r="1.1"/><circle cx="556.8" cy="215.8" r="1.1"/><circle cx="547.3" cy="230.9" r="1.1"/><circle cx="611.4" cy="226.9" r="1.1"/><circle cx="621.1" cy="208.5" r="1.1"/><circle cx="594.6" cy="233.8" r="1.1"/><circle cx="555.8" cy="227.7" r="1.1"/><circle cx="561.7" cy="255.2" r="1.1"/><circle cx="560.0" cy="230.6" r="1.1"/><circle cx="575.7" cy="206.9" r="1.1"/><circle cx="577.4" cy="214.8" r="1.1"/><circle cx="589.0" cy="248.4" r="1.1"/><circle cx="573.0" cy="217.2" r="1.1"/><circle cx="554.4" cy="265.4" r="1.1"/><circle cx="593.7" cy="221.1" r="1.1"/><circle cx="575.7" cy="219.2" r="1.1"/><circle cx="594.6" cy="208.2" r="1.1"/><circle cx="562.2" cy="250.9" r="1.1"/><circle cx="572.3" cy="238.4" r="1.1"/><circle cx="547.5" cy="264.4" r="1.1"/><circle cx="549.5" cy="274.3" r="1.1"/><circle cx="564.2" cy="245.3" r="1.1"/><circle cx="592.0" cy="190.4" r="1.1"/><circle cx="646.4" cy="206.8" r="1.1"/><circle cx="601.2" cy="257.3" r="1.1"/><circle cx="598.3" cy="192.5" r="1.1"/><circle cx="549.4" cy="220.1" r="1.1"/><circle cx="605.0" cy="221.0" r="1.1"/><circle cx="551.8" cy="267.4" r="1.1"/><circle cx="586.5" cy="205.1" r="1.1"/><circle cx="562.7" cy="217.0" r="1.1"/><circle cx="570.0" cy="237.0" r="1.1"/><circle cx="601.6" cy="241.9" r="1.1"/><circle cx="633.5" cy="201.0" r="1.1"/><circle cx="564.5" cy="261.1" r="1.1"/><circle cx="610.2" cy="249.5" r="1.1"/><circle cx="571.3" cy="227.1" r="1.1"/><circle cx="563.0" cy="249.6" r="1.1"/><circle cx="614.9" cy="185.4" r="1.1"/><circle cx="549.7" cy="215.1" r="1.1"/><circle cx="589.6" cy="249.2" r="1.1"/><circle cx="645.2" cy="224.7" r="1.1"/><circle cx="582.7" cy="204.9" r="1.1"/><circle cx="572.6" cy="261.3" r="1.1"/><circle cx="577.8" cy="266.7" r="1.1"/><circle cx="591.2" cy="242.5" r="1.1"/><circle cx="592.3" cy="205.5" r="1.1"/><circle cx="546.5" cy="240.8" r="1.1"/><circle cx="553.3" cy="257.2" r="1.1"/><circle cx="560.1" cy="267.3" r="1.1"/><circle cx="571.5" cy="226.5" r="1.1"/><circle cx="550.5" cy="225.9" r="1.1"/><circle cx="621.1" cy="253.1" r="1.1"/><circle cx="557.5" cy="275.1" r="1.1"/><circle cx="637.8" cy="209.7" r="1.1"/><circle cx="577.5" cy="247.6" r="1.1"/><circle cx="558.5" cy="239.7" r="1.1"/><circle cx="557.5" cy="207.2" r="1.1"/><circle cx="581.8" cy="237.9" r="1.1"/><circle cx="613.7" cy="226.3" r="1.1"/><circle cx="609.7" cy="258.3" r="1.1"/><circle cx="556.5" cy="236.6" r="1.1"/><circle cx="555.3" cy="232.4" r="1.1"/><circle cx="552.5" cy="203.4" r="1.1"/><circle cx="564.3" cy="246.7" r="1.1"/><circle cx="561.5" cy="215.1" r="1.1"/><circle cx="552.4" cy="207.5" r="1.1"/><circle cx="582.2" cy="222.9" r="1.1"/><circle cx="618.6" cy="214.7" r="1.1"/><circle cx="578.8" cy="190.9" r="1.1"/><circle cx="552.8" cy="244.4" r="1.1"/><circle cx="605.9" cy="218.9" r="1.1"/><circle cx="562.5" cy="225.0" r="1.1"/><circle cx="566.8" cy="209.1" r="1.1"/><circle cx="560.5" cy="224.6" r="1.1"/><circle cx="583.1" cy="264.0" r="1.1"/><circle cx="563.3" cy="248.5" r="1.1"/><circle cx="626.7" cy="264.3" r="1.1"/><circle cx="560.0" cy="238.4" r="1.1"/><circle cx="628.6" cy="197.6" r="1.1"/><circle cx="612.9" cy="235.4" r="1.1"/><circle cx="552.7" cy="216.2" r="1.1"/><circle cx="616.0" cy="226.0" r="1.1"/><circle cx="607.9" cy="235.9" r="1.1"/><circle cx="550.1" cy="201.4" r="1.1"/><circle cx="598.6" cy="191.6" r="1.1"/><circle cx="558.1" cy="198.7" r="1.1"/><circle cx="589.0" cy="203.9" r="1.1"/><circle cx="572.8" cy="244.4" r="1.1"/><circle cx="552.5" cy="233.8" r="1.1"/><circle cx="549.2" cy="228.7" r="1.1"/><circle cx="580.5" cy="244.6" r="1.1"/><circle cx="551.7" cy="255.4" r="1.1"/><circle cx="572.5" cy="275.2" r="1.1"/><circle cx="582.8" cy="204.0" r="1.1"/><circle cx="625.2" cy="262.8" r="1.1"/><circle cx="623.4" cy="204.2" r="1.1"/><circle cx="606.6" cy="229.7" r="1.1"/><circle cx="616.4" cy="222.6" r="1.1"/><circle cx="548.7" cy="254.4" r="1.1"/><circle cx="606.4" cy="248.6" r="1.1"/><circle cx="611.8" cy="239.9" r="1.1"/><circle cx="615.6" cy="252.3" r="1.1"/><circle cx="569.0" cy="247.9" r="1.1"/><circle cx="556.8" cy="218.3" r="1.1"/><circle cx="640.0" cy="225.3" r="1.1"/><circle cx="566.9" cy="238.8" r="1.1"/><circle cx="639.2" cy="229.6" r="1.1"/><circle cx="547.5" cy="244.4" r="1.1"/><circle cx="591.4" cy="186.5" r="1.1"/><circle cx="582.7" cy="223.9" r="1.1"/><circle cx="583.8" cy="254.5" r="1.1"/><circle cx="605.6" cy="272.6" r="1.1"/><circle cx="577.5" cy="249.8" r="1.1"/><circle cx="595.9" cy="207.2" r="1.1"/><circle cx="605.5" cy="251.0" r="1.1"/><circle cx="653.2" cy="203.8" r="1.1"/><circle cx="605.3" cy="243.5" r="1.1"/><circle cx="549.0" cy="252.3" r="1.1"/><circle cx="610.3" cy="237.2" r="1.1"/><circle cx="559.5" cy="269.9" r="1.1"/><circle cx="600.4" cy="241.3" r="1.1"/><circle cx="605.1" cy="216.1" r="1.1"/><circle cx="612.7" cy="232.3" r="1.1"/><circle cx="567.7" cy="192.7" r="1.1"/><circle cx="550.9" cy="267.5" r="1.1"/><circle cx="582.3" cy="240.3" r="1.1"/><circle cx="554.4" cy="220.3" r="1.1"/><circle cx="644.7" cy="204.8" r="1.1"/><circle cx="578.1" cy="198.4" r="1.1"/><circle cx="596.6" cy="247.6" r="1.1"/><circle cx="578.5" cy="208.9" r="1.1"/><circle cx="559.9" cy="212.4" r="1.1"/><circle cx="647.5" cy="269.6" r="1.1"/><circle cx="550.1" cy="254.3" r="1.1"/><circle cx="629.8" cy="204.6" r="1.1"/><circle cx="566.9" cy="218.4" r="1.1"/><circle cx="561.6" cy="233.6" r="1.1"/><circle cx="596.7" cy="263.4" r="1.1"/><circle cx="595.1" cy="244.4" r="1.1"/><circle cx="651.1" cy="220.0" r="1.1"/><circle cx="591.6" cy="234.2" r="1.1"/><circle cx="548.1" cy="199.8" r="1.1"/><circle cx="560.6" cy="239.2" r="1.1"/><circle cx="561.3" cy="222.1" r="1.1"/><circle cx="617.8" cy="193.8" r="1.1"/><circle cx="554.8" cy="246.8" r="1.1"/><circle cx="562.7" cy="192.8" r="1.1"/><circle cx="633.4" cy="225.3" r="1.1"/><circle cx="654.6" cy="192.0" r="1.1"/><circle cx="554.3" cy="227.4" r="1.1"/><circle cx="589.9" cy="252.6" r="1.1"/><circle cx="574.1" cy="238.9" r="1.1"/><circle cx="613.0" cy="213.9" r="1.1"/><circle cx="576.1" cy="218.8" r="1.1"/><circle cx="548.5" cy="227.1" r="1.1"/><circle cx="638.2" cy="192.1" r="1.1"/><circle cx="619.8" cy="189.7" r="1.1"/><circle cx="592.8" cy="231.5" r="1.1"/><circle cx="617.8" cy="210.1" r="1.1"/><circle cx="551.9" cy="226.6" r="1.1"/><circle cx="575.8" cy="259.8" r="1.1"/><circle cx="547.8" cy="251.0" r="1.1"/><circle cx="560.9" cy="234.1" r="1.1"/><circle cx="568.9" cy="227.8" r="1.1"/><circle cx="629.5" cy="262.4" r="1.1"/><circle cx="570.1" cy="241.9" r="1.1"/><circle cx="598.3" cy="188.3" r="1.1"/><circle cx="547.1" cy="230.9" r="1.1"/><circle cx="570.2" cy="234.1" r="1.1"/><circle cx="618.0" cy="219.7" r="1.1"/><circle cx="574.1" cy="186.4" r="1.1"/><circle cx="577.5" cy="195.6" r="1.1"/><circle cx="586.5" cy="180.2" r="1.1"/><circle cx="557.8" cy="252.0" r="1.1"/><circle cx="568.6" cy="234.9" r="1.1"/><circle cx="554.6" cy="251.8" r="1.1"/><circle cx="559.8" cy="258.8" r="1.1"/><circle cx="629.2" cy="229.4" r="1.1"/><circle cx="565.1" cy="212.3" r="1.1"/><circle cx="590.6" cy="187.8" r="1.1"/><circle cx="577.1" cy="279.4" r="1.1"/><circle cx="565.4" cy="246.3" r="1.1"/><circle cx="550.7" cy="200.1" r="1.1"/><circle cx="602.6" cy="234.0" r="1.1"/><circle cx="583.2" cy="272.3" r="1.1"/><circle cx="553.7" cy="263.3" r="1.1"/><circle cx="605.8" cy="267.2" r="1.1"/><circle cx="603.4" cy="222.5" r="1.1"/><circle cx="601.2" cy="220.2" r="1.1"/><circle cx="552.4" cy="220.5" r="1.1"/><circle cx="565.5" cy="211.7" r="1.1"/><circle cx="560.7" cy="178.5" r="1.1"/><circle cx="619.4" cy="207.4" r="1.1"/><circle cx="572.0" cy="243.0" r="1.1"/><circle cx="569.2" cy="239.6" r="1.1"/><circle cx="641.4" cy="239.4" r="1.1"/><circle cx="558.8" cy="247.5" r="1.1"/><circle cx="555.0" cy="214.1" r="1.1"/><circle cx="630.8" cy="223.9" r="1.1"/><circle cx="582.8" cy="242.3" r="1.1"/><circle cx="566.7" cy="205.0" r="1.1"/><circle cx="640.0" cy="216.7" r="1.1"/><circle cx="570.0" cy="208.2" r="1.1"/><circle cx="565.9" cy="235.1" r="1.1"/><circle cx="582.9" cy="212.8" r="1.1"/><circle cx="562.5" cy="196.7" r="1.1"/><circle cx="629.4" cy="250.7" r="1.1"/><circle cx="563.2" cy="246.4" r="1.1"/><circle cx="582.2" cy="266.7" r="1.1"/><circle cx="567.1" cy="239.5" r="1.1"/><circle cx="625.1" cy="227.8" r="1.1"/><circle cx="572.3" cy="240.6" r="1.1"/><circle cx="588.6" cy="222.0" r="1.1"/><circle cx="576.2" cy="214.7" r="1.1"/><circle cx="559.5" cy="239.2" r="1.1"/><circle cx="635.1" cy="205.0" r="1.1"/><circle cx="588.0" cy="230.2" r="1.1"/><circle cx="556.1" cy="243.8" r="1.1"/><circle cx="604.1" cy="206.9" r="1.1"/><circle cx="623.5" cy="240.3" r="1.1"/><circle cx="624.7" cy="196.0" r="1.1"/><circle cx="548.1" cy="214.2" r="1.1"/><circle cx="602.5" cy="181.5" r="1.1"/><circle cx="558.0" cy="260.4" r="1.1"/><circle cx="636.6" cy="242.8" r="1.1"/><circle cx="558.9" cy="231.5" r="1.1"/><circle cx="584.5" cy="207.6" r="1.1"/><circle cx="642.9" cy="222.9" r="1.1"/><circle cx="552.7" cy="203.6" r="1.1"/><circle cx="627.6" cy="240.2" r="1.1"/><circle cx="589.9" cy="222.4" r="1.1"/><circle cx="546.2" cy="189.4" r="1.1"/><circle cx="657.9" cy="191.9" r="1.1"/><circle cx="547.6" cy="277.3" r="1.1"/><circle cx="557.1" cy="232.5" r="1.1"/><circle cx="583.7" cy="177.0" r="1.1"/><circle cx="597.9" cy="251.9" r="1.1"/><circle cx="561.8" cy="237.2" r="1.1"/><circle cx="601.1" cy="236.1" r="1.1"/><circle cx="547.1" cy="259.4" r="1.1"/><circle cx="574.5" cy="252.3" r="1.1"/><circle cx="572.7" cy="176.3" r="1.1"/><circle cx="572.2" cy="205.2" r="1.1"/><circle cx="560.2" cy="237.5" r="1.1"/><circle cx="555.7" cy="214.4" r="1.1"/><circle cx="548.6" cy="225.3" r="1.1"/><circle cx="633.8" cy="227.8" r="1.1"/><circle cx="594.6" cy="252.8" r="1.1"/><circle cx="576.7" cy="227.5" r="1.1"/><circle cx="577.2" cy="176.1" r="1.1"/><circle cx="618.3" cy="199.4" r="1.1"/><circle cx="611.0" cy="208.0" r="1.1"/><circle cx="571.8" cy="212.4" r="1.1"/><circle cx="610.4" cy="233.1" r="1.1"/><circle cx="599.2" cy="219.5" r="1.1"/><circle cx="562.6" cy="197.5" r="1.1"/><circle cx="599.5" cy="216.3" r="1.1"/><circle cx="551.6" cy="228.0" r="1.1"/><circle cx="596.8" cy="180.9" r="1.1"/><circle cx="616.1" cy="235.9" r="1.1"/><circle cx="651.5" cy="253.4" r="1.1"/><circle cx="589.3" cy="204.6" r="1.1"/><circle cx="550.0" cy="208.4" r="1.1"/><circle cx="548.0" cy="244.7" r="1.1"/><circle cx="598.2" cy="194.5" r="1.1"/><circle cx="565.8" cy="217.5" r="1.1"/><circle cx="568.2" cy="242.5" r="1.1"/><circle cx="599.9" cy="229.0" r="1.1"/><circle cx="614.1" cy="209.8" r="1.1"/><circle cx="554.5" cy="237.4" r="1.1"/><circle cx="645.6" cy="250.1" r="1.1"/><circle cx="554.4" cy="185.5" r="1.1"/><circle cx="552.3" cy="204.2" r="1.1"/><circle cx="634.9" cy="214.7" r="1.1"/><circle cx="561.8" cy="227.5" r="1.1"/><circle cx="621.7" cy="231.9" r="1.1"/><circle cx="612.5" cy="183.0" r="1.1"/><circle cx="612.7" cy="228.2" r="1.1"/><circle cx="550.2" cy="226.0" r="1.1"/><circle cx="561.4" cy="214.1" r="1.1"/><circle cx="591.3" cy="225.7" r="1.1"/><circle cx="549.8" cy="229.8" r="1.1"/><circle cx="571.1" cy="199.2" r="1.1"/><circle cx="581.5" cy="212.5" r="1.1"/><circle cx="578.5" cy="255.7" r="1.1"/><circle cx="554.2" cy="229.6" r="1.1"/><circle cx="563.4" cy="224.8" r="1.1"/><circle cx="587.5" cy="258.9" r="1.1"/><circle cx="632.0" cy="211.3" r="1.1"/><circle cx="549.8" cy="197.5" r="1.1"/><circle cx="610.2" cy="212.9" r="1.1"/><circle cx="632.0" cy="235.8" r="1.1"/><circle cx="560.6" cy="224.0" r="1.1"/><circle cx="616.7" cy="244.0" r="1.1"/><circle cx="626.9" cy="217.0" r="1.1"/><circle cx="549.1" cy="241.1" r="1.1"/><circle cx="571.1" cy="239.1" r="1.1"/><circle cx="552.1" cy="263.1" r="1.1"/><circle cx="622.3" cy="198.6" r="1.1"/><circle cx="552.6" cy="214.2" r="1.1"/><circle cx="574.9" cy="190.7" r="1.1"/><circle cx="593.7" cy="267.5" r="1.1"/><circle cx="562.9" cy="203.8" r="1.1"/><circle cx="552.2" cy="248.0" r="1.1"/><circle cx="551.5" cy="269.9" r="1.1"/><circle cx="590.9" cy="180.2" r="1.1"/><circle cx="623.2" cy="233.1" r="1.1"/><circle cx="597.7" cy="209.7" r="1.1"/><circle cx="548.2" cy="188.7" r="1.1"/><circle cx="562.6" cy="244.0" r="1.1"/><circle cx="592.8" cy="233.8" r="1.1"/><circle cx="590.3" cy="212.9" r="1.1"/><circle cx="589.0" cy="222.0" r="1.1"/><circle cx="597.8" cy="204.6" r="1.1"/><circle cx="626.1" cy="201.5" r="1.1"/><circle cx="598.9" cy="198.8" r="1.1"/><circle cx="599.0" cy="246.0" r="1.1"/><circle cx="636.3" cy="246.0" r="1.1"/><circle cx="593.8" cy="210.7" r="1.1"/><circle cx="562.6" cy="211.9" r="1.1"/><circle cx="631.4" cy="227.2" r="1.1"/><circle cx="552.4" cy="211.9" r="1.1"/><circle cx="611.7" cy="200.5" r="1.1"/><circle cx="599.6" cy="241.2" r="1.1"/><circle cx="593.6" cy="214.0" r="1.1"/><circle cx="662.5" cy="179.4" r="1.1"/><circle cx="573.1" cy="197.5" r="1.1"/><circle cx="605.0" cy="249.1" r="1.1"/><circle cx="560.4" cy="208.1" r="1.1"/><circle cx="552.7" cy="195.7" r="1.1"/><circle cx="557.3" cy="273.5" r="1.1"/><circle cx="566.6" cy="253.9" r="1.1"/><circle cx="561.3" cy="237.3" r="1.1"/><circle cx="651.8" cy="221.9" r="1.1"/><circle cx="599.0" cy="209.3" r="1.1"/><circle cx="626.8" cy="219.0" r="1.1"/><circle cx="583.5" cy="262.6" r="1.1"/><circle cx="618.3" cy="255.0" r="1.1"/><circle cx="552.0" cy="228.2" r="1.1"/><circle cx="571.9" cy="216.5" r="1.1"/><circle cx="604.1" cy="215.0" r="1.1"/><circle cx="557.9" cy="226.2" r="1.1"/><circle cx="557.0" cy="237.7" r="1.1"/><circle cx="611.6" cy="260.3" r="1.1"/><circle cx="618.4" cy="229.7" r="1.1"/><circle cx="546.8" cy="277.6" r="1.1"/><circle cx="608.3" cy="242.2" r="1.1"/><circle cx="575.3" cy="223.1" r="1.1"/><circle cx="618.6" cy="238.0" r="1.1"/><circle cx="564.6" cy="259.6" r="1.1"/><circle cx="629.2" cy="248.9" r="1.1"/><circle cx="620.5" cy="196.8" r="1.1"/><circle cx="585.3" cy="226.5" r="1.1"/>
</g>
<path d="M544.3,230.4 L608,220.5 L672.5,205.5 L672.5,214.9 L608,222.3 L544.3,234.8 Z" fill="#8c8c8c" opacity="0.7"/>
<line x1="544.3" y1="232.6" x2="672.5" y2="210.2" stroke="#6a1c28" stroke-width="0.9"/>
<text x="675" y="284" font-size="10" font-style="italic" text-anchor="end">R = 0.21, p &lt; 0.0001</text>
<g font-size="10.3" font-weight="bold">
<line x1="534.7" y1="179.30" x2="537.2" y2="179.30" stroke="#333" stroke-width="0.6"/>
<text x="533.9" y="182.30" text-anchor="end">0.8</text>
<line x1="534.7" y1="210.53" x2="537.2" y2="210.53" stroke="#333" stroke-width="0.6"/>
<text x="533.9" y="213.53" text-anchor="end">0.6</text>
<line x1="534.7" y1="241.76" x2="537.2" y2="241.76" stroke="#333" stroke-width="0.6"/>
<text x="533.9" y="244.76" text-anchor="end">0.4</text>
<line x1="534.7" y1="272.99" x2="537.2" y2="272.99" stroke="#333" stroke-width="0.6"/>
<text x="533.9" y="275.99" text-anchor="end">0.2</text>
<line x1="547.30" y1="289.1" x2="547.30" y2="291.5" stroke="#333" stroke-width="0.6"/>
<text x="547.30" y="300.8" text-anchor="middle">0.00</text>
<line x1="580.15" y1="289.1" x2="580.15" y2="291.5" stroke="#333" stroke-width="0.6"/>
<text x="580.15" y="300.8" text-anchor="middle">0.01</text>
<line x1="613.00" y1="289.1" x2="613.00" y2="291.5" stroke="#333" stroke-width="0.6"/>
<text x="613.00" y="300.8" text-anchor="middle">0.02</text>
<line x1="645.85" y1="289.1" x2="645.85" y2="291.5" stroke="#333" stroke-width="0.6"/>
<text x="645.85" y="300.8" text-anchor="middle">0.03</text>
<line x1="678.70" y1="289.1" x2="678.70" y2="291.5" stroke="#333" stroke-width="0.6"/>
<text x="678.70" y="300.8" text-anchor="middle">0.04</text>
<text x="609.7" y="311.6" text-anchor="middle" font-size="10.3">Difference in AP (mg/kg)</text>
<text transform="translate(512.4,230.6) rotate(-90)" text-anchor="middle" font-size="10.3">Bray−Curtis Dissimilarity</text>
</g>
<g stroke="#c8d2d6" stroke-width="0.8" fill="none">
<line x1="43.37" y1="566.03" x2="269.63" y2="566.03"/>
<line x1="55.94" y1="587.80" x2="169.07" y2="391.87"/>
<line x1="257.06" y1="587.80" x2="143.93" y2="391.87"/>
<line x1="55.94" y1="544.26" x2="257.06" y2="544.26"/>
<line x1="81.08" y1="587.80" x2="181.64" y2="413.64"/>
<line x1="231.92" y1="587.80" x2="131.36" y2="413.64"/>
<line x1="68.51" y1="522.49" x2="244.49" y2="522.49"/>
<line x1="106.22" y1="587.80" x2="194.21" y2="435.41"/>
<line x1="206.78" y1="587.80" x2="118.79" y2="435.41"/>
<line x1="81.08" y1="500.72" x2="231.92" y2="500.72"/>
<line x1="131.36" y1="587.80" x2="206.78" y2="457.18"/>
<line x1="181.64" y1="587.80" x2="106.22" y2="457.18"/>
<line x1="93.65" y1="478.95" x2="219.35" y2="478.95"/>
<line x1="156.50" y1="587.80" x2="219.35" y2="478.95"/>
<line x1="156.50" y1="587.80" x2="93.65" y2="478.95"/>
<line x1="106.22" y1="457.18" x2="206.78" y2="457.18"/>
<line x1="181.64" y1="587.80" x2="231.92" y2="500.72"/>
<line x1="131.36" y1="587.80" x2="81.08" y2="500.72"/>
<line x1="118.79" y1="435.41" x2="194.21" y2="435.41"/>
<line x1="206.78" y1="587.80" x2="244.49" y2="522.49"/>
<line x1="106.22" y1="587.80" x2="68.51" y2="522.49"/>
<line x1="131.36" y1="413.64" x2="181.64" y2="413.64"/>
<line x1="231.92" y1="587.80" x2="257.06" y2="544.26"/>
<line x1="81.08" y1="587.80" x2="55.94" y2="544.26"/>
<line x1="143.93" y1="391.87" x2="169.07" y2="391.87"/>
<line x1="257.06" y1="587.80" x2="269.63" y2="566.03"/>
<line x1="55.94" y1="587.80" x2="43.37" y2="566.03"/>
</g>
<g fill="#9aa6aa">
<circle cx="185.5" cy="474.7" r="1.5"/><circle cx="175.5" cy="466.4" r="1.2"/><circle cx="190.0" cy="473.0" r="1.2"/><circle cx="151.7" cy="491.2" r="1.3"/><circle cx="121.0" cy="484.6" r="1"/><circle cx="91.2" cy="504.5" r="1"/><circle cx="106.0" cy="527.6" r="1.3"/><circle cx="127.6" cy="540.8" r="1.5"/><circle cx="94.5" cy="549.0" r="1"/><circle cx="102.8" cy="555.7" r="1.2"/><circle cx="66.4" cy="573.9" r="1.2"/><circle cx="203.6" cy="504.5" r="1.6"/><circle cx="213.6" cy="492.9" r="1"/><circle cx="231.7" cy="521.0" r="1"/><circle cx="233.4" cy="527.6" r="1"/><circle cx="246.6" cy="539.2" r="1"/><circle cx="198.7" cy="535.9" r="1.6"/><circle cx="189.0" cy="542.0" r="1.2"/><circle cx="149.0" cy="539.2" r="1.5"/><circle cx="154.0" cy="542.5" r="1.2"/><circle cx="132.6" cy="555.7" r="1.2"/><circle cx="119.0" cy="555.7" r="1"/><circle cx="167.0" cy="557.0" r="1"/><circle cx="156.0" cy="530.0" r="1.8"/><circle cx="152.0" cy="533.0" r="1.5"/><circle cx="148.0" cy="535.0" r="1.3"/><circle cx="158.0" cy="536.0" r="1.4"/><circle cx="199.0" cy="522.0" r="1.3"/><circle cx="195.0" cy="520.0" r="1.2"/><circle cx="186.0" cy="495.0" r="1.2"/><circle cx="175.0" cy="497.0" r="1.5"/><circle cx="168.0" cy="500.0" r="1.3"/><circle cx="160.0" cy="492.0" r="1.2"/><circle cx="180.0" cy="510.0" r="1.4"/><circle cx="186.0" cy="510.0" r="1.4"/><circle cx="140.0" cy="520.0" r="1.2"/><circle cx="143.0" cy="525.0" r="1"/><circle cx="125.0" cy="530.0" r="1.2"/><circle cx="111.0" cy="537.0" r="1.3"/><circle cx="99.0" cy="540.0" r="1.2"/><circle cx="84.0" cy="551.0" r="1"/><circle cx="115.0" cy="566.0" r="1"/><circle cx="141.0" cy="563.0" r="1"/><circle cx="176.0" cy="552.0" r="1.1"/><circle cx="183.0" cy="560.0" r="1.1"/><circle cx="162.0" cy="547.0" r="1.2"/><circle cx="139.0" cy="544.0" r="1.2"/><circle cx="200.0" cy="497.0" r="1"/><circle cx="210.0" cy="509.0" r="1.1"/><circle cx="219.0" cy="517.0" r="1.3"/><circle cx="171.0" cy="479.0" r="1"/><circle cx="205.0" cy="482.0" r="1"/><circle cx="165.0" cy="487.0" r="1"/><circle cx="178.0" cy="488.0" r="1.1"/><circle cx="137.4" cy="499.0" r="1.2"/><circle cx="196.6" cy="526.1" r="0.8"/><circle cx="134.8" cy="487.4" r="0.7"/><circle cx="131.7" cy="551.1" r="1.0"/><circle cx="135.3" cy="514.9" r="0.7"/><circle cx="164.9" cy="501.7" r="0.8"/><circle cx="206.3" cy="504.9" r="0.8"/><circle cx="168.8" cy="514.3" r="1.2"/><circle cx="158.0" cy="515.0" r="0.7"/><circle cx="170.6" cy="521.6" r="0.8"/><circle cx="183.2" cy="519.0" r="0.8"/><circle cx="151.8" cy="571.5" r="1.2"/><circle cx="194.0" cy="502.3" r="0.8"/><circle cx="205.1" cy="510.9" r="1.0"/><circle cx="160.6" cy="540.1" r="0.8"/><circle cx="186.7" cy="515.9" r="0.9"/><circle cx="156.8" cy="547.8" r="0.7"/><circle cx="134.4" cy="504.2" r="0.7"/><circle cx="150.3" cy="556.4" r="1.0"/><circle cx="162.5" cy="509.9" r="1.0"/><circle cx="165.5" cy="515.4" r="0.7"/><circle cx="191.2" cy="516.1" r="1.0"/><circle cx="213.5" cy="526.0" r="0.9"/><circle cx="132.4" cy="548.9" r="1.0"/><circle cx="183.7" cy="525.7" r="0.8"/><circle cx="182.3" cy="532.2" r="1.0"/><circle cx="154.4" cy="537.5" r="1.2"/><circle cx="167.8" cy="544.3" r="1.2"/><circle cx="167.5" cy="486.3" r="0.9"/><circle cx="229.1" cy="533.0" r="0.7"/><circle cx="176.0" cy="545.2" r="0.9"/><circle cx="188.6" cy="513.0" r="1.2"/><circle cx="201.1" cy="538.6" r="0.9"/><circle cx="172.6" cy="529.2" r="0.8"/><circle cx="164.0" cy="505.1" r="1.0"/><circle cx="172.3" cy="527.4" r="1.2"/><circle cx="142.1" cy="517.7" r="0.8"/><circle cx="166.6" cy="503.7" r="0.9"/><circle cx="141.8" cy="527.8" r="0.7"/><circle cx="204.8" cy="518.3" r="1.0"/><circle cx="159.1" cy="533.8" r="1.2"/><circle cx="202.9" cy="513.2" r="1.0"/><circle cx="189.8" cy="535.3" r="0.8"/><circle cx="193.3" cy="529.5" r="0.8"/><circle cx="73.2" cy="544.1" r="0.8"/><circle cx="196.3" cy="518.7" r="1.0"/><circle cx="159.5" cy="505.8" r="0.9"/><circle cx="161.3" cy="541.7" r="0.8"/><circle cx="204.7" cy="546.1" r="1.2"/><circle cx="203.4" cy="515.0" r="1.0"/><circle cx="179.1" cy="512.7" r="1.0"/><circle cx="161.7" cy="556.6" r="1.2"/><circle cx="138.6" cy="548.9" r="0.9"/><circle cx="154.9" cy="494.2" r="0.9"/><circle cx="141.5" cy="545.6" r="0.9"/><circle cx="178.4" cy="508.5" r="0.9"/><circle cx="190.8" cy="517.1" r="0.8"/><circle cx="164.5" cy="520.5" r="1.2"/><circle cx="171.4" cy="504.4" r="0.9"/><circle cx="121.4" cy="530.5" r="0.9"/><circle cx="146.4" cy="545.5" r="1.0"/><circle cx="138.6" cy="553.1" r="1.0"/><circle cx="232.4" cy="514.5" r="1.2"/><circle cx="213.8" cy="565.6" r="0.8"/><circle cx="199.7" cy="481.7" r="1.0"/><circle cx="165.8" cy="529.9" r="1.0"/><circle cx="189.4" cy="552.7" r="1.2"/><circle cx="107.3" cy="517.2" r="0.9"/><circle cx="136.0" cy="497.8" r="0.9"/><circle cx="166.9" cy="517.3" r="0.8"/><circle cx="136.9" cy="507.5" r="0.8"/><circle cx="175.6" cy="551.9" r="0.7"/><circle cx="195.7" cy="558.4" r="0.7"/><circle cx="161.2" cy="533.5" r="0.8"/><circle cx="142.3" cy="515.8" r="0.9"/><circle cx="141.9" cy="540.8" r="1.2"/><circle cx="179.7" cy="552.5" r="0.9"/><circle cx="194.5" cy="522.1" r="0.9"/><circle cx="200.2" cy="490.4" r="1.2"/><circle cx="163.1" cy="525.9" r="1.2"/><circle cx="161.1" cy="537.9" r="1.2"/><circle cx="149.7" cy="544.3" r="0.9"/><circle cx="179.3" cy="503.1" r="1.2"/><circle cx="152.4" cy="507.0" r="0.8"/><circle cx="182.1" cy="538.4" r="1.0"/><circle cx="149.2" cy="510.3" r="0.7"/><circle cx="151.0" cy="534.0" r="1.2"/><circle cx="145.6" cy="517.6" r="1.2"/><circle cx="148.4" cy="537.0" r="0.8"/><circle cx="138.3" cy="522.9" r="1.0"/><circle cx="129.9" cy="548.2" r="0.8"/><circle cx="151.4" cy="513.2" r="0.9"/><circle cx="141.1" cy="522.5" r="0.9"/><circle cx="189.0" cy="516.2" r="0.9"/><circle cx="171.5" cy="525.4" r="1.2"/><circle cx="186.9" cy="518.3" r="0.7"/><circle cx="177.6" cy="485.3" r="0.7"/><circle cx="134.9" cy="525.2" r="0.8"/><circle cx="209.7" cy="508.2" r="0.8"/><circle cx="118.0" cy="524.4" r="0.9"/><circle cx="158.5" cy="548.4" r="1.0"/><circle cx="116.5" cy="517.4" r="0.7"/><circle cx="181.4" cy="523.1" r="0.9"/><circle cx="145.0" cy="518.2" r="0.9"/><circle cx="167.3" cy="517.4" r="0.9"/><circle cx="140.4" cy="547.3" r="1.2"/><circle cx="169.3" cy="523.1" r="1.2"/><circle cx="112.3" cy="534.3" r="1.2"/>
</g>
<path d="M30.8,587.8 L282.2,587.8 L156.5,370.1 Z" fill="none" stroke="#000" stroke-width="1.4" stroke-linejoin="miter"/>
<circle cx="176.8" cy="524.2" r="2.6" fill="#701830"/>
<circle cx="179.7" cy="520.4" r="6.7" fill="#5a0808"/>
<circle cx="127.6" cy="524.2" r="4.2" fill="#c05018"/>
<circle cx="130.5" cy="526.2" r="2.3" fill="#5050d0"/>
<circle cx="162.3" cy="528" r="2.5" fill="#50b8b0"/>
<circle cx="164.2" cy="526.2" r="3.3" fill="#1a9a2a"/>
<circle cx="172" cy="524.2" r="3.5" fill="#30a8e0"/>
<circle cx="162.9" cy="534.8" r="3.3" fill="#c8d020"/>
<circle cx="192.8" cy="515" r="3" fill="#1a40b0"/>
<circle cx="164.2" cy="509.4" r="2.5" fill="#a01818"/>
<circle cx="144.6" cy="511.3" r="2.5" fill="#8030c0"/>
<circle cx="170.6" cy="516.5" r="2.5" fill="#40e060"/>
<circle cx="165.2" cy="515.6" r="2" fill="#c0b840"/>
<circle cx="189.9" cy="527.1" r="2.5" fill="#d01040"/>
<circle cx="182.2" cy="501.7" r="2" fill="#70d0c0"/>
<g font-size="10.4">
<text x="260.06" y="548.86">20</text>
<text transform="translate(82.58,594.70) rotate(-60)" text-anchor="end">20</text>
<text transform="translate(125.36,412.34) rotate(60)" text-anchor="end">20</text>
<text x="234.92" y="505.32">40</text>
<text transform="translate(132.86,594.70) rotate(-60)" text-anchor="end">40</text>
<text transform="translate(100.22,455.88) rotate(60)" text-anchor="end">40</text>
<text x="209.78" y="461.78">60</text>
<text transform="translate(183.14,594.70) rotate(-60)" text-anchor="end">60</text>
<text transform="translate(75.08,499.42) rotate(60)" text-anchor="end">60</text>
<text x="184.64" y="418.24">80</text>
<text transform="translate(233.42,594.70) rotate(-60)" text-anchor="end">80</text>
<text transform="translate(49.94,542.96) rotate(60)" text-anchor="end">80</text>
<text x="159.50" y="374.70">100</text>
<text transform="translate(283.70,594.70) rotate(-60)" text-anchor="end">100</text>
<text transform="translate(24.80,586.50) rotate(60)" text-anchor="end">100</text>
</g>
<g font-size="10.8" font-weight="bold"><text x="153.8" y="358.4">L</text><text x="3.7" y="600.7">CK</text><text x="294.3" y="600.7">H</text></g>
<text x="248.4" y="356.5" font-size="8.7" font-weight="bold">Size</text>
<circle cx="255.3" cy="371.70" r="2.3" fill="#000"/>
<text x="268.6" y="375.00" font-size="9.1">0.25</text>
<circle cx="255.3" cy="386.97" r="3.0" fill="#000"/>
<text x="268.6" y="390.27" font-size="9.1">0.50</text>
<circle cx="255.3" cy="402.24" r="3.6" fill="#000"/>
<text x="268.6" y="405.54" font-size="9.1">0.75</text>
<circle cx="255.3" cy="417.51" r="4.1" fill="#000"/>
<text x="268.6" y="420.81" font-size="9.1">1.00</text>
<circle cx="255.3" cy="432.78" r="4.7" fill="#000"/>
<text x="268.6" y="436.08" font-size="9.1">1.25</text>
<text x="308.8" y="356.6" font-size="8.7" font-weight="bold">ASVs</text>
<circle cx="316.3" cy="370.00" r="2" fill="#5a0808"/>
<text x="330.5" y="373.60" font-size="10" font-style="italic" font-weight="bold">Sphingomonas_SPECIALIST</text>
<circle cx="316.3" cy="385.31" r="2" fill="#c05a28"/>
<text x="330.5" y="388.91" font-size="10" font-style="italic">Unassigned_SPECIALIST</text>
<circle cx="316.3" cy="400.62" r="2" fill="#40a8e0"/>
<text x="330.5" y="404.22" font-size="10" font-style="italic">Unassigned_OPPORTUNIST</text>
<circle cx="316.3" cy="415.93" r="2" fill="#1a9a2a"/>
<text x="330.5" y="419.53" font-size="10" font-style="italic" font-weight="bold">Gp6_OPPORTUNIST</text>
<circle cx="316.3" cy="431.24" r="2" fill="#c8d020"/>
<text x="330.5" y="434.84" font-size="10" font-style="italic" font-weight="bold">Gp6_SPECIALIST</text>
<circle cx="316.3" cy="446.55" r="2" fill="#1a40b0"/>
<text x="330.5" y="450.15" font-size="10" font-style="italic" font-weight="bold">Arthrobacter_SPECIALIST</text>
<circle cx="316.3" cy="461.86" r="2" fill="#a01818"/>
<text x="330.5" y="465.46" font-size="10" font-style="italic">Vasilyevaea_SPECIALIST</text>
<circle cx="316.3" cy="477.17" r="2" fill="#8030c0"/>
<text x="330.5" y="480.77" font-size="10" font-style="italic">Altererythrobacter_SPECIALIST</text>
<circle cx="316.3" cy="492.48" r="2" fill="#701830"/>
<text x="330.5" y="496.08" font-size="10" font-style="italic">Unassigned_GENERALIST</text>
<circle cx="316.3" cy="507.79" r="2" fill="#5050d0"/>
<text x="330.5" y="511.39" font-size="10" font-style="italic">Povalibacter_SPECIALIST</text>
<circle cx="316.3" cy="523.10" r="2" fill="#40e060"/>
<text x="330.5" y="526.70" font-size="10" font-style="italic" font-weight="bold">Sphingomonas_OPPORTUNIST</text>
<circle cx="316.3" cy="538.41" r="2" fill="#50b8b0"/>
<text x="330.5" y="542.01" font-size="10" font-style="italic">Gp4_SPECIALIST</text>
<circle cx="316.3" cy="553.72" r="2" fill="#d01040"/>
<text x="330.5" y="557.32" font-size="10" font-style="italic" font-weight="bold">Aridibacter_SPECIALIST</text>
<circle cx="316.3" cy="569.03" r="2" fill="#c0b840"/>
<text x="330.5" y="572.63" font-size="10" font-style="italic">Gemmatimonas_OPPORTUNIST</text>
<circle cx="316.3" cy="584.34" r="2" fill="#70d0c8"/>
<text x="330.5" y="587.94" font-size="10" font-style="italic">Lactobacillus_SPECIALIST</text>
<rect x="629.4" y="338.0" width="43.0" height="222.0" fill="none" stroke="#8c8c8c" stroke-width="0.9"/>
<rect x="629.4" y="563.3" width="43.0" height="45.8" fill="none" stroke="#8c8c8c" stroke-width="0.9"/>
<g stroke="#dde6ea" stroke-width="0.7">
<line x1="629.4" y1="343.00" x2="672.4" y2="343.00"/>
<line x1="629.4" y1="351.85" x2="672.4" y2="351.85"/>
<line x1="629.4" y1="360.70" x2="672.4" y2="360.70"/>
<line x1="629.4" y1="369.55" x2="672.4" y2="369.55"/>
<line x1="629.4" y1="378.40" x2="672.4" y2="378.40"/>
<line x1="629.4" y1="387.25" x2="672.4" y2="387.25"/>
<line x1="629.4" y1="396.10" x2="672.4" y2="396.10"/>
<line x1="629.4" y1="404.95" x2="672.4" y2="404.95"/>
<line x1="629.4" y1="413.80" x2="672.4" y2="413.80"/>
<line x1="629.4" y1="422.65" x2="672.4" y2="422.65"/>
<line x1="629.4" y1="431.50" x2="672.4" y2="431.50"/>
<line x1="629.4" y1="440.35" x2="672.4" y2="440.35"/>
<line x1="629.4" y1="449.20" x2="672.4" y2="449.20"/>
<line x1="629.4" y1="458.05" x2="672.4" y2="458.05"/>
<line x1="629.4" y1="466.90" x2="672.4" y2="466.90"/>
<line x1="629.4" y1="475.75" x2="672.4" y2="475.75"/>
<line x1="629.4" y1="484.60" x2="672.4" y2="484.60"/>
<line x1="629.4" y1="493.45" x2="672.4" y2="493.45"/>
<line x1="629.4" y1="502.30" x2="672.4" y2="502.30"/>
<line x1="629.4" y1="511.15" x2="672.4" y2="511.15"/>
<line x1="629.4" y1="520.00" x2="672.4" y2="520.00"/>
<line x1="629.4" y1="528.85" x2="672.4" y2="528.85"/>
<line x1="629.4" y1="537.70" x2="672.4" y2="537.70"/>
<line x1="629.4" y1="546.55" x2="672.4" y2="546.55"/>
<line x1="629.4" y1="555.40" x2="672.4" y2="555.40"/>
<line x1="629.4" y1="567.40" x2="672.4" y2="567.40"/>
<line x1="629.4" y1="576.35" x2="672.4" y2="576.35"/>
<line x1="629.4" y1="585.30" x2="672.4" y2="585.30"/>
<line x1="629.4" y1="594.25" x2="672.4" y2="594.25"/>
<line x1="629.4" y1="603.20" x2="672.4" y2="603.20"/>
<line x1="637.1" y1="338.4" x2="637.1" y2="559.6"/><line x1="637.1" y1="563.7" x2="637.1" y2="608.7"/>
<line x1="650.6" y1="338.4" x2="650.6" y2="559.6"/><line x1="650.6" y1="563.7" x2="650.6" y2="608.7"/>
<line x1="664.1" y1="338.4" x2="664.1" y2="559.6"/><line x1="664.1" y1="563.7" x2="664.1" y2="608.7"/>
</g>
<g stroke="#333" stroke-width="0.6">
<line x1="627" y1="343.00" x2="629.4" y2="343.00"/>
<line x1="627" y1="351.85" x2="629.4" y2="351.85"/>
<line x1="627" y1="360.70" x2="629.4" y2="360.70"/>
<line x1="627" y1="369.55" x2="629.4" y2="369.55"/>
<line x1="627" y1="378.40" x2="629.4" y2="378.40"/>
<line x1="627" y1="387.25" x2="629.4" y2="387.25"/>
<line x1="627" y1="396.10" x2="629.4" y2="396.10"/>
<line x1="627" y1="404.95" x2="629.4" y2="404.95"/>
<line x1="627" y1="413.80" x2="629.4" y2="413.80"/>
<line x1="627" y1="422.65" x2="629.4" y2="422.65"/>
<line x1="627" y1="431.50" x2="629.4" y2="431.50"/>
<line x1="627" y1="440.35" x2="629.4" y2="440.35"/>
<line x1="627" y1="449.20" x2="629.4" y2="449.20"/>
<line x1="627" y1="458.05" x2="629.4" y2="458.05"/>
<line x1="627" y1="466.90" x2="629.4" y2="466.90"/>
<line x1="627" y1="475.75" x2="629.4" y2="475.75"/>
<line x1="627" y1="484.60" x2="629.4" y2="484.60"/>
<line x1="627" y1="493.45" x2="629.4" y2="493.45"/>
<line x1="627" y1="502.30" x2="629.4" y2="502.30"/>
<line x1="627" y1="511.15" x2="629.4" y2="511.15"/>
<line x1="627" y1="520.00" x2="629.4" y2="520.00"/>
<line x1="627" y1="528.85" x2="629.4" y2="528.85"/>
<line x1="627" y1="537.70" x2="629.4" y2="537.70"/>
<line x1="627" y1="546.55" x2="629.4" y2="546.55"/>
<line x1="627" y1="555.40" x2="629.4" y2="555.40"/>
<line x1="627" y1="567.40" x2="629.4" y2="567.40"/>
<line x1="627" y1="576.35" x2="629.4" y2="576.35"/>
<line x1="627" y1="585.30" x2="629.4" y2="585.30"/>
<line x1="627" y1="594.25" x2="629.4" y2="594.25"/>
<line x1="627" y1="603.20" x2="629.4" y2="603.20"/>
<line x1="637.1" y1="609.1" x2="637.1" y2="611.3"/>
<line x1="650.6" y1="609.1" x2="650.6" y2="611.3"/>
<line x1="664.1" y1="609.1" x2="664.1" y2="611.3"/>
</g>
<g stroke="#3a3a3a" stroke-width="0.5">
<circle cx="637.1" cy="343.00" r="2.80" fill="#e080b0"/>
<circle cx="650.6" cy="343.00" r="3.40" fill="#d01848"/>
<circle cx="664.1" cy="343.00" r="3.40" fill="#b01030"/>
<circle cx="637.1" cy="351.85" r="2.60" fill="#f8f8f8"/>
<circle cx="650.6" cy="351.85" r="3.20" fill="#d84080"/>
<circle cx="664.1" cy="351.85" r="3.50" fill="#a00820"/>
<circle cx="637.1" cy="360.70" r="2.50" fill="#9ab8d0"/>
<circle cx="650.6" cy="360.70" r="2.60" fill="#f8f8f8"/>
<circle cx="664.1" cy="360.70" r="3.30" fill="#c01040"/>
<circle cx="637.1" cy="369.55" r="2.50" fill="#d0e8f0"/>
<circle cx="650.6" cy="369.55" r="2.50" fill="#a8c8d8"/>
<circle cx="664.1" cy="369.55" r="3.20" fill="#d83888"/>
<circle cx="637.1" cy="378.40" r="1.80" fill="#4070a8"/>
<circle cx="650.6" cy="378.40" r="2.50" fill="#d8ecf4"/>
<circle cx="664.1" cy="378.40" r="3.00" fill="#e03888"/>
<circle cx="637.1" cy="387.25" r="3.00" fill="#e060a0"/>
<circle cx="650.6" cy="387.25" r="2.50" fill="#a8d0e0"/>
<circle cx="664.1" cy="387.25" r="2.50" fill="#3890d0"/>
<circle cx="637.1" cy="396.10" r="2.20" fill="#308888"/>
<circle cx="650.6" cy="396.10" r="2.50" fill="#70a8c0"/>
<circle cx="664.1" cy="396.10" r="2.50" fill="#4898d0"/>
<circle cx="637.1" cy="404.95" r="2.50" fill="#70a0c0"/>
<circle cx="650.6" cy="404.95" r="2.50" fill="#6090b0"/>
<circle cx="664.1" cy="404.95" r="2.00" fill="#4462a0"/>
<circle cx="637.1" cy="413.80" r="2.60" fill="#80b0d0"/>
<circle cx="650.6" cy="413.80" r="2.20" fill="#4462a0"/>
<circle cx="664.1" cy="413.80" r="2.00" fill="#384888"/>
<circle cx="637.1" cy="422.65" r="2.20" fill="#5080a0"/>
<circle cx="650.6" cy="422.65" r="2.20" fill="#4060a0"/>
<circle cx="664.1" cy="422.65" r="2.40" fill="#5080b0"/>
<circle cx="637.1" cy="431.50" r="2.00" fill="#405898"/>
<circle cx="650.6" cy="431.50" r="2.20" fill="#4868a8"/>
<circle cx="664.1" cy="431.50" r="2.80" fill="#88b8d0"/>
<circle cx="637.1" cy="440.35" r="2.04" fill="#517a95"/>
<circle cx="650.6" cy="440.35" r="1.87" fill="#415a7a"/>
<circle cx="664.1" cy="440.35" r="1.70" fill="#334a7a"/>
<circle cx="637.1" cy="449.20" r="2.12" fill="#5188a3"/>
<circle cx="650.6" cy="449.20" r="1.87" fill="#3e5588"/>
<circle cx="664.1" cy="449.20" r="1.87" fill="#365195"/>
<circle cx="637.1" cy="458.05" r="1.78" fill="#395388"/>
<circle cx="650.6" cy="458.05" r="1.70" fill="#36518e"/>
<circle cx="664.1" cy="458.05" r="1.95" fill="#36519c"/>
<circle cx="637.1" cy="466.90" r="1.87" fill="#3e5588"/>
<circle cx="650.6" cy="466.90" r="1.53" fill="#2c4475"/>
<circle cx="664.1" cy="466.90" r="1.27" fill="#283d6c"/>
<circle cx="637.1" cy="475.75" r="1.95" fill="#365188"/>
<circle cx="650.6" cy="475.75" r="1.44" fill="#2c4475"/>
<circle cx="664.1" cy="475.75" r="1.53" fill="#314a81"/>
<circle cx="637.1" cy="484.60" r="1.53" fill="#2f4475"/>
<circle cx="650.6" cy="484.60" r="1.53" fill="#2f4475"/>
<circle cx="664.1" cy="484.60" r="1.95" fill="#3d4a88"/>
<circle cx="637.1" cy="493.45" r="2.04" fill="#3d589c"/>
<circle cx="650.6" cy="493.45" r="1.19" fill="#23315f"/>
<circle cx="664.1" cy="493.45" r="1.70" fill="#364481"/>
<circle cx="637.1" cy="502.30" r="0.85" fill="#23315f"/>
<circle cx="650.6" cy="502.30" r="2.21" fill="#3d4a8e"/>
<circle cx="664.1" cy="502.30" r="1.70" fill="#364e81"/>
<circle cx="637.1" cy="511.15" r="1.87" fill="#36518e"/>
<circle cx="650.6" cy="511.15" r="1.53" fill="#31447a"/>
<circle cx="664.1" cy="511.15" r="1.95" fill="#3d5895"/>
<circle cx="637.1" cy="520.00" r="1.10" fill="#222f5f"/>
<circle cx="650.6" cy="520.00" r="1.61" fill="#314a81"/>
<circle cx="664.1" cy="520.00" r="1.87" fill="#36518e"/>
<circle cx="637.1" cy="528.85" r="1.87" fill="#36518e"/>
<circle cx="650.6" cy="528.85" r="1.36" fill="#2c4475"/>
<circle cx="664.1" cy="528.85" r="1.70" fill="#314a81"/>
<circle cx="637.1" cy="537.70" r="1.70" fill="#314a81"/>
<circle cx="650.6" cy="537.70" r="1.36" fill="#2c4475"/>
<circle cx="664.1" cy="537.70" r="2.04" fill="#3d589c"/>
<circle cx="637.1" cy="546.55" r="1.61" fill="#2c4475"/>
<circle cx="650.6" cy="546.55" r="1.70" fill="#314a81"/>
<circle cx="664.1" cy="546.55" r="1.53" fill="#2c4475"/>
<circle cx="637.1" cy="555.40" r="1.95" fill="#36518e"/>
<circle cx="650.6" cy="555.40" r="1.36" fill="#2c4475"/>
<circle cx="664.1" cy="555.40" r="1.61" fill="#2f4475"/>
<circle cx="637.1" cy="567.40" r="1.95" fill="#3d5895"/>
<circle cx="650.6" cy="567.40" r="1.70" fill="#365188"/>
<circle cx="664.1" cy="567.40" r="1.95" fill="#3d5895"/>
<circle cx="637.1" cy="576.35" r="1.95" fill="#395595"/>
<circle cx="650.6" cy="576.35" r="1.53" fill="#314a81"/>
<circle cx="664.1" cy="576.35" r="2.04" fill="#3d589c"/>
<circle cx="637.1" cy="585.30" r="1.95" fill="#395595"/>
<circle cx="650.6" cy="585.30" r="1.53" fill="#314a81"/>
<circle cx="664.1" cy="585.30" r="2.04" fill="#3d589c"/>
<circle cx="637.1" cy="594.25" r="1.70" fill="#36518e"/>
<circle cx="650.6" cy="594.25" r="1.53" fill="#314a81"/>
<circle cx="664.1" cy="594.25" r="1.78" fill="#36518e"/>
<circle cx="637.1" cy="603.20" r="1.53" fill="#2c4475"/>
<circle cx="650.6" cy="603.20" r="1.36" fill="#2c4475"/>
<circle cx="664.1" cy="603.20" r="1.95" fill="#395595"/>
</g>
<g font-size="10" font-style="italic" text-anchor="end">
<text x="624.4" y="347.50">ASV_22_Sphingomonas</text>
<text x="624.4" y="356.35" font-weight="bold">* ASV_37_Sphingomonas</text>
<text x="624.4" y="365.20" font-weight="bold">** ASV_14_Sphingomonas</text>
<text x="624.4" y="374.05">ASV_20_Sphingomonas</text>
<text x="624.4" y="382.90" font-weight="bold">* ASV_15_Arthrobacter</text>
<text x="624.4" y="391.75">ASV_42_Unassigned</text>
<text x="624.4" y="400.60">ASV_1336_Vasilyevaea</text>
<text x="624.4" y="409.45">ASV_35_Altererythrobacter</text>
<text x="624.4" y="418.30">ASV_61_Povalibacter</text>
<text x="624.4" y="427.15">ASV_111_Gp4</text>
<text x="624.4" y="436.00" font-weight="bold">*** ASV_64_Aridibacter</text>
<text x="624.4" y="444.85">ASV_132_Unassigned</text>
<text x="624.4" y="453.70">ASV_120_Unassigned</text>
<text x="624.4" y="462.55">ASV_168_Gp6</text>
<text x="624.4" y="471.40" font-weight="bold">* ASV_265_Unassigned</text>
<text x="624.4" y="480.25" font-weight="bold">** ASV_125_Nitrospira</text>
<text x="624.4" y="489.10">ASV_241_Gp6</text>
<text x="624.4" y="497.95" font-weight="bold">* ASV_226_Terrimonas</text>
<text x="624.4" y="506.80" font-weight="bold">* ASV_143_Nibribacter</text>
<text x="624.4" y="515.65">ASV_283_Gemmatimonas</text>
<text x="624.4" y="524.50">ASV_193_Lactobacillus</text>
<text x="624.4" y="533.35">ASV_243_Unassigned</text>
<text x="624.4" y="542.20" font-weight="bold">* ASV_264_Gp6</text>
<text x="624.4" y="551.05">ASV_155_Phaselicystis</text>
<text x="624.4" y="559.90">ASV_1133_Variovorax</text>
<text x="624.4" y="571.90" font-weight="bold">** ASV_582_Morococcus</text>
<text x="624.4" y="580.85">ASV_298_Gp4</text>
<text x="624.4" y="589.80">ASV_253_Gaiella</text>
<text x="624.4" y="598.75">ASV_248_Subdivision3</text>
<text x="624.4" y="607.70">ASV_340_Blastococcus</text>
</g>
<g font-size="9.2" font-weight="bold" text-anchor="middle"><text x="636.5" y="619.4">CK</text><text x="650.7" y="619.2">L</text><text x="664.6" y="619.2">H</text></g>
<g font-size="9.5"><text transform="translate(679.2,440.3) rotate(90)" text-anchor="middle">SPECIALIST</text><text transform="translate(679,588.4) rotate(90)" text-anchor="middle">OPPORTUNIST</text></g>
<text x="699.7" y="433.2" font-size="9" font-weight="bold">value</text>
<rect x="703.2" y="436.8" width="7.8" height="40.1" fill="url(#vb)"/>
<g font-size="9" font-weight="bold">
<text x="713.1" y="444.7">0.4</text>
<text x="713.1" y="454.0">0.3</text>
<text x="713.1" y="463.2">0.2</text>
<text x="713.1" y="471.8">0.1</text>
<circle cx="705.7" cy="498.0" r="1.3" fill="none" stroke="#333" stroke-width="0.6"/>
<text x="713.1" y="501.2">0.1</text>
<circle cx="705.7" cy="506.4" r="1.9" fill="none" stroke="#333" stroke-width="0.6"/>
<text x="713.1" y="509.59999999999997">0.2</text>
<circle cx="705.7" cy="514.5" r="2.4" fill="none" stroke="#333" stroke-width="0.6"/>
<text x="713.1" y="517.7">0.3</text>
<circle cx="705.7" cy="522.7" r="2.9" fill="none" stroke="#333" stroke-width="0.6"/>
<text x="713.1" y="525.9000000000001">0.4</text>
</g></svg></body></html>
